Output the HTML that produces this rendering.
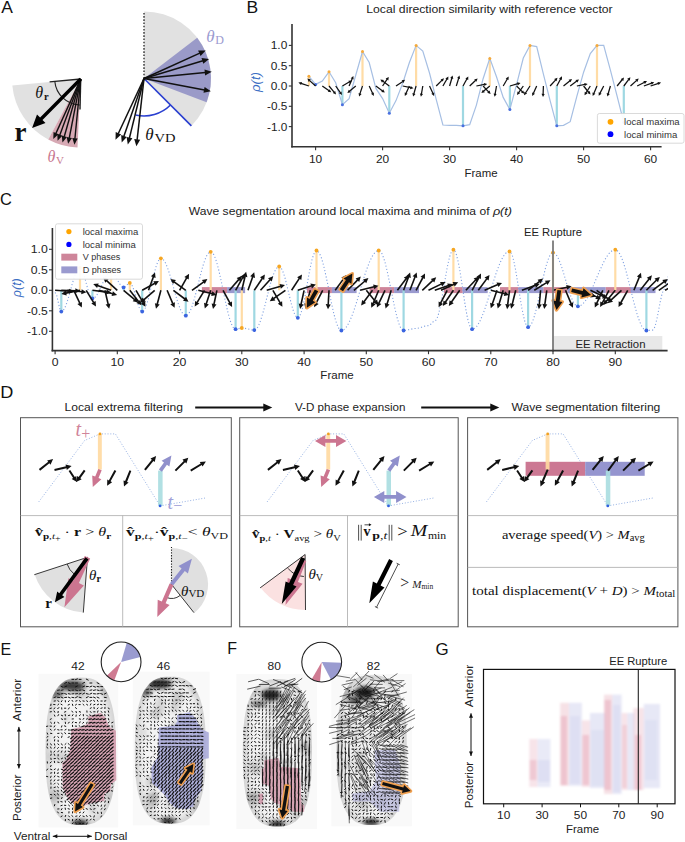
<!DOCTYPE html>
<html><head><meta charset="utf-8"><style>
html,body{margin:0;padding:0;background:#fff;width:685px;height:842px;overflow:hidden}
svg{display:block}
</style></head><body>
<svg width="685" height="842" viewBox="0 0 685 842">
<text x="1.2" y="12.8" font-size="17.34" text-anchor="start" fill="#111" font-family='"Liberation Sans", sans-serif' textLength="11.63" lengthAdjust="spacingAndGlyphs" >A</text>
<text x="246.6" y="12.8" font-size="17.34" text-anchor="start" fill="#111" font-family='"Liberation Sans", sans-serif' textLength="11.66" lengthAdjust="spacingAndGlyphs" >B</text>
<text x="0.0" y="204.6" font-size="17.34" text-anchor="start" fill="#111" font-family='"Liberation Sans", sans-serif' textLength="11.87" lengthAdjust="spacingAndGlyphs" >C</text>
<text x="0.2" y="397.5" font-size="17.34" text-anchor="start" fill="#111" font-family='"Liberation Sans", sans-serif' textLength="13.09" lengthAdjust="spacingAndGlyphs" >D</text>
<text x="0.4" y="654.6" font-size="17.34" text-anchor="start" fill="#111" font-family='"Liberation Sans", sans-serif' textLength="10.74" lengthAdjust="spacingAndGlyphs" >E</text>
<text x="227.2" y="654.0" font-size="17.34" text-anchor="start" fill="#111" font-family='"Liberation Sans", sans-serif' textLength="9.78" lengthAdjust="spacingAndGlyphs" >F</text>
<text x="435.4" y="654.6" font-size="17.34" text-anchor="start" fill="#111" font-family='"Liberation Sans", sans-serif' textLength="13.17" lengthAdjust="spacingAndGlyphs" >G</text>
<path d="M80.7,79.0 L48.2,139.5 A68.7,68.7 0 0 1 12.3,85.5 Z" fill="#e1e1e1" />
<path d="M80.7,79.0 L77.5,147.6 A68.7,68.7 0 0 1 48.2,139.5 Z" fill="#d7a9b4" />
<line x1="80.7" y1="79.0" x2="49.6" y2="81.9" stroke="#222" stroke-width="1.4" />
<line x1="80.7" y1="79.0" x2="80.0" y2="109.6" stroke="#222" stroke-width="1.4" />
<path d="M79.8,105.0 A26,26 0 0 1 54.8,81.4" fill="none" stroke="#222" stroke-width="1.1"/>
<line x1="80.7" y1="79.0" x2="55.8" y2="133.6" stroke="#111" stroke-width="1.4" />
<path d="M53.3,139.1 L53.5,132.0 L58.5,134.3 Z" fill="#111" />
<line x1="80.7" y1="79.0" x2="59.7" y2="135.2" stroke="#111" stroke-width="1.4" />
<path d="M57.6,140.8 L57.3,133.8 L62.4,135.7 Z" fill="#111" />
<line x1="80.7" y1="79.0" x2="64.2" y2="136.7" stroke="#111" stroke-width="1.4" />
<path d="M62.5,142.4 L61.7,135.4 L66.9,137.0 Z" fill="#111" />
<line x1="80.7" y1="79.0" x2="69.3" y2="137.9" stroke="#111" stroke-width="1.4" />
<path d="M68.1,143.8 L66.6,136.9 L72.0,137.9 Z" fill="#111" />
<line x1="80.7" y1="79.0" x2="74.9" y2="138.7" stroke="#111" stroke-width="1.4" />
<path d="M74.4,144.7 L72.3,138.0 L77.7,138.5 Z" fill="#111" />
<path d="M79.5,77.8 L40.1,117.5 L37.0,114.4 L32.1,127.9 L45.5,122.9 L42.5,119.9 L81.9,80.2 Z" fill="#000" stroke="none" stroke-width="0" stroke-linejoin="round" paint-order="stroke"/>
<text x="14.6" y="141.2" font-size="27" text-anchor="start" fill="#111" font-family='"Liberation Serif", serif' font-weight="bold">r</text>
<text x="35.3" y="97.5" font-size="16" text-anchor="start" fill="#111" font-family='"Liberation Serif", serif' font-style="italic">θ</text>
<text x="44.0" y="99.6" font-size="10.5" text-anchor="start" fill="#111" font-family='"Liberation Serif", serif' font-weight="bold">r</text>
<text x="47.5" y="161.5" font-size="16" text-anchor="start" fill="#c8788f" font-family='"Liberation Serif", serif' font-style="italic">θ</text>
<text x="56.0" y="163.5" font-size="11" text-anchor="start" fill="#c8788f" font-family='"Liberation Serif", serif' >V</text>
<path d="M144.0,78.5 L144.0,11.5 A67,67 0 0 1 191.4,125.9 Z" fill="#e1e1e1" />
<path d="M144.0,78.5 L197.2,37.8 A67,67 0 0 1 206.6,102.3 Z" fill="#9a9ac8" />
<line x1="144.0" y1="78.5" x2="144.0" y2="11.4" stroke="#222" stroke-width="1.3" stroke-dasharray="1.6,1.6"/>
<line x1="144.0" y1="78.5" x2="191.4" y2="125.9" stroke="#2a3fd0" stroke-width="1.6" />
<path d="M170.5,105.0 A37.5,37.5 0 0 1 135.6,115.0" fill="none" stroke="#2a3fd0" stroke-width="1.6"/>
<line x1="144.0" y1="78.5" x2="199.8" y2="53.1" stroke="#111" stroke-width="1.5" />
<path d="M205.7,50.4 L200.6,56.0 L198.1,50.6 Z" fill="#111" />
<line x1="144.0" y1="78.5" x2="202.9" y2="60.8" stroke="#111" stroke-width="1.5" />
<path d="M209.1,58.9 L203.3,63.8 L201.5,58.0 Z" fill="#111" />
<line x1="144.0" y1="78.5" x2="205.3" y2="72.4" stroke="#111" stroke-width="1.5" />
<path d="M211.8,71.8 L205.1,75.5 L204.5,69.5 Z" fill="#111" />
<line x1="144.0" y1="78.5" x2="204.5" y2="90.0" stroke="#111" stroke-width="1.5" />
<path d="M210.9,91.2 L203.5,92.8 L204.6,86.9 Z" fill="#111" />
<line x1="144.0" y1="78.5" x2="118.2" y2="133.8" stroke="#111" stroke-width="1.5" />
<path d="M115.5,139.7 L115.7,132.1 L121.2,134.6 Z" fill="#111" />
<line x1="144.0" y1="78.5" x2="123.8" y2="136.4" stroke="#111" stroke-width="1.5" />
<path d="M121.7,142.5 L121.2,134.9 L126.8,136.9 Z" fill="#111" />
<line x1="144.0" y1="78.5" x2="129.4" y2="138.1" stroke="#111" stroke-width="1.5" />
<path d="M127.8,144.4 L126.6,136.9 L132.4,138.3 Z" fill="#111" />
<line x1="144.0" y1="78.5" x2="137.1" y2="139.8" stroke="#111" stroke-width="1.5" />
<path d="M136.4,146.3 L134.2,139.0 L140.2,139.7 Z" fill="#111" />
<text x="206.2" y="41.8" font-size="17" text-anchor="start" fill="#9a9ad0" font-family='"Liberation Serif", serif' font-style="italic">θ</text>
<text x="215.3" y="43.8" font-size="12" text-anchor="start" fill="#9a9ad0" font-family='"Liberation Serif", serif' >D</text>
<text x="145.3" y="140.0" font-size="17" text-anchor="start" fill="#111" font-family='"Liberation Serif", serif' font-style="italic">θ</text>
<text x="154.4" y="142.0" font-size="12.5" text-anchor="start" fill="#111" font-family='"Liberation Serif", serif' textLength="21" lengthAdjust="spacingAndGlyphs">VD</text>
<text x="489.5" y="12.7" font-size="10.81" text-anchor="middle" fill="#222" font-family='"Liberation Sans", sans-serif' textLength="246.41" lengthAdjust="spacingAndGlyphs" >Local direction similarity with reference vector</text>
<line x1="292.0" y1="24.0" x2="292.0" y2="147.6" stroke="#333" stroke-width="1.6" />
<line x1="291.2" y1="146.8" x2="661.6" y2="146.8" stroke="#333" stroke-width="1.6" />
<line x1="288.8" y1="45.4" x2="292.0" y2="45.4" stroke="#333" stroke-width="1.1" />
<text x="287.3" y="49.4" font-size="10.61" text-anchor="end" fill="#222" font-family='"Liberation Sans", sans-serif' textLength="16.54" lengthAdjust="spacingAndGlyphs" >1.0</text>
<line x1="288.8" y1="65.7" x2="292.0" y2="65.7" stroke="#333" stroke-width="1.1" />
<text x="287.3" y="69.7" font-size="10.61" text-anchor="end" fill="#222" font-family='"Liberation Sans", sans-serif' textLength="16.54" lengthAdjust="spacingAndGlyphs" >0.5</text>
<line x1="288.8" y1="86.0" x2="292.0" y2="86.0" stroke="#333" stroke-width="1.1" />
<text x="287.3" y="90.0" font-size="10.61" text-anchor="end" fill="#222" font-family='"Liberation Sans", sans-serif' textLength="16.54" lengthAdjust="spacingAndGlyphs" >0.0</text>
<line x1="288.8" y1="106.3" x2="292.0" y2="106.3" stroke="#333" stroke-width="1.1" />
<text x="287.3" y="110.3" font-size="10.61" text-anchor="end" fill="#222" font-family='"Liberation Sans", sans-serif' textLength="20.29" lengthAdjust="spacingAndGlyphs" >-0.5</text>
<line x1="288.8" y1="126.6" x2="292.0" y2="126.6" stroke="#333" stroke-width="1.1" />
<text x="287.3" y="130.6" font-size="10.61" text-anchor="end" fill="#222" font-family='"Liberation Sans", sans-serif' textLength="20.29" lengthAdjust="spacingAndGlyphs" >-1.0</text>
<line x1="315.6" y1="146.8" x2="315.6" y2="150.3" stroke="#333" stroke-width="1.1" />
<text x="315.6" y="162.6" font-size="10.61" text-anchor="middle" fill="#222" font-family='"Liberation Sans", sans-serif' textLength="13.23" lengthAdjust="spacingAndGlyphs" >10</text>
<line x1="382.6" y1="146.8" x2="382.6" y2="150.3" stroke="#333" stroke-width="1.1" />
<text x="382.6" y="162.6" font-size="10.61" text-anchor="middle" fill="#222" font-family='"Liberation Sans", sans-serif' textLength="13.23" lengthAdjust="spacingAndGlyphs" >20</text>
<line x1="449.6" y1="146.8" x2="449.6" y2="150.3" stroke="#333" stroke-width="1.1" />
<text x="449.6" y="162.6" font-size="10.61" text-anchor="middle" fill="#222" font-family='"Liberation Sans", sans-serif' textLength="13.23" lengthAdjust="spacingAndGlyphs" >30</text>
<line x1="516.6" y1="146.8" x2="516.6" y2="150.3" stroke="#333" stroke-width="1.1" />
<text x="516.6" y="162.6" font-size="10.61" text-anchor="middle" fill="#222" font-family='"Liberation Sans", sans-serif' textLength="13.23" lengthAdjust="spacingAndGlyphs" >40</text>
<line x1="583.6" y1="146.8" x2="583.6" y2="150.3" stroke="#333" stroke-width="1.1" />
<text x="583.6" y="162.6" font-size="10.61" text-anchor="middle" fill="#222" font-family='"Liberation Sans", sans-serif' textLength="13.23" lengthAdjust="spacingAndGlyphs" >50</text>
<line x1="650.6" y1="146.8" x2="650.6" y2="150.3" stroke="#333" stroke-width="1.1" />
<text x="650.6" y="162.6" font-size="10.61" text-anchor="middle" fill="#222" font-family='"Liberation Sans", sans-serif' textLength="13.23" lengthAdjust="spacingAndGlyphs" >60</text>
<text x="481.0" y="176.8" font-size="10.81" text-anchor="middle" fill="#222" font-family='"Liberation Sans", sans-serif' textLength="33.03" lengthAdjust="spacingAndGlyphs" >Frame</text>
<text transform="translate(259.5,82) rotate(-90)" font-size="12" text-anchor="middle" fill="#3d6fc4" font-family='"Liberation Sans", sans-serif' font-style="italic" textLength="20" lengthAdjust="spacingAndGlyphs">ρ(t)</text>
<line x1="308.9" y1="86.0" x2="308.9" y2="76.3" stroke="#ffdca6" stroke-width="2.2" />
<line x1="329.0" y1="86.0" x2="329.0" y2="71.8" stroke="#ffdca6" stroke-width="2.2" />
<line x1="362.5" y1="86.0" x2="362.5" y2="51.5" stroke="#ffdca6" stroke-width="2.2" />
<line x1="416.1" y1="86.0" x2="416.1" y2="45.4" stroke="#ffdca6" stroke-width="2.2" />
<line x1="489.8" y1="86.0" x2="489.8" y2="58.4" stroke="#ffdca6" stroke-width="2.2" />
<line x1="530.0" y1="86.0" x2="530.0" y2="45.4" stroke="#ffdca6" stroke-width="2.2" />
<line x1="597.0" y1="86.0" x2="597.0" y2="45.4" stroke="#ffdca6" stroke-width="2.2" />
<line x1="315.6" y1="86.0" x2="315.6" y2="84.4" stroke="#9fd8e2" stroke-width="2.2" />
<line x1="342.4" y1="86.0" x2="342.4" y2="104.7" stroke="#9fd8e2" stroke-width="2.2" />
<line x1="389.3" y1="86.0" x2="389.3" y2="113.2" stroke="#9fd8e2" stroke-width="2.2" />
<line x1="463.0" y1="86.0" x2="463.0" y2="125.8" stroke="#9fd8e2" stroke-width="2.2" />
<line x1="509.9" y1="86.0" x2="509.9" y2="109.5" stroke="#9fd8e2" stroke-width="2.2" />
<line x1="556.8" y1="86.0" x2="556.8" y2="125.8" stroke="#9fd8e2" stroke-width="2.2" />
<line x1="623.8" y1="86.0" x2="623.8" y2="122.5" stroke="#9fd8e2" stroke-width="2.2" />
<polyline points="308.9,76.3 315.6,84.4 322.3,81.1 329.0,71.8 335.7,82.8 342.4,104.7 349.1,98.6 355.8,75.0 362.5,51.5 369.2,62.5 375.9,88.4 382.6,98.6 389.3,113.2 396.0,100.6 402.7,83.2 409.4,62.5 416.1,45.4 422.8,51.1 429.5,73.0 436.2,99.4 442.9,125.0 449.6,125.4 456.3,125.4 463.0,125.8 469.7,124.6 476.4,105.1 483.1,78.7 489.8,58.4 496.5,76.7 503.2,97.4 509.9,109.5 516.6,84.4 523.3,58.0 530.0,45.4 536.7,46.6 543.4,74.2 550.1,100.6 556.8,125.8 563.5,125.4 570.2,121.7 576.9,96.2 583.6,72.2 590.3,53.5 597.0,45.4 603.7,45.4 610.4,70.2 617.1,96.2 623.8,122.5" fill="none" stroke="#a6bfe3" stroke-width="1.2"/>
<circle cx="308.9" cy="76.3" r="1.5" fill="#f5a93a"/>
<circle cx="329.0" cy="71.8" r="1.5" fill="#f5a93a"/>
<circle cx="362.5" cy="51.5" r="1.5" fill="#f5a93a"/>
<circle cx="416.1" cy="45.4" r="1.5" fill="#f5a93a"/>
<circle cx="489.8" cy="58.4" r="1.5" fill="#f5a93a"/>
<circle cx="530.0" cy="45.4" r="1.5" fill="#f5a93a"/>
<circle cx="597.0" cy="45.4" r="1.5" fill="#f5a93a"/>
<circle cx="315.6" cy="84.4" r="1.5" fill="#4a70e0"/>
<circle cx="342.4" cy="104.7" r="1.5" fill="#4a70e0"/>
<circle cx="389.3" cy="113.2" r="1.5" fill="#4a70e0"/>
<circle cx="463.0" cy="125.8" r="1.5" fill="#4a70e0"/>
<circle cx="509.9" cy="109.5" r="1.5" fill="#4a70e0"/>
<circle cx="556.8" cy="125.8" r="1.5" fill="#4a70e0"/>
<circle cx="623.8" cy="122.5" r="1.5" fill="#4a70e0"/>
<line x1="308.9" y1="86.0" x2="301.0" y2="83.4" stroke="#111" stroke-width="1.25" />
<path d="M298.4,82.6 L302.0,82.1 L301.0,85.1 Z" fill="#111" />
<line x1="315.6" y1="86.0" x2="309.4" y2="80.4" stroke="#111" stroke-width="1.25" />
<path d="M307.4,78.6 L310.9,79.6 L308.7,82.0 Z" fill="#111" />
<line x1="322.3" y1="86.0" x2="329.1" y2="90.8" stroke="#111" stroke-width="1.25" />
<path d="M331.3,92.3 L327.8,91.8 L329.6,89.2 Z" fill="#111" />
<line x1="329.0" y1="86.0" x2="334.3" y2="92.4" stroke="#111" stroke-width="1.25" />
<path d="M336.1,94.4 L332.8,93.0 L335.2,90.9 Z" fill="#111" />
<line x1="335.7" y1="86.0" x2="340.5" y2="92.8" stroke="#111" stroke-width="1.25" />
<path d="M342.0,95.0 L338.9,93.3 L341.5,91.5 Z" fill="#111" />
<line x1="342.4" y1="86.0" x2="349.6" y2="81.8" stroke="#111" stroke-width="1.25" />
<path d="M351.9,80.5 L350.0,83.5 L348.4,80.7 Z" fill="#111" />
<line x1="349.1" y1="86.0" x2="352.3" y2="78.4" stroke="#111" stroke-width="1.25" />
<path d="M353.4,75.9 L353.6,79.4 L350.7,78.2 Z" fill="#111" />
<line x1="355.8" y1="86.0" x2="349.4" y2="91.3" stroke="#111" stroke-width="1.25" />
<path d="M347.4,93.1 L348.8,89.8 L350.9,92.2 Z" fill="#111" />
<line x1="362.5" y1="86.0" x2="359.9" y2="93.9" stroke="#111" stroke-width="1.25" />
<path d="M359.1,96.5 L358.6,92.9 L361.6,93.9 Z" fill="#111" />
<line x1="369.2" y1="86.0" x2="372.7" y2="93.5" stroke="#111" stroke-width="1.25" />
<path d="M373.8,96.0 L371.0,93.7 L373.9,92.4 Z" fill="#111" />
<line x1="375.9" y1="86.0" x2="382.6" y2="90.9" stroke="#111" stroke-width="1.25" />
<path d="M384.8,92.5 L381.3,91.9 L383.2,89.3 Z" fill="#111" />
<line x1="382.6" y1="86.0" x2="387.2" y2="79.1" stroke="#111" stroke-width="1.25" />
<path d="M388.8,76.9 L388.3,80.4 L385.6,78.6 Z" fill="#111" />
<line x1="389.3" y1="86.0" x2="382.6" y2="81.1" stroke="#111" stroke-width="1.25" />
<path d="M380.4,79.5 L383.9,80.1 L382.0,82.7 Z" fill="#111" />
<line x1="396.0" y1="86.0" x2="402.9" y2="81.4" stroke="#111" stroke-width="1.25" />
<path d="M405.1,79.8 L403.4,83.0 L401.6,80.3 Z" fill="#111" />
<line x1="402.7" y1="86.0" x2="410.8" y2="87.7" stroke="#111" stroke-width="1.25" />
<path d="M413.5,88.3 L410.0,89.2 L410.7,86.1 Z" fill="#111" />
<line x1="409.4" y1="86.0" x2="405.9" y2="93.5" stroke="#111" stroke-width="1.25" />
<path d="M404.8,96.0 L404.7,92.4 L407.6,93.7 Z" fill="#111" />
<line x1="416.1" y1="86.0" x2="413.8" y2="94.0" stroke="#111" stroke-width="1.25" />
<path d="M413.1,96.6 L412.4,93.1 L415.5,93.9 Z" fill="#111" />
<line x1="422.8" y1="86.0" x2="421.4" y2="94.2" stroke="#111" stroke-width="1.25" />
<path d="M420.9,96.8 L419.9,93.4 L423.0,94.0 Z" fill="#111" />
<line x1="429.5" y1="86.0" x2="433.0" y2="93.5" stroke="#111" stroke-width="1.25" />
<path d="M434.1,96.0 L431.3,93.7 L434.2,92.4 Z" fill="#111" />
<line x1="436.2" y1="86.0" x2="442.1" y2="80.1" stroke="#111" stroke-width="1.25" />
<path d="M444.0,78.2 L442.8,81.6 L440.6,79.4 Z" fill="#111" />
<line x1="442.9" y1="86.0" x2="447.1" y2="78.8" stroke="#111" stroke-width="1.25" />
<path d="M448.4,76.5 L448.2,80.0 L445.4,78.4 Z" fill="#111" />
<line x1="449.6" y1="86.0" x2="451.9" y2="78.0" stroke="#111" stroke-width="1.25" />
<path d="M452.6,75.4 L453.3,78.9 L450.2,78.1 Z" fill="#111" />
<line x1="456.3" y1="86.0" x2="458.7" y2="78.1" stroke="#111" stroke-width="1.25" />
<path d="M459.5,75.5 L460.1,79.0 L457.1,78.1 Z" fill="#111" />
<line x1="463.0" y1="86.0" x2="467.0" y2="78.7" stroke="#111" stroke-width="1.25" />
<path d="M468.3,76.4 L468.2,80.0 L465.4,78.4 Z" fill="#111" />
<line x1="469.7" y1="86.0" x2="475.7" y2="80.2" stroke="#111" stroke-width="1.25" />
<path d="M477.6,78.4 L476.4,81.7 L474.2,79.4 Z" fill="#111" />
<line x1="476.4" y1="86.0" x2="484.5" y2="84.4" stroke="#111" stroke-width="1.25" />
<path d="M487.2,83.9 L484.4,86.1 L483.8,82.9 Z" fill="#111" />
<line x1="483.1" y1="86.0" x2="488.8" y2="92.1" stroke="#111" stroke-width="1.25" />
<path d="M490.6,94.0 L487.2,92.8 L489.6,90.6 Z" fill="#111" />
<line x1="489.8" y1="86.0" x2="483.4" y2="91.3" stroke="#111" stroke-width="1.25" />
<path d="M481.4,93.1 L482.8,89.8 L484.9,92.2 Z" fill="#111" />
<line x1="496.5" y1="86.0" x2="495.1" y2="94.2" stroke="#111" stroke-width="1.25" />
<path d="M494.6,96.8 L493.6,93.4 L496.7,94.0 Z" fill="#111" />
<line x1="503.2" y1="86.0" x2="507.4" y2="78.8" stroke="#111" stroke-width="1.25" />
<path d="M508.7,76.5 L508.5,80.0 L505.7,78.4 Z" fill="#111" />
<line x1="509.9" y1="86.0" x2="517.9" y2="83.7" stroke="#111" stroke-width="1.25" />
<path d="M520.5,83.0 L517.8,85.4 L517.0,82.3 Z" fill="#111" />
<line x1="516.6" y1="86.0" x2="522.5" y2="91.9" stroke="#111" stroke-width="1.25" />
<path d="M524.4,93.8 L521.0,92.6 L523.2,90.4 Z" fill="#111" />
<line x1="523.3" y1="86.0" x2="518.5" y2="92.8" stroke="#111" stroke-width="1.25" />
<path d="M517.0,95.0 L517.5,91.5 L520.1,93.3 Z" fill="#111" />
<line x1="530.0" y1="86.0" x2="525.5" y2="93.0" stroke="#111" stroke-width="1.25" />
<path d="M524.0,95.2 L524.4,91.7 L527.1,93.4 Z" fill="#111" />
<line x1="536.7" y1="86.0" x2="533.3" y2="93.6" stroke="#111" stroke-width="1.25" />
<path d="M532.2,96.0 L532.1,92.5 L535.0,93.8 Z" fill="#111" />
<line x1="543.4" y1="86.0" x2="543.1" y2="94.3" stroke="#111" stroke-width="1.25" />
<path d="M543.0,97.0 L541.5,93.7 L544.7,93.9 Z" fill="#111" />
<line x1="550.1" y1="86.0" x2="555.7" y2="79.8" stroke="#111" stroke-width="1.25" />
<path d="M557.5,77.8 L556.5,81.3 L554.1,79.1 Z" fill="#111" />
<line x1="556.8" y1="86.0" x2="560.7" y2="78.7" stroke="#111" stroke-width="1.25" />
<path d="M562.0,76.3 L561.9,79.9 L559.0,78.4 Z" fill="#111" />
<line x1="563.5" y1="86.0" x2="570.0" y2="80.8" stroke="#111" stroke-width="1.25" />
<path d="M572.0,79.1 L570.6,82.3 L568.6,79.8 Z" fill="#111" />
<line x1="570.2" y1="86.0" x2="576.8" y2="81.0" stroke="#111" stroke-width="1.25" />
<path d="M579.0,79.4 L577.4,82.6 L575.5,80.0 Z" fill="#111" />
<line x1="576.9" y1="86.0" x2="585.0" y2="84.4" stroke="#111" stroke-width="1.25" />
<path d="M587.7,83.9 L584.9,86.1 L584.3,82.9 Z" fill="#111" />
<line x1="583.6" y1="86.0" x2="588.8" y2="92.5" stroke="#111" stroke-width="1.25" />
<path d="M590.5,94.5 L587.3,93.1 L589.8,91.1 Z" fill="#111" />
<line x1="590.3" y1="86.0" x2="585.9" y2="93.0" stroke="#111" stroke-width="1.25" />
<path d="M584.5,95.3 L584.8,91.8 L587.5,93.5 Z" fill="#111" />
<line x1="597.0" y1="86.0" x2="593.8" y2="93.6" stroke="#111" stroke-width="1.25" />
<path d="M592.7,96.1 L592.5,92.6 L595.4,93.8 Z" fill="#111" />
<line x1="603.7" y1="86.0" x2="599.9" y2="93.4" stroke="#111" stroke-width="1.25" />
<path d="M598.7,95.8 L598.7,92.2 L601.6,93.7 Z" fill="#111" />
<line x1="610.4" y1="86.0" x2="608.1" y2="94.0" stroke="#111" stroke-width="1.25" />
<path d="M607.4,96.6 L606.7,93.1 L609.8,93.9 Z" fill="#111" />
<line x1="617.1" y1="86.0" x2="622.3" y2="79.5" stroke="#111" stroke-width="1.25" />
<path d="M624.0,77.5 L623.3,80.9 L620.8,78.9 Z" fill="#111" />
<line x1="623.8" y1="86.0" x2="628.8" y2="79.4" stroke="#111" stroke-width="1.25" />
<path d="M630.4,77.2 L629.8,80.7 L627.2,78.8 Z" fill="#111" />
<line x1="630.5" y1="86.0" x2="636.7" y2="80.4" stroke="#111" stroke-width="1.25" />
<path d="M638.7,78.6 L637.4,82.0 L635.2,79.6 Z" fill="#111" />
<line x1="637.2" y1="86.0" x2="644.6" y2="82.2" stroke="#111" stroke-width="1.25" />
<path d="M647.0,81.0 L644.9,83.9 L643.4,81.0 Z" fill="#111" />
<line x1="643.9" y1="86.0" x2="651.7" y2="83.2" stroke="#111" stroke-width="1.25" />
<path d="M654.2,82.2 L651.8,84.8 L650.7,81.8 Z" fill="#111" />
<line x1="650.6" y1="86.0" x2="658.5" y2="83.4" stroke="#111" stroke-width="1.25" />
<path d="M661.1,82.6 L658.5,85.1 L657.5,82.1 Z" fill="#111" />
<rect x="597.4" y="113.5" width="86.6" height="29.7" rx="2" fill="#fff" fill-opacity="0.93" stroke="#d0d0d0" stroke-width="0.8"/>
<circle cx="610.5" cy="121.8" r="2.9" fill="#ffa500"/>
<circle cx="610.5" cy="134.2" r="2.9" fill="#0000ff"/>
<text x="624.1" y="125.2" font-size="8.47" text-anchor="start" fill="#333" font-family='"Liberation Sans", sans-serif' textLength="55.54" lengthAdjust="spacingAndGlyphs" >local maxima</text>
<text x="624.1" y="137.6" font-size="8.47" text-anchor="start" fill="#333" font-family='"Liberation Sans", sans-serif' textLength="53.11" lengthAdjust="spacingAndGlyphs" >local minima</text>
<text x="188.8" y="214.8" font-size="10.81" text-anchor="start" fill="#222" font-family='"Liberation Sans", sans-serif' textLength="300.72" lengthAdjust="spacingAndGlyphs" >Wave segmentation around local maxima and minima of</text>
<text x="492.9" y="214.8" font-size="10.81" text-anchor="start" fill="#222" font-family='"Liberation Sans", sans-serif' textLength="19.16" lengthAdjust="spacingAndGlyphs"  font-style="italic">ρ(t)</text>
<rect x="553" y="336" width="109.3" height="15.2" fill="#e8e8e8"/>
<text x="610.5" y="348.0" font-size="10.61" text-anchor="middle" fill="#222" font-family='"Liberation Sans", sans-serif' textLength="69.97" lengthAdjust="spacingAndGlyphs" >EE Retraction</text>
<clipPath id="cclip"><rect x="52.4" y="220" width="615.6" height="131"/></clipPath>
<g clip-path="url(#cclip)">
<rect x="201.9" y="287.1" width="25.2" height="6" fill="#c9788f" fill-opacity="0.9"/>
<rect x="307" y="287.1" width="24.9" height="6" fill="#c9788f" fill-opacity="0.9"/>
<rect x="369.6" y="287.1" width="24.5" height="6" fill="#c9788f" fill-opacity="0.9"/>
<rect x="444" y="287.1" width="18.7" height="6" fill="#c9788f" fill-opacity="0.9"/>
<rect x="500" y="287.1" width="18.7" height="6" fill="#c9788f" fill-opacity="0.9"/>
<rect x="543.3" y="287.1" width="24.2" height="6" fill="#c9788f" fill-opacity="0.9"/>
<rect x="605.6" y="287.1" width="25.4" height="6" fill="#c9788f" fill-opacity="0.9"/>
<rect x="227.1" y="287.1" width="18.0" height="6" fill="#8f8fca" fill-opacity="0.9"/>
<rect x="331.9" y="287.1" width="24.7" height="6" fill="#8f8fca" fill-opacity="0.9"/>
<rect x="394.1" y="287.1" width="24.9" height="6" fill="#8f8fca" fill-opacity="0.9"/>
<rect x="462.7" y="287.1" width="25.0" height="6" fill="#8f8fca" fill-opacity="0.9"/>
<rect x="518.7" y="287.1" width="24.6" height="6" fill="#8f8fca" fill-opacity="0.9"/>
<rect x="567.5" y="287.1" width="38.1" height="6" fill="#8f8fca" fill-opacity="0.9"/>
<rect x="631" y="287.1" width="24.5" height="6" fill="#8f8fca" fill-opacity="0.9"/>
<line x1="80.0" y1="290.3" x2="80.0" y2="267.8" stroke="#ffdca6" stroke-width="2.2" />
<line x1="111.1" y1="290.3" x2="111.1" y2="271.9" stroke="#ffdca6" stroke-width="2.2" />
<line x1="129.8" y1="290.3" x2="129.8" y2="282.9" stroke="#ffdca6" stroke-width="2.2" />
<line x1="160.9" y1="290.3" x2="160.9" y2="258.3" stroke="#ffdca6" stroke-width="2.2" />
<line x1="210.7" y1="290.3" x2="210.7" y2="251.8" stroke="#ffdca6" stroke-width="2.2" />
<line x1="241.8" y1="290.3" x2="241.8" y2="328.0" stroke="#ffdca6" stroke-width="2.2" />
<line x1="279.2" y1="290.3" x2="279.2" y2="266.5" stroke="#ffdca6" stroke-width="2.2" />
<line x1="316.5" y1="290.3" x2="316.5" y2="250.5" stroke="#ffdca6" stroke-width="2.2" />
<line x1="378.7" y1="290.3" x2="378.7" y2="250.5" stroke="#ffdca6" stroke-width="2.2" />
<line x1="453.4" y1="290.3" x2="453.4" y2="249.7" stroke="#ffdca6" stroke-width="2.2" />
<line x1="509.5" y1="290.3" x2="509.5" y2="251.4" stroke="#ffdca6" stroke-width="2.2" />
<line x1="553.0" y1="290.3" x2="553.0" y2="252.6" stroke="#ffdca6" stroke-width="2.2" />
<line x1="615.3" y1="290.3" x2="615.3" y2="249.7" stroke="#ffdca6" stroke-width="2.2" />
<line x1="61.3" y1="290.3" x2="61.3" y2="311.6" stroke="#9fd8e2" stroke-width="2.2" />
<line x1="92.4" y1="290.3" x2="92.4" y2="298.5" stroke="#9fd8e2" stroke-width="2.2" />
<line x1="123.6" y1="290.3" x2="123.6" y2="287.4" stroke="#9fd8e2" stroke-width="2.2" />
<line x1="142.2" y1="290.3" x2="142.2" y2="311.6" stroke="#9fd8e2" stroke-width="2.2" />
<line x1="185.8" y1="290.3" x2="185.8" y2="315.7" stroke="#9fd8e2" stroke-width="2.2" />
<line x1="235.6" y1="290.3" x2="235.6" y2="329.2" stroke="#9fd8e2" stroke-width="2.2" />
<line x1="254.3" y1="290.3" x2="254.3" y2="330.1" stroke="#9fd8e2" stroke-width="2.2" />
<line x1="297.8" y1="290.3" x2="297.8" y2="317.8" stroke="#9fd8e2" stroke-width="2.2" />
<line x1="341.4" y1="290.3" x2="341.4" y2="330.5" stroke="#9fd8e2" stroke-width="2.2" />
<line x1="403.6" y1="290.3" x2="403.6" y2="330.5" stroke="#9fd8e2" stroke-width="2.2" />
<line x1="472.1" y1="290.3" x2="472.1" y2="329.2" stroke="#9fd8e2" stroke-width="2.2" />
<line x1="528.1" y1="290.3" x2="528.1" y2="327.2" stroke="#9fd8e2" stroke-width="2.2" />
<line x1="577.9" y1="290.3" x2="577.9" y2="306.3" stroke="#9fd8e2" stroke-width="2.2" />
<line x1="646.4" y1="290.3" x2="646.4" y2="330.5" stroke="#9fd8e2" stroke-width="2.2" />
<path d="M55.1,292.4 L56.7,295.2 L58.2,302.0 L59.8,308.8 L61.3,311.6 L62.9,310.9 L64.4,308.7 L66.0,305.2 L67.5,300.7 L69.1,295.4 L70.7,289.7 L72.2,284.0 L73.8,278.7 L75.3,274.2 L76.9,270.7 L78.4,268.5 L80.0,267.8 L81.6,268.9 L83.1,272.3 L84.7,277.2 L86.2,283.1 L87.8,289.0 L89.3,294.0 L90.9,297.3 L92.4,298.5 L94.0,298.0 L95.6,296.7 L97.1,294.6 L98.7,291.8 L100.2,288.6 L101.8,285.2 L103.3,281.7 L104.9,278.5 L106.4,275.8 L108.0,273.6 L109.6,272.3 L111.1,271.9 L112.7,272.4 L114.2,274.1 L115.8,276.7 L117.3,279.6 L118.9,282.6 L120.5,285.1 L122.0,286.8 L123.6,287.4 L125.1,286.8 L126.7,285.2 L128.2,283.6 L129.8,282.9 L131.3,284.0 L132.9,287.1 L134.5,291.8 L136.0,297.3 L137.6,302.8 L139.1,307.4 L140.7,310.5 L142.2,311.6 L143.8,310.7 L145.3,308.0 L146.9,303.8 L148.5,298.3 L150.0,291.9 L151.6,285.0 L153.1,278.1 L154.7,271.6 L156.2,266.1 L157.8,261.9 L159.4,259.2 L160.9,258.3 L162.5,258.9 L164.0,260.5 L165.6,263.2 L167.1,266.7 L168.7,271.1 L170.2,276.0 L171.8,281.4 L173.4,287.0 L174.9,292.6 L176.5,298.0 L178.0,303.0 L179.6,307.3 L181.1,310.9 L182.7,313.5 L184.2,315.2 L185.8,315.7 L187.4,315.1 L188.9,313.3 L190.5,310.3 L192.0,306.4 L193.6,301.5 L195.1,296.0 L196.7,290.0 L198.3,283.7 L199.8,277.5 L201.4,271.5 L202.9,266.0 L204.5,261.1 L206.0,257.1 L207.6,254.2 L209.1,252.4 L210.7,251.8 L212.3,252.5 L213.8,254.7 L215.4,258.3 L216.9,263.1 L218.5,269.0 L220.0,275.7 L221.6,282.9 L223.1,290.5 L224.7,298.1 L226.3,305.3 L227.8,312.0 L229.4,317.9 L230.9,322.7 L232.5,326.3 L234.0,328.5 L235.6,329.2 L237.2,329.1 L238.7,328.6 L240.3,328.2 L241.8,328.0 L243.4,328.1 L244.9,328.3 L246.5,328.7 L248.0,329.0 L249.6,329.4 L251.2,329.8 L252.7,330.0 L254.3,330.1 L255.8,329.5 L257.4,327.7 L258.9,324.7 L260.5,320.8 L262.0,315.9 L263.6,310.5 L265.2,304.5 L266.7,298.3 L268.3,292.1 L269.8,286.1 L271.4,280.6 L272.9,275.8 L274.5,271.9 L276.1,268.9 L277.6,267.1 L279.2,266.5 L280.7,267.4 L282.3,270.0 L283.8,274.0 L285.4,279.3 L286.9,285.5 L288.5,292.1 L290.1,298.8 L291.6,305.0 L293.2,310.3 L294.7,314.3 L296.3,316.9 L297.8,317.8 L299.4,316.6 L300.9,313.3 L302.5,307.9 L304.1,301.0 L305.6,292.9 L307.2,284.2 L308.7,275.4 L310.3,267.3 L311.8,260.4 L313.4,255.0 L315.0,251.7 L316.5,250.5 L318.1,251.3 L319.6,253.6 L321.2,257.3 L322.7,262.2 L324.3,268.3 L325.8,275.2 L327.4,282.7 L329.0,290.5 L330.5,298.3 L332.1,305.8 L333.6,312.7 L335.2,318.8 L336.7,323.7 L338.3,327.4 L339.8,329.7 L341.4,330.5 L343.0,330.1 L344.5,329.1 L346.1,327.4 L347.6,325.1 L349.2,322.2 L350.7,318.8 L352.3,314.8 L353.9,310.5 L355.4,305.8 L357.0,300.9 L358.5,295.7 L360.1,290.5 L361.6,285.3 L363.2,280.2 L364.7,275.2 L366.3,270.5 L367.9,266.2 L369.4,262.2 L371.0,258.8 L372.5,255.9 L374.1,253.6 L375.6,251.9 L377.2,250.9 L378.7,250.5 L380.3,251.3 L381.9,253.6 L383.4,257.3 L385.0,262.2 L386.5,268.3 L388.1,275.2 L389.6,282.7 L391.2,290.5 L392.8,298.3 L394.3,305.8 L395.9,312.7 L397.4,318.8 L399.0,323.7 L400.5,327.4 L402.1,329.7 L403.6,330.5 L405.2,330.4 L406.8,330.2 L408.3,329.8 L409.9,329.5 L411.4,329.1 L413.0,328.7 L414.5,328.5 L416.1,328.4 L417.6,328.3 L419.2,328.0 L420.8,327.5 L422.3,327.0 L423.9,326.4 L425.4,326.0 L427.0,325.7 L428.5,325.6 L430.1,324.9 L431.7,323.3 L433.2,321.7 L434.8,321.1 L436.3,319.8 L437.9,316.3 L439.4,310.6 L441.0,303.2 L442.5,294.6 L444.1,285.4 L445.7,276.1 L447.2,267.5 L448.8,260.2 L450.3,254.5 L451.9,250.9 L453.4,249.7 L455.0,251.1 L456.5,255.0 L458.1,261.4 L459.7,269.6 L461.2,279.2 L462.8,289.5 L464.3,299.8 L465.9,309.4 L467.4,317.6 L469.0,323.9 L470.6,327.9 L472.1,329.2 L473.7,328.9 L475.2,327.9 L476.8,326.3 L478.3,324.0 L479.9,321.2 L481.4,317.8 L483.0,314.0 L484.6,309.8 L486.1,305.2 L487.7,300.4 L489.2,295.4 L490.8,290.3 L492.3,285.2 L493.9,280.2 L495.4,275.4 L497.0,270.8 L498.6,266.6 L500.1,262.8 L501.7,259.4 L503.2,256.6 L504.8,254.3 L506.3,252.7 L507.9,251.7 L509.5,251.4 L511.0,252.6 L512.6,256.4 L514.1,262.5 L515.7,270.3 L517.2,279.5 L518.8,289.3 L520.3,299.1 L521.9,308.2 L523.5,316.1 L525.0,322.1 L526.6,325.9 L528.1,327.2 L529.7,326.5 L531.2,324.4 L532.8,320.9 L534.3,316.3 L535.9,310.6 L537.5,304.2 L539.0,297.2 L540.6,289.9 L542.1,282.6 L543.7,275.6 L545.2,269.2 L546.8,263.5 L548.4,258.9 L549.9,255.4 L551.5,253.3 L553.0,252.6 L554.6,253.1 L556.1,254.6 L557.7,257.1 L559.2,260.4 L560.8,264.5 L562.4,269.2 L563.9,274.2 L565.5,279.4 L567.0,284.7 L568.6,289.7 L570.1,294.4 L571.7,298.4 L573.2,301.8 L574.8,304.2 L576.4,305.8 L577.9,306.3 L579.5,306.0 L581.0,305.3 L582.6,304.1 L584.1,302.5 L585.7,300.4 L587.3,298.0 L588.8,295.2 L590.4,292.1 L591.9,288.8 L593.5,285.3 L595.0,281.7 L596.6,278.0 L598.1,274.3 L599.7,270.7 L601.3,267.2 L602.8,263.9 L604.4,260.8 L605.9,258.0 L607.5,255.6 L609.0,253.5 L610.6,251.9 L612.1,250.7 L613.7,250.0 L615.3,249.7 L616.8,250.2 L618.4,251.7 L619.9,254.1 L621.5,257.4 L623.0,261.5 L624.6,266.4 L626.2,271.8 L627.7,277.6 L629.3,283.8 L630.8,290.1 L632.4,296.4 L633.9,302.6 L635.5,308.4 L637.0,313.8 L638.6,318.7 L640.2,322.8 L641.7,326.1 L643.3,328.5 L644.8,330.0 L646.4,330.5 L647.9,330.4 L649.5,330.3 L651.0,330.1 L652.6,330.1 L654.2,328.5 L655.7,323.9 L657.3,317.2 L658.8,309.2 L660.4,301.2 L661.9,294.4 L663.5,289.8 L665.1,288.2 L666.6,284.9 L668.2,277.0 L669.7,269.0 L671.3,265.7" fill="none" stroke="#7d9fe0" stroke-width="1.1" stroke-dasharray="1.1,2.2"/>
<circle cx="80.0" cy="267.8" r="1.9" fill="#f5a623"/>
<circle cx="111.1" cy="271.9" r="1.9" fill="#f5a623"/>
<circle cx="129.8" cy="282.9" r="1.9" fill="#f5a623"/>
<circle cx="160.9" cy="258.3" r="1.9" fill="#f5a623"/>
<circle cx="210.7" cy="251.8" r="1.9" fill="#f5a623"/>
<circle cx="241.8" cy="328.0" r="1.9" fill="#f5a623"/>
<circle cx="279.2" cy="266.5" r="1.9" fill="#f5a623"/>
<circle cx="316.5" cy="250.5" r="1.9" fill="#f5a623"/>
<circle cx="378.7" cy="250.5" r="1.9" fill="#f5a623"/>
<circle cx="453.4" cy="249.7" r="1.9" fill="#f5a623"/>
<circle cx="509.5" cy="251.4" r="1.9" fill="#f5a623"/>
<circle cx="553.0" cy="252.6" r="1.9" fill="#f5a623"/>
<circle cx="615.3" cy="249.7" r="1.9" fill="#f5a623"/>
<circle cx="61.3" cy="311.6" r="1.9" fill="#3a64e0"/>
<circle cx="92.4" cy="298.5" r="1.9" fill="#3a64e0"/>
<circle cx="123.6" cy="287.4" r="1.9" fill="#3a64e0"/>
<circle cx="142.2" cy="311.6" r="1.9" fill="#3a64e0"/>
<circle cx="185.8" cy="315.7" r="1.9" fill="#3a64e0"/>
<circle cx="235.6" cy="329.2" r="1.9" fill="#3a64e0"/>
<circle cx="254.3" cy="330.1" r="1.9" fill="#3a64e0"/>
<circle cx="297.8" cy="317.8" r="1.9" fill="#3a64e0"/>
<circle cx="341.4" cy="330.5" r="1.9" fill="#3a64e0"/>
<circle cx="403.6" cy="330.5" r="1.9" fill="#3a64e0"/>
<circle cx="472.1" cy="329.2" r="1.9" fill="#3a64e0"/>
<circle cx="528.1" cy="327.2" r="1.9" fill="#3a64e0"/>
<circle cx="577.9" cy="306.3" r="1.9" fill="#3a64e0"/>
<circle cx="646.4" cy="330.5" r="1.9" fill="#3a64e0"/>
<line x1="55.1" y1="290.3" x2="69.6" y2="291.3" stroke="#111" stroke-width="1.6" />
<path d="M74.1,291.6 L68.9,293.8 L69.2,288.8 Z" fill="#111" />
<line x1="61.3" y1="290.3" x2="75.8" y2="290.8" stroke="#111" stroke-width="1.6" />
<path d="M80.3,291.0 L75.2,293.3 L75.4,288.3 Z" fill="#111" />
<line x1="67.5" y1="290.3" x2="82.0" y2="291.8" stroke="#111" stroke-width="1.6" />
<path d="M86.4,292.3 L81.2,294.2 L81.7,289.3 Z" fill="#111" />
<line x1="73.8" y1="290.3" x2="79.9" y2="303.4" stroke="#111" stroke-width="1.6" />
<path d="M81.8,307.5 L77.4,304.0 L82.0,301.9 Z" fill="#111" />
<line x1="80.0" y1="290.3" x2="65.8" y2="293.1" stroke="#111" stroke-width="1.6" />
<path d="M61.3,293.9 L65.8,290.5 L66.7,295.4 Z" fill="#111" />
<line x1="86.2" y1="290.3" x2="93.7" y2="302.7" stroke="#111" stroke-width="1.6" />
<path d="M96.0,306.6 L91.3,303.6 L95.6,301.0 Z" fill="#111" />
<line x1="92.4" y1="290.3" x2="106.8" y2="292.1" stroke="#111" stroke-width="1.6" />
<path d="M111.3,292.6 L106.0,294.5 L106.6,289.5 Z" fill="#111" />
<line x1="98.7" y1="290.3" x2="112.7" y2="293.8" stroke="#111" stroke-width="1.6" />
<path d="M117.1,294.9 L111.6,296.1 L112.9,291.3 Z" fill="#111" />
<line x1="104.9" y1="290.3" x2="108.2" y2="304.4" stroke="#111" stroke-width="1.6" />
<path d="M109.2,308.8 L105.6,304.5 L110.5,303.4 Z" fill="#111" />
<line x1="111.1" y1="290.3" x2="97.4" y2="285.6" stroke="#111" stroke-width="1.6" />
<path d="M93.2,284.1 L98.7,283.4 L97.1,288.1 Z" fill="#111" />
<line x1="117.3" y1="290.3" x2="106.6" y2="280.6" stroke="#111" stroke-width="1.6" />
<path d="M103.2,277.6 L108.6,279.1 L105.3,282.8 Z" fill="#111" />
<line x1="123.6" y1="290.3" x2="134.7" y2="299.6" stroke="#111" stroke-width="1.6" />
<path d="M138.1,302.5 L132.7,301.2 L135.9,297.4 Z" fill="#111" />
<line x1="129.8" y1="290.3" x2="138.7" y2="301.7" stroke="#111" stroke-width="1.6" />
<path d="M141.5,305.3 L136.4,302.9 L140.4,299.8 Z" fill="#111" />
<line x1="136.0" y1="290.3" x2="143.3" y2="302.9" stroke="#111" stroke-width="1.6" />
<path d="M145.5,306.8 L140.8,303.7 L145.2,301.2 Z" fill="#111" />
<line x1="142.2" y1="290.3" x2="154.9" y2="283.3" stroke="#111" stroke-width="1.6" />
<path d="M158.9,281.1 L155.7,285.7 L153.3,281.3 Z" fill="#111" />
<line x1="148.5" y1="290.3" x2="153.4" y2="276.7" stroke="#111" stroke-width="1.6" />
<path d="M155.0,272.4 L155.6,278.0 L150.9,276.3 Z" fill="#111" />
<line x1="154.7" y1="290.3" x2="143.7" y2="299.8" stroke="#111" stroke-width="1.6" />
<path d="M140.3,302.8 L142.5,297.6 L145.8,301.4 Z" fill="#111" />
<line x1="160.9" y1="290.3" x2="157.2" y2="304.3" stroke="#111" stroke-width="1.6" />
<path d="M156.0,308.7 L154.9,303.2 L159.7,304.5 Z" fill="#111" />
<line x1="167.1" y1="290.3" x2="172.8" y2="303.6" stroke="#111" stroke-width="1.6" />
<path d="M174.6,307.8 L170.3,304.2 L174.9,302.2 Z" fill="#111" />
<line x1="173.4" y1="290.3" x2="184.9" y2="299.0" stroke="#111" stroke-width="1.6" />
<path d="M188.5,301.7 L183.0,300.7 L186.0,296.7 Z" fill="#111" />
<line x1="179.6" y1="290.3" x2="186.8" y2="277.7" stroke="#111" stroke-width="1.6" />
<path d="M189.1,273.8 L188.7,279.4 L184.4,276.9 Z" fill="#111" />
<line x1="185.8" y1="290.3" x2="174.1" y2="281.8" stroke="#111" stroke-width="1.6" />
<path d="M170.4,279.1 L175.9,280.0 L173.0,284.1 Z" fill="#111" />
<line x1="192.0" y1="290.3" x2="203.8" y2="281.8" stroke="#111" stroke-width="1.6" />
<path d="M207.4,279.1 L204.8,284.1 L201.9,280.0 Z" fill="#111" />
<line x1="198.3" y1="290.3" x2="212.3" y2="293.8" stroke="#111" stroke-width="1.6" />
<path d="M216.7,294.9 L211.2,296.1 L212.4,291.3 Z" fill="#111" />
<line x1="204.5" y1="290.3" x2="197.0" y2="302.7" stroke="#111" stroke-width="1.6" />
<path d="M194.7,306.6 L195.1,301.0 L199.4,303.6 Z" fill="#111" />
<line x1="210.7" y1="290.3" x2="206.2" y2="304.1" stroke="#111" stroke-width="1.6" />
<path d="M204.8,308.4 L204.0,302.8 L208.8,304.4 Z" fill="#111" />
<line x1="216.9" y1="290.3" x2="213.9" y2="304.5" stroke="#111" stroke-width="1.6" />
<path d="M213.0,308.9 L211.6,303.5 L216.5,304.5 Z" fill="#111" />
<line x1="223.1" y1="290.3" x2="230.0" y2="303.1" stroke="#111" stroke-width="1.6" />
<path d="M232.1,307.1 L227.5,303.8 L231.9,301.5 Z" fill="#111" />
<line x1="229.4" y1="290.3" x2="238.9" y2="279.4" stroke="#111" stroke-width="1.6" />
<path d="M241.8,276.0 L240.4,281.4 L236.7,278.1 Z" fill="#111" />
<line x1="235.6" y1="290.3" x2="242.6" y2="277.6" stroke="#111" stroke-width="1.6" />
<path d="M244.8,273.7 L244.6,279.3 L240.2,276.8 Z" fill="#111" />
<line x1="241.8" y1="290.3" x2="245.1" y2="276.2" stroke="#111" stroke-width="1.6" />
<path d="M246.1,271.8 L247.4,277.2 L242.5,276.1 Z" fill="#111" />
<line x1="248.0" y1="290.3" x2="252.8" y2="276.6" stroke="#111" stroke-width="1.6" />
<path d="M254.2,272.3 L255.0,277.9 L250.2,276.2 Z" fill="#111" />
<line x1="254.3" y1="290.3" x2="262.4" y2="278.3" stroke="#111" stroke-width="1.6" />
<path d="M264.9,274.5 L264.2,280.1 L260.0,277.3 Z" fill="#111" />
<line x1="260.5" y1="290.3" x2="270.2" y2="279.5" stroke="#111" stroke-width="1.6" />
<path d="M273.2,276.2 L271.7,281.6 L268.0,278.2 Z" fill="#111" />
<line x1="266.7" y1="290.3" x2="280.7" y2="286.3" stroke="#111" stroke-width="1.6" />
<path d="M285.0,285.1 L280.9,288.8 L279.5,284.0 Z" fill="#111" />
<line x1="272.9" y1="290.3" x2="280.2" y2="302.9" stroke="#111" stroke-width="1.6" />
<path d="M282.4,306.8 L277.8,303.7 L282.1,301.2 Z" fill="#111" />
<line x1="285.4" y1="290.3" x2="273.5" y2="298.6" stroke="#111" stroke-width="1.6" />
<path d="M269.8,301.2 L272.5,296.3 L275.4,300.4 Z" fill="#111" />
<line x1="291.6" y1="290.3" x2="299.5" y2="278.1" stroke="#111" stroke-width="1.6" />
<path d="M302.0,274.4 L301.3,279.9 L297.1,277.2 Z" fill="#111" />
<line x1="297.8" y1="290.3" x2="311.6" y2="285.8" stroke="#111" stroke-width="1.6" />
<path d="M315.9,284.4 L311.9,288.4 L310.4,283.6 Z" fill="#111" />
<line x1="304.1" y1="290.3" x2="301.0" y2="304.5" stroke="#111" stroke-width="1.6" />
<path d="M300.1,308.9 L298.7,303.5 L303.6,304.5 Z" fill="#111" />
<line x1="310.3" y1="290.3" x2="306.5" y2="304.3" stroke="#111" stroke-width="1.6" />
<path d="M305.4,308.7 L304.2,303.2 L309.1,304.5 Z" fill="#111" />
<line x1="322.7" y1="290.3" x2="316.1" y2="303.2" stroke="#111" stroke-width="1.6" />
<path d="M314.1,307.2 L314.1,301.6 L318.6,303.9 Z" fill="#111" />
<line x1="329.0" y1="290.3" x2="328.2" y2="304.8" stroke="#111" stroke-width="1.6" />
<path d="M328.0,309.3 L325.7,304.1 L330.7,304.4 Z" fill="#111" />
<line x1="335.2" y1="290.3" x2="343.7" y2="278.6" stroke="#111" stroke-width="1.6" />
<path d="M346.3,274.9 L345.4,280.4 L341.4,277.5 Z" fill="#111" />
<line x1="347.6" y1="290.3" x2="357.7" y2="279.9" stroke="#111" stroke-width="1.6" />
<path d="M360.8,276.6 L359.2,282.0 L355.6,278.5 Z" fill="#111" />
<line x1="353.9" y1="290.3" x2="365.0" y2="281.0" stroke="#111" stroke-width="1.6" />
<path d="M368.4,278.1 L366.2,283.2 L363.0,279.4 Z" fill="#111" />
<line x1="360.1" y1="290.3" x2="374.1" y2="286.8" stroke="#111" stroke-width="1.6" />
<path d="M378.5,285.7 L374.3,289.3 L373.1,284.5 Z" fill="#111" />
<line x1="366.3" y1="290.3" x2="375.4" y2="301.6" stroke="#111" stroke-width="1.6" />
<path d="M378.3,305.1 L373.2,302.8 L377.1,299.6 Z" fill="#111" />
<line x1="372.5" y1="290.3" x2="363.8" y2="301.9" stroke="#111" stroke-width="1.6" />
<path d="M361.1,305.5 L362.1,300.0 L366.1,303.0 Z" fill="#111" />
<line x1="378.7" y1="290.3" x2="373.1" y2="303.6" stroke="#111" stroke-width="1.6" />
<path d="M371.3,307.8 L371.0,302.2 L375.6,304.2 Z" fill="#111" />
<line x1="385.0" y1="290.3" x2="378.8" y2="303.4" stroke="#111" stroke-width="1.6" />
<path d="M376.9,307.5 L376.8,301.9 L381.3,304.0 Z" fill="#111" />
<line x1="391.2" y1="290.3" x2="387.0" y2="304.2" stroke="#111" stroke-width="1.6" />
<path d="M385.6,308.5 L384.7,303.0 L389.5,304.4 Z" fill="#111" />
<line x1="397.4" y1="290.3" x2="406.1" y2="278.7" stroke="#111" stroke-width="1.6" />
<path d="M408.9,275.1 L407.8,280.6 L403.8,277.6 Z" fill="#111" />
<line x1="403.6" y1="290.3" x2="408.6" y2="276.7" stroke="#111" stroke-width="1.6" />
<path d="M410.1,272.4 L410.8,278.0 L406.1,276.3 Z" fill="#111" />
<line x1="409.9" y1="290.3" x2="415.1" y2="276.8" stroke="#111" stroke-width="1.6" />
<path d="M416.7,272.6 L417.2,278.1 L412.6,276.3 Z" fill="#111" />
<line x1="416.1" y1="290.3" x2="422.9" y2="277.5" stroke="#111" stroke-width="1.6" />
<path d="M425.0,273.5 L424.9,279.1 L420.5,276.8 Z" fill="#111" />
<line x1="422.3" y1="290.3" x2="432.9" y2="280.4" stroke="#111" stroke-width="1.6" />
<path d="M436.2,277.3 L434.3,282.6 L430.8,278.9 Z" fill="#111" />
<line x1="428.5" y1="290.3" x2="441.6" y2="283.9" stroke="#111" stroke-width="1.6" />
<path d="M445.6,282.0 L442.2,286.4 L440.0,281.9 Z" fill="#111" />
<line x1="434.8" y1="290.3" x2="448.5" y2="285.6" stroke="#111" stroke-width="1.6" />
<path d="M452.7,284.1 L448.8,288.1 L447.2,283.4 Z" fill="#111" />
<line x1="441.0" y1="290.3" x2="454.1" y2="284.2" stroke="#111" stroke-width="1.6" />
<path d="M458.2,282.3 L454.7,286.6 L452.6,282.1 Z" fill="#111" />
<line x1="447.2" y1="290.3" x2="440.6" y2="303.2" stroke="#111" stroke-width="1.6" />
<path d="M438.6,307.2 L438.6,301.6 L443.1,303.9 Z" fill="#111" />
<line x1="453.4" y1="290.3" x2="445.3" y2="302.3" stroke="#111" stroke-width="1.6" />
<path d="M442.8,306.1 L443.5,300.5 L447.7,303.3 Z" fill="#111" />
<line x1="459.7" y1="290.3" x2="451.3" y2="302.2" stroke="#111" stroke-width="1.6" />
<path d="M448.8,305.9 L449.6,300.3 L453.7,303.2 Z" fill="#111" />
<line x1="465.9" y1="290.3" x2="475.8" y2="279.7" stroke="#111" stroke-width="1.6" />
<path d="M478.8,276.4 L477.3,281.8 L473.6,278.4 Z" fill="#111" />
<line x1="472.1" y1="290.3" x2="478.9" y2="277.5" stroke="#111" stroke-width="1.6" />
<path d="M481.0,273.5 L480.9,279.1 L476.5,276.8 Z" fill="#111" />
<line x1="478.3" y1="290.3" x2="486.9" y2="278.6" stroke="#111" stroke-width="1.6" />
<path d="M489.5,274.9 L488.6,280.4 L484.5,277.5 Z" fill="#111" />
<line x1="484.6" y1="290.3" x2="497.9" y2="284.6" stroke="#111" stroke-width="1.6" />
<path d="M502.0,282.9 L498.4,287.1 L496.5,282.5 Z" fill="#111" />
<line x1="490.8" y1="290.3" x2="504.8" y2="293.8" stroke="#111" stroke-width="1.6" />
<path d="M509.2,294.9 L503.8,296.1 L505.0,291.3 Z" fill="#111" />
<line x1="497.0" y1="290.3" x2="492.3" y2="304.0" stroke="#111" stroke-width="1.6" />
<path d="M490.8,308.3 L490.1,302.7 L494.8,304.4 Z" fill="#111" />
<line x1="503.2" y1="290.3" x2="499.0" y2="304.2" stroke="#111" stroke-width="1.6" />
<path d="M497.7,308.5 L496.7,303.0 L501.5,304.4 Z" fill="#111" />
<line x1="509.5" y1="290.3" x2="507.7" y2="304.7" stroke="#111" stroke-width="1.6" />
<path d="M507.1,309.2 L505.3,303.9 L510.2,304.5 Z" fill="#111" />
<line x1="515.7" y1="290.3" x2="512.2" y2="304.4" stroke="#111" stroke-width="1.6" />
<path d="M511.1,308.7 L509.9,303.3 L514.7,304.5 Z" fill="#111" />
<line x1="521.9" y1="290.3" x2="535.5" y2="285.3" stroke="#111" stroke-width="1.6" />
<path d="M539.8,283.8 L535.9,287.9 L534.2,283.2 Z" fill="#111" />
<line x1="528.1" y1="290.3" x2="539.6" y2="281.4" stroke="#111" stroke-width="1.6" />
<path d="M543.1,278.6 L540.7,283.7 L537.6,279.7 Z" fill="#111" />
<line x1="534.3" y1="290.3" x2="546.6" y2="282.6" stroke="#111" stroke-width="1.6" />
<path d="M550.5,280.2 L547.5,285.0 L544.9,280.8 Z" fill="#111" />
<line x1="540.6" y1="290.3" x2="539.3" y2="304.7" stroke="#111" stroke-width="1.6" />
<path d="M538.9,309.2 L536.9,304.0 L541.8,304.5 Z" fill="#111" />
<line x1="546.8" y1="290.3" x2="544.8" y2="304.7" stroke="#111" stroke-width="1.6" />
<path d="M544.2,309.1 L542.4,303.8 L547.3,304.5 Z" fill="#111" />
<line x1="553.0" y1="290.3" x2="567.2" y2="287.3" stroke="#111" stroke-width="1.6" />
<path d="M571.6,286.3 L567.2,289.8 L566.2,284.9 Z" fill="#111" />
<line x1="565.5" y1="290.3" x2="571.1" y2="303.6" stroke="#111" stroke-width="1.6" />
<path d="M572.9,307.8 L568.6,304.2 L573.2,302.2 Z" fill="#111" />
<line x1="577.9" y1="290.3" x2="591.5" y2="295.3" stroke="#111" stroke-width="1.6" />
<path d="M595.8,296.8 L590.2,297.4 L591.9,292.7 Z" fill="#111" />
<line x1="584.1" y1="290.3" x2="596.9" y2="297.1" stroke="#111" stroke-width="1.6" />
<path d="M600.9,299.2 L595.3,299.1 L597.7,294.7 Z" fill="#111" />
<line x1="590.4" y1="290.3" x2="603.5" y2="296.4" stroke="#111" stroke-width="1.6" />
<path d="M607.6,298.3 L602.0,298.5 L604.1,294.0 Z" fill="#111" />
<line x1="596.6" y1="290.3" x2="608.3" y2="298.8" stroke="#111" stroke-width="1.6" />
<path d="M612.0,301.5 L606.4,300.6 L609.4,296.5 Z" fill="#111" />
<line x1="602.8" y1="290.3" x2="596.7" y2="303.4" stroke="#111" stroke-width="1.6" />
<path d="M594.8,307.5 L594.6,301.9 L599.2,304.0 Z" fill="#111" />
<line x1="609.0" y1="290.3" x2="602.2" y2="303.1" stroke="#111" stroke-width="1.6" />
<path d="M600.1,307.1 L600.3,301.5 L604.7,303.8 Z" fill="#111" />
<line x1="615.3" y1="290.3" x2="606.1" y2="301.6" stroke="#111" stroke-width="1.6" />
<path d="M603.3,305.1 L604.5,299.6 L608.4,302.8 Z" fill="#111" />
<line x1="621.5" y1="290.3" x2="610.9" y2="300.2" stroke="#111" stroke-width="1.6" />
<path d="M607.6,303.3 L609.5,298.0 L613.0,301.7 Z" fill="#111" />
<line x1="627.7" y1="290.3" x2="620.7" y2="303.0" stroke="#111" stroke-width="1.6" />
<path d="M618.5,306.9 L618.7,301.3 L623.1,303.8 Z" fill="#111" />
<line x1="633.9" y1="290.3" x2="639.4" y2="276.9" stroke="#111" stroke-width="1.6" />
<path d="M641.0,272.7 L641.5,278.3 L636.9,276.4 Z" fill="#111" />
<line x1="640.2" y1="290.3" x2="649.1" y2="278.9" stroke="#111" stroke-width="1.6" />
<path d="M651.9,275.3 L650.7,280.8 L646.8,277.7 Z" fill="#111" />
<line x1="646.4" y1="290.3" x2="656.6" y2="280.0" stroke="#111" stroke-width="1.6" />
<path d="M659.8,276.9 L658.0,282.2 L654.5,278.6 Z" fill="#111" />
<line x1="652.6" y1="290.3" x2="664.2" y2="281.6" stroke="#111" stroke-width="1.6" />
<path d="M667.8,278.9 L665.3,283.9 L662.3,279.9 Z" fill="#111" />
<line x1="658.8" y1="290.3" x2="670.7" y2="282.0" stroke="#111" stroke-width="1.6" />
<path d="M674.4,279.4 L671.7,284.3 L668.9,280.2 Z" fill="#111" />
<line x1="665.1" y1="290.3" x2="677.6" y2="283.1" stroke="#111" stroke-width="1.6" />
<path d="M681.5,280.8 L678.4,285.5 L675.9,281.1 Z" fill="#111" />
<path d="M314.8,289.4 L309.5,299.0 L307.0,297.6 L306.8,307.8 L315.3,302.2 L312.8,300.8 L318.2,291.2 Z" fill="#111" stroke="#f0a050" stroke-width="3.2" stroke-linejoin="round" paint-order="stroke"/>
<path d="M343.0,291.3 L349.0,282.2 L351.4,283.7 L352.4,273.6 L343.5,278.5 L345.9,280.1 L339.8,289.3 Z" fill="#111" stroke="#f0a050" stroke-width="3.2" stroke-linejoin="round" paint-order="stroke"/>
<path d="M557.4,290.0 L555.8,300.9 L553.0,300.5 L556.5,310.1 L562.4,301.9 L559.6,301.5 L561.1,290.6 Z" fill="#111" stroke="#f0a050" stroke-width="3.2" stroke-linejoin="round" paint-order="stroke"/>
<path d="M571.2,292.1 L581.9,294.7 L581.3,297.5 L591.1,295.0 L583.5,288.3 L582.8,291.0 L572.1,288.5 Z" fill="#111" stroke="#f0a050" stroke-width="3.2" stroke-linejoin="round" paint-order="stroke"/>
</g>
<line x1="553.0" y1="240.4" x2="553.0" y2="351.4" stroke="#7a7a7a" stroke-width="1.8" />
<text x="553.0" y="235.5" font-size="10.71" text-anchor="middle" fill="#222" font-family='"Liberation Sans", sans-serif' textLength="58.07" lengthAdjust="spacingAndGlyphs" >EE Rupture</text>
<line x1="52.4" y1="228.0" x2="52.4" y2="351.4" stroke="#333" stroke-width="1.6" />
<line x1="51.6" y1="350.6" x2="667.6" y2="350.6" stroke="#333" stroke-width="1.6" />
<line x1="49.0" y1="249.3" x2="52.4" y2="249.3" stroke="#333" stroke-width="1.1" />
<text x="47.8" y="253.3" font-size="10.91" text-anchor="end" fill="#222" font-family='"Liberation Sans", sans-serif' textLength="17.02" lengthAdjust="spacingAndGlyphs" >1.0</text>
<line x1="49.0" y1="269.8" x2="52.4" y2="269.8" stroke="#333" stroke-width="1.1" />
<text x="47.8" y="273.8" font-size="10.91" text-anchor="end" fill="#222" font-family='"Liberation Sans", sans-serif' textLength="17.02" lengthAdjust="spacingAndGlyphs" >0.5</text>
<line x1="49.0" y1="290.3" x2="52.4" y2="290.3" stroke="#333" stroke-width="1.1" />
<text x="47.8" y="294.3" font-size="10.91" text-anchor="end" fill="#222" font-family='"Liberation Sans", sans-serif' textLength="17.02" lengthAdjust="spacingAndGlyphs" >0.0</text>
<line x1="49.0" y1="310.8" x2="52.4" y2="310.8" stroke="#333" stroke-width="1.1" />
<text x="47.8" y="314.8" font-size="10.91" text-anchor="end" fill="#222" font-family='"Liberation Sans", sans-serif' textLength="20.88" lengthAdjust="spacingAndGlyphs" >-0.5</text>
<line x1="49.0" y1="331.3" x2="52.4" y2="331.3" stroke="#333" stroke-width="1.1" />
<text x="47.8" y="335.3" font-size="10.91" text-anchor="end" fill="#222" font-family='"Liberation Sans", sans-serif' textLength="20.88" lengthAdjust="spacingAndGlyphs" >-1.0</text>
<line x1="55.1" y1="350.6" x2="55.1" y2="354.2" stroke="#333" stroke-width="1.1" />
<text x="55.1" y="365.6" font-size="10.91" text-anchor="middle" fill="#222" font-family='"Liberation Sans", sans-serif' textLength="6.81" lengthAdjust="spacingAndGlyphs" >0</text>
<line x1="117.3" y1="350.6" x2="117.3" y2="354.2" stroke="#333" stroke-width="1.1" />
<text x="117.3" y="365.6" font-size="10.91" text-anchor="middle" fill="#222" font-family='"Liberation Sans", sans-serif' textLength="13.62" lengthAdjust="spacingAndGlyphs" >10</text>
<line x1="179.6" y1="350.6" x2="179.6" y2="354.2" stroke="#333" stroke-width="1.1" />
<text x="179.6" y="365.6" font-size="10.91" text-anchor="middle" fill="#222" font-family='"Liberation Sans", sans-serif' textLength="13.62" lengthAdjust="spacingAndGlyphs" >20</text>
<line x1="241.8" y1="350.6" x2="241.8" y2="354.2" stroke="#333" stroke-width="1.1" />
<text x="241.8" y="365.6" font-size="10.91" text-anchor="middle" fill="#222" font-family='"Liberation Sans", sans-serif' textLength="13.62" lengthAdjust="spacingAndGlyphs" >30</text>
<line x1="304.1" y1="350.6" x2="304.1" y2="354.2" stroke="#333" stroke-width="1.1" />
<text x="304.1" y="365.6" font-size="10.91" text-anchor="middle" fill="#222" font-family='"Liberation Sans", sans-serif' textLength="13.62" lengthAdjust="spacingAndGlyphs" >40</text>
<line x1="366.3" y1="350.6" x2="366.3" y2="354.2" stroke="#333" stroke-width="1.1" />
<text x="366.3" y="365.6" font-size="10.91" text-anchor="middle" fill="#222" font-family='"Liberation Sans", sans-serif' textLength="13.62" lengthAdjust="spacingAndGlyphs" >50</text>
<line x1="428.5" y1="350.6" x2="428.5" y2="354.2" stroke="#333" stroke-width="1.1" />
<text x="428.5" y="365.6" font-size="10.91" text-anchor="middle" fill="#222" font-family='"Liberation Sans", sans-serif' textLength="13.62" lengthAdjust="spacingAndGlyphs" >60</text>
<line x1="490.8" y1="350.6" x2="490.8" y2="354.2" stroke="#333" stroke-width="1.1" />
<text x="490.8" y="365.6" font-size="10.91" text-anchor="middle" fill="#222" font-family='"Liberation Sans", sans-serif' textLength="13.62" lengthAdjust="spacingAndGlyphs" >70</text>
<line x1="553.0" y1="350.6" x2="553.0" y2="354.2" stroke="#333" stroke-width="1.1" />
<text x="553.0" y="365.6" font-size="10.91" text-anchor="middle" fill="#222" font-family='"Liberation Sans", sans-serif' textLength="13.62" lengthAdjust="spacingAndGlyphs" >80</text>
<line x1="615.3" y1="350.6" x2="615.3" y2="354.2" stroke="#333" stroke-width="1.1" />
<text x="615.3" y="365.6" font-size="10.91" text-anchor="middle" fill="#222" font-family='"Liberation Sans", sans-serif' textLength="13.62" lengthAdjust="spacingAndGlyphs" >90</text>
<text x="337.0" y="378.8" font-size="10.91" text-anchor="middle" fill="#222" font-family='"Liberation Sans", sans-serif' textLength="33.34" lengthAdjust="spacingAndGlyphs" >Frame</text>
<text transform="translate(20.8,287.7) rotate(-90)" font-size="12" text-anchor="middle" fill="#3d6fc4" font-family='"Liberation Sans", sans-serif' font-style="italic" textLength="19" lengthAdjust="spacingAndGlyphs">ρ(t)</text>
<rect x="55.5" y="223.8" width="87" height="55.4" rx="2" fill="#fff" fill-opacity="0.93" stroke="#d0d0d0" stroke-width="0.8"/>
<circle cx="68.9" cy="231.6" r="2.6" fill="#ffa500"/>
<circle cx="68.9" cy="244.4" r="2.6" fill="#0000ff"/>
<rect x="61.3" y="253.7" width="16" height="6.9" fill="#c9788f" fill-opacity="0.9"/>
<rect x="61.3" y="266.4" width="16" height="6.9" fill="#8f8fca" fill-opacity="0.9"/>
<text x="82.7" y="234.7" font-size="8.47" text-anchor="start" fill="#333" font-family='"Liberation Sans", sans-serif' textLength="55.54" lengthAdjust="spacingAndGlyphs" >local maxima</text>
<text x="82.7" y="247.5" font-size="8.47" text-anchor="start" fill="#333" font-family='"Liberation Sans", sans-serif' textLength="53.11" lengthAdjust="spacingAndGlyphs" >local minima</text>
<text x="82.7" y="260.3" font-size="8.47" text-anchor="start" fill="#333" font-family='"Liberation Sans", sans-serif' textLength="37.69" lengthAdjust="spacingAndGlyphs" >V phases</text>
<text x="82.7" y="273.1" font-size="8.47" text-anchor="start" fill="#333" font-family='"Liberation Sans", sans-serif' textLength="38.4" lengthAdjust="spacingAndGlyphs" >D phases</text>
<text x="64.6" y="411.0" font-size="10.71" text-anchor="start" fill="#222" font-family='"Liberation Sans", sans-serif' textLength="118.37" lengthAdjust="spacingAndGlyphs" >Local extrema filtering</text>
<text x="295.0" y="411.0" font-size="10.71" text-anchor="start" fill="#222" font-family='"Liberation Sans", sans-serif' textLength="110.51" lengthAdjust="spacingAndGlyphs" >V-D phase expansion</text>
<text x="511.6" y="411.0" font-size="10.71" text-anchor="start" fill="#222" font-family='"Liberation Sans", sans-serif' textLength="148.76" lengthAdjust="spacingAndGlyphs" >Wave segmentation filtering</text>
<path d="M195.2,408.6 L263.3,408.6 L263.3,411.6 L272.3,407.6 L263.3,403.6 L263.3,406.6 L195.2,406.6 Z" fill="#111" stroke="none" stroke-width="0" stroke-linejoin="round" paint-order="stroke"/>
<path d="M421.2,408.6 L490.3,408.6 L490.3,411.6 L499.3,407.6 L490.3,403.6 L490.3,406.6 L421.2,406.6 Z" fill="#111" stroke="none" stroke-width="0" stroke-linejoin="round" paint-order="stroke"/>
<rect x="20.5" y="417.7" width="210.8" height="209.1" fill="none" stroke="#555" stroke-width="1"/>
<line x1="20.5" y1="515.6" x2="231.3" y2="515.6" stroke="#aaa" stroke-width="0.8" />
<rect x="239.7" y="417.7" width="218.5" height="209.1" fill="none" stroke="#555" stroke-width="1"/>
<line x1="239.7" y1="515.6" x2="458.2" y2="515.6" stroke="#aaa" stroke-width="0.8" />
<rect x="467.6" y="417.7" width="210.3" height="209.1" fill="none" stroke="#555" stroke-width="1"/>
<line x1="467.6" y1="515.6" x2="677.9" y2="515.6" stroke="#aaa" stroke-width="0.8" />
<line x1="122.7" y1="515.6" x2="122.7" y2="626.8" stroke="#aaa" stroke-width="0.8" />
<line x1="347.5" y1="515.6" x2="347.5" y2="626.8" stroke="#aaa" stroke-width="0.8" />
<line x1="467.6" y1="567.4" x2="677.9" y2="567.4" stroke="#aaa" stroke-width="0.8" />
<path d="M38.8,501.8 L84.7,440.4 L100.0,433.9 L115.4,433.9 L160.1,505.9 L205.9,497.9" fill="none" stroke="#8aa8e0" stroke-width="0.9" stroke-dasharray="1,1.8"/>
<rect x="97.9" y="433.9" width="3.9" height="35.7" fill="#ffd9a0" fill-opacity="0.9"/>
<rect x="158.1" y="470.6" width="4.5" height="35.3" fill="#a9dde0" fill-opacity="0.9"/>
<circle cx="100.0" cy="433.9" r="1.4" fill="#f0a020"/>
<circle cx="160.1" cy="505.9" r="1.4" fill="#3060e0"/>
<path d="M98.3,468.9 L95.2,476.6 L92.2,475.4 L92.8,487.0 L101.4,479.2 L98.5,478.0 L101.7,470.3 Z" fill="#cc7590" stroke="none" stroke-width="0" stroke-linejoin="round" paint-order="stroke"/>
<path d="M161.9,471.7 L166.9,464.7 L169.4,466.5 L171.4,455.6 L161.6,460.8 L164.0,462.6 L158.9,469.5 Z" fill="#9090cc" stroke="none" stroke-width="0" stroke-linejoin="round" paint-order="stroke"/>
<path d="M40.1,470.7 L49.4,463.3 L50.5,464.7 L53.1,459.1 L47.1,460.4 L48.2,461.7 L38.9,469.1 Z" fill="#111" stroke="none" stroke-width="0" stroke-linejoin="round" paint-order="stroke"/>
<path d="M54.7,470.9 L66.5,468.2 L66.8,469.9 L71.6,466.0 L65.6,464.5 L66.0,466.2 L54.3,468.9 Z" fill="#111" stroke="none" stroke-width="0" stroke-linejoin="round" paint-order="stroke"/>
<path d="M68.6,470.9 L73.1,477.9 L71.7,478.9 L77.0,482.0 L76.3,475.9 L74.8,476.9 L70.2,469.9 Z" fill="#111" stroke="none" stroke-width="0" stroke-linejoin="round" paint-order="stroke"/>
<path d="M83.9,469.8 L78.6,477.0 L77.2,475.9 L76.2,482.0 L81.7,479.2 L80.3,478.2 L85.5,471.0 Z" fill="#111" stroke="none" stroke-width="0" stroke-linejoin="round" paint-order="stroke"/>
<path d="M114.5,469.9 L108.8,480.4 L107.3,479.6 L107.1,485.7 L112.1,482.2 L110.6,481.3 L116.3,470.9 Z" fill="#111" stroke="none" stroke-width="0" stroke-linejoin="round" paint-order="stroke"/>
<path d="M129.5,470.2 L125.1,481.1 L123.5,480.5 L124.0,486.6 L128.6,482.5 L127.0,481.9 L131.3,471.0 Z" fill="#111" stroke="none" stroke-width="0" stroke-linejoin="round" paint-order="stroke"/>
<path d="M145.7,470.4 L153.4,461.0 L154.7,462.1 L156.1,456.1 L150.5,458.6 L151.8,459.7 L144.1,469.2 Z" fill="#111" stroke="none" stroke-width="0" stroke-linejoin="round" paint-order="stroke"/>
<path d="M176.1,471.3 L185.1,462.3 L186.4,463.5 L188.3,457.7 L182.5,459.6 L183.7,460.9 L174.7,469.9 Z" fill="#111" stroke="none" stroke-width="0" stroke-linejoin="round" paint-order="stroke"/>
<path d="M191.2,471.5 L201.7,465.1 L202.6,466.6 L205.9,461.4 L199.8,461.9 L200.7,463.4 L190.2,469.7 Z" fill="#111" stroke="none" stroke-width="0" stroke-linejoin="round" paint-order="stroke"/>
<path d="M267.2,501.8 L313.1,440.4 L328.4,433.9 L343.8,433.9 L388.5,505.9 L434.3,497.9" fill="none" stroke="#8aa8e0" stroke-width="0.9" stroke-dasharray="1,1.8"/>
<rect x="326.3" y="433.9" width="3.9" height="35.7" fill="#ffd9a0" fill-opacity="0.9"/>
<rect x="386.5" y="470.6" width="4.5" height="35.3" fill="#a9dde0" fill-opacity="0.9"/>
<circle cx="328.4" cy="433.9" r="1.4" fill="#f0a020"/>
<circle cx="388.5" cy="505.9" r="1.4" fill="#3060e0"/>
<path d="M326.7,468.9 L323.6,476.6 L320.6,475.4 L321.2,487.0 L329.8,479.2 L326.9,478.0 L330.1,470.3 Z" fill="#cc7590" stroke="none" stroke-width="0" stroke-linejoin="round" paint-order="stroke"/>
<path d="M390.3,471.7 L395.3,464.7 L397.8,466.5 L399.8,455.6 L390.0,460.8 L392.4,462.6 L387.3,469.5 Z" fill="#9090cc" stroke="none" stroke-width="0" stroke-linejoin="round" paint-order="stroke"/>
<path d="M268.5,470.7 L277.8,463.3 L278.9,464.7 L281.5,459.1 L275.5,460.4 L276.6,461.7 L267.3,469.1 Z" fill="#111" stroke="none" stroke-width="0" stroke-linejoin="round" paint-order="stroke"/>
<path d="M283.1,470.9 L294.9,468.2 L295.2,469.9 L300.0,466.0 L294.0,464.5 L294.4,466.2 L282.7,468.9 Z" fill="#111" stroke="none" stroke-width="0" stroke-linejoin="round" paint-order="stroke"/>
<path d="M297.0,470.9 L301.5,477.9 L300.1,478.9 L305.4,482.0 L304.7,475.9 L303.2,476.9 L298.6,469.9 Z" fill="#111" stroke="none" stroke-width="0" stroke-linejoin="round" paint-order="stroke"/>
<path d="M312.3,469.8 L307.0,477.0 L305.6,475.9 L304.6,482.0 L310.1,479.2 L308.7,478.2 L313.9,471.0 Z" fill="#111" stroke="none" stroke-width="0" stroke-linejoin="round" paint-order="stroke"/>
<path d="M342.9,469.9 L337.2,480.4 L335.7,479.6 L335.5,485.7 L340.5,482.2 L339.0,481.3 L344.7,470.9 Z" fill="#111" stroke="none" stroke-width="0" stroke-linejoin="round" paint-order="stroke"/>
<path d="M357.9,470.2 L353.5,481.1 L351.9,480.5 L352.4,486.6 L357.0,482.5 L355.4,481.9 L359.7,471.0 Z" fill="#111" stroke="none" stroke-width="0" stroke-linejoin="round" paint-order="stroke"/>
<path d="M374.1,470.4 L381.8,461.0 L383.1,462.1 L384.5,456.1 L378.9,458.6 L380.2,459.7 L372.5,469.2 Z" fill="#111" stroke="none" stroke-width="0" stroke-linejoin="round" paint-order="stroke"/>
<path d="M404.5,471.3 L413.5,462.3 L414.8,463.5 L416.7,457.7 L410.9,459.6 L412.1,460.9 L403.1,469.9 Z" fill="#111" stroke="none" stroke-width="0" stroke-linejoin="round" paint-order="stroke"/>
<path d="M419.6,471.5 L430.1,465.1 L431.0,466.6 L434.3,461.4 L428.2,461.9 L429.1,463.4 L418.6,469.7 Z" fill="#111" stroke="none" stroke-width="0" stroke-linejoin="round" paint-order="stroke"/>
<path d="M315.0,440.9 L325.4,446.9 L325.4,442.8 L336.0,442.8 L336.0,446.9 L346.4,440.9 L336.0,434.9 L336.0,438.9 L325.4,438.9 L325.4,434.9 Z" fill="#cc7590"/>
<path d="M373.9,496.9 L384.3,502.9 L384.3,498.8 L396.1,498.8 L396.1,502.9 L406.5,496.9 L396.1,490.9 L396.1,494.9 L384.3,494.9 L384.3,490.9 Z" fill="#9090cc"/>
<path d="M486.5,501.8 L532.4,440.4 L547.7,433.9 L563.1,433.9 L607.8,505.9 L653.6,497.9" fill="none" stroke="#8aa8e0" stroke-width="0.9" stroke-dasharray="1,1.8"/>
<rect x="525.6" y="461.8" width="59.6" height="14" fill="#cc7893"/>
<rect x="585.2" y="461.8" width="59.5" height="14" fill="#9595cf"/>
<rect x="545.6" y="433.9" width="3.9" height="35.7" fill="#ffd9a0" fill-opacity="0.9"/>
<rect x="605.8" y="470.6" width="4.5" height="35.3" fill="#a9dde0" fill-opacity="0.9"/>
<circle cx="547.7" cy="433.9" r="1.4" fill="#f0a020"/>
<circle cx="607.8" cy="505.9" r="1.4" fill="#3060e0"/>
<path d="M546.8,469.2 L541.7,481.0 L540.1,480.3 L540.5,486.4 L545.2,482.4 L543.6,481.7 L548.6,470.0 Z" fill="#111" stroke="none" stroke-width="0" stroke-linejoin="round" paint-order="stroke"/>
<path d="M608.9,471.2 L616.3,461.1 L617.7,462.2 L618.8,456.1 L613.3,458.9 L614.7,459.9 L607.3,470.0 Z" fill="#111" stroke="none" stroke-width="0" stroke-linejoin="round" paint-order="stroke"/>
<path d="M487.8,470.7 L497.1,463.3 L498.2,464.7 L500.8,459.1 L494.8,460.4 L495.9,461.7 L486.6,469.1 Z" fill="#111" stroke="none" stroke-width="0" stroke-linejoin="round" paint-order="stroke"/>
<path d="M502.4,470.9 L514.2,468.2 L514.5,469.9 L519.3,466.0 L513.3,464.5 L513.7,466.2 L502.0,468.9 Z" fill="#111" stroke="none" stroke-width="0" stroke-linejoin="round" paint-order="stroke"/>
<path d="M516.3,470.9 L520.8,477.9 L519.4,478.9 L524.7,482.0 L524.0,475.9 L522.5,476.9 L517.9,469.9 Z" fill="#111" stroke="none" stroke-width="0" stroke-linejoin="round" paint-order="stroke"/>
<path d="M531.6,469.8 L526.3,477.0 L524.9,475.9 L523.9,482.0 L529.4,479.2 L528.0,478.2 L533.2,471.0 Z" fill="#111" stroke="none" stroke-width="0" stroke-linejoin="round" paint-order="stroke"/>
<path d="M562.2,469.9 L556.5,480.4 L555.0,479.6 L554.8,485.7 L559.8,482.2 L558.3,481.3 L564.0,470.9 Z" fill="#111" stroke="none" stroke-width="0" stroke-linejoin="round" paint-order="stroke"/>
<path d="M577.2,470.2 L572.8,481.1 L571.2,480.5 L571.7,486.6 L576.3,482.5 L574.7,481.9 L579.0,471.0 Z" fill="#111" stroke="none" stroke-width="0" stroke-linejoin="round" paint-order="stroke"/>
<path d="M593.4,470.4 L601.1,461.0 L602.4,462.1 L603.8,456.1 L598.2,458.6 L599.5,459.7 L591.8,469.2 Z" fill="#111" stroke="none" stroke-width="0" stroke-linejoin="round" paint-order="stroke"/>
<path d="M623.8,471.3 L632.8,462.3 L634.1,463.5 L636.0,457.7 L630.2,459.6 L631.4,460.9 L622.4,469.9 Z" fill="#111" stroke="none" stroke-width="0" stroke-linejoin="round" paint-order="stroke"/>
<path d="M638.9,471.5 L649.4,465.1 L650.3,466.6 L653.6,461.4 L647.5,461.9 L648.4,463.4 L637.9,469.7 Z" fill="#111" stroke="none" stroke-width="0" stroke-linejoin="round" paint-order="stroke"/>
<text x="75.5" y="435.5" font-family='"Liberation Serif", serif' font-size="20" font-style="italic" fill="#d0849a">t<tspan font-size="16" font-style="normal" dy="3" dx="0.3">+</tspan></text>
<text x="167.5" y="508.8" font-family='"Liberation Serif", serif' font-size="20" font-style="italic" fill="#a0a0d8">t<tspan font-size="16" font-style="normal" dy="2.5" dx="0.3">−</tspan></text>
<text x="34.9" y="536.2" font-family='"Liberation Serif", serif' font-size="13" fill="#111" textLength="76.2" lengthAdjust="spacingAndGlyphs"><tspan font-weight="bold">v&#770;</tspan><tspan font-size="9" dy="3" font-weight="bold">p</tspan><tspan font-size="9" dy="0" >,</tspan><tspan font-size="9" dy="0" font-style="italic">t</tspan><tspan font-size="8" dy="2" >+</tspan><tspan dy="-5" > · </tspan><tspan font-weight="bold">r</tspan> &gt; <tspan font-style="italic">θ</tspan><tspan font-size="9" dy="3" font-weight="bold">r</tspan></text>
<text x="126" y="535.9" font-family='"Liberation Serif", serif' font-size="13" fill="#111" textLength="102" lengthAdjust="spacingAndGlyphs"><tspan font-weight="bold">v&#770;</tspan><tspan font-size="9" dy="3" font-weight="bold">p</tspan><tspan font-size="9" dy="0" >,</tspan><tspan font-size="9" dy="0" font-style="italic">t</tspan><tspan font-size="8" dy="2" >+</tspan><tspan dy="-5" >·</tspan><tspan font-weight="bold">v&#770;</tspan><tspan font-size="9" dy="3" font-weight="bold">p</tspan><tspan font-size="9" dy="0" >,</tspan><tspan font-size="9" dy="0" font-style="italic">t</tspan><tspan font-size="8" dy="2" >−</tspan><tspan dy="-5" >&lt; </tspan><tspan font-style="italic">θ</tspan><tspan font-size="9" dy="3" >VD</tspan></text>
<text x="251.9" y="538" font-family='"Liberation Serif", serif' font-size="13" fill="#111" textLength="88.9" lengthAdjust="spacingAndGlyphs"><tspan font-weight="bold">v&#770;</tspan><tspan font-size="9" dy="3" font-weight="bold">p</tspan><tspan font-size="9" dy="0" >,</tspan><tspan font-size="9" dy="0" font-style="italic">t</tspan><tspan dy="-3" > · </tspan><tspan font-weight="bold">V</tspan><tspan font-size="9" dy="3" >avg</tspan><tspan dy="-3" > &gt; </tspan><tspan font-style="italic">θ</tspan><tspan font-size="9" dy="3" >V</tspan></text>
<line x1="358.6" y1="524.8" x2="358.6" y2="540.6" stroke="#222" stroke-width="0.8" />
<line x1="361.2" y1="524.8" x2="361.2" y2="540.6" stroke="#222" stroke-width="0.8" />
<line x1="389.2" y1="524.8" x2="389.2" y2="540.6" stroke="#222" stroke-width="0.8" />
<line x1="391.8" y1="524.8" x2="391.8" y2="540.6" stroke="#222" stroke-width="0.8" />
<text x="363.6" y="535.9" font-size="14" text-anchor="start" fill="#111" font-family='"Liberation Serif", serif' font-weight="bold">v</text>
<path d="M364.5,525.2 L368.9,525.2 L368.9,526.3 L371.5,524.8 L368.9,523.3 L368.9,524.4 L364.5,524.4 Z" fill="#111" stroke="none" stroke-width="0" stroke-linejoin="round" paint-order="stroke"/>
<text x="372.3" y="539.3" font-family='"Liberation Serif", serif' font-size="10" fill="#111" textLength="15" lengthAdjust="spacingAndGlyphs"><tspan font-weight="bold">p</tspan>,<tspan font-style="italic">t</tspan></text>
<text x="397.3" y="536.5" font-size="17" text-anchor="start" fill="#111" font-family='"Liberation Serif", serif' textLength="10.5" lengthAdjust="spacingAndGlyphs">&gt;</text>
<text x="410.8" y="535.9" font-size="16.5" text-anchor="start" fill="#111" font-family='"Liberation Serif", serif' font-style="italic" textLength="16.5" lengthAdjust="spacingAndGlyphs">M</text>
<text x="427.9" y="539.0" font-size="11" text-anchor="start" fill="#111" font-family='"Liberation Serif", serif' textLength="18.3" lengthAdjust="spacingAndGlyphs">min</text>
<text x="501.9" y="539.3" font-family='"Liberation Serif", serif' font-size="13.2" fill="#111" textLength="142.9" lengthAdjust="spacingAndGlyphs">average speed(<tspan font-style="italic">V</tspan>) &gt; <tspan font-style="italic">M</tspan><tspan font-size="9.5" dy="2" >avg</tspan></text>
<text x="472.1" y="594.5" font-family='"Liberation Serif", serif' font-size="13.2" fill="#111" textLength="203.2" lengthAdjust="spacingAndGlyphs">total displacement(<tspan font-style="italic">V</tspan> + <tspan font-style="italic">D</tspan>) &gt; <tspan font-style="italic">M</tspan><tspan font-size="9.5" dy="2" >total</tspan></text>
<path d="M87.5,557.3 L83.3,612.6 A55.5,55.5 0 0 1 34.7,574.5 Z" fill="#e0e0e0" />
<line x1="87.5" y1="557.3" x2="34.3" y2="574.7" stroke="#222" stroke-width="0.9" />
<line x1="87.5" y1="557.3" x2="83.3" y2="612.6" stroke="#222" stroke-width="0.9" />
<path d="M74.3,574.2 A21.5,21.5 0 0 1 67.1,564.0" fill="none" stroke="#222" stroke-width="0.9"/>
<path d="M84.8,556.0 L73.4,580.6 L68.4,578.3 L64.4,607.3 L83.9,585.4 L78.9,583.1 L90.2,558.6 Z" fill="#cc7590" stroke="none" stroke-width="0" stroke-linejoin="round" paint-order="stroke"/>
<path d="M85.5,557.2 L59.3,593.2 L57.2,591.6 L54.9,602.3 L64.4,596.9 L62.2,595.3 L88.5,559.4 Z" fill="#000" stroke="none" stroke-width="0" stroke-linejoin="round" paint-order="stroke"/>
<text x="45.2" y="607.8" font-size="15" text-anchor="start" fill="#111" font-family='"Liberation Serif", serif' font-weight="bold">r</text>
<text x="89" y="580" font-family='"Liberation Serif", serif' font-size="15" fill="#111"><tspan font-style="italic">θ</tspan><tspan font-size="10" font-weight="bold" dy="2">r</tspan></text>
<path d="M171.5,584.4 L171.5,547.9 A36.5,36.5 0 0 1 194.2,613.0 Z" fill="#e0e0e0" />
<line x1="171.5" y1="584.4" x2="171.5" y2="547.1" stroke="#222" stroke-width="1.1" stroke-dasharray="1.4,1.4"/>
<line x1="171.5" y1="584.4" x2="193.9" y2="612.6" stroke="#222" stroke-width="0.9" />
<path d="M180.2,595.4 A14,14 0 0 1 166.3,597.4" fill="none" stroke="#222" stroke-width="0.9"/>
<path d="M173.1,585.6 L184.8,570.9 L187.9,573.4 L191.9,558.7 L178.5,565.9 L181.6,568.4 L169.9,583.2 Z" fill="#9090cc" stroke="none" stroke-width="0" stroke-linejoin="round" paint-order="stroke"/>
<path d="M169.6,583.6 L161.8,601.5 L157.7,599.7 L157.3,617.0 L169.6,604.9 L165.6,603.2 L173.4,585.2 Z" fill="#cc7590" stroke="none" stroke-width="0" stroke-linejoin="round" paint-order="stroke"/>
<text x="181" y="595.5" font-family='"Liberation Serif", serif' font-size="15" fill="#111"><tspan font-style="italic">θ</tspan><tspan font-size="11" dy="1">VD</tspan></text>
<path d="M305.1,554.5 L305.1,610.0 A55.5,55.5 0 0 1 260.5,587.6 Z" fill="#fbe1e1" />
<line x1="305.1" y1="554.5" x2="260.1" y2="587.9" stroke="#222" stroke-width="0.9" />
<line x1="305.1" y1="554.5" x2="305.5" y2="610.0" stroke="#222" stroke-width="0.9" />
<path d="M303.9,576.5 A22,22 0 0 1 288.0,568.3" fill="none" stroke="#222" stroke-width="0.9"/>
<path d="M300.7,558.9 L292.4,579.7 L287.7,577.9 L285.5,605.0 L302.6,583.8 L297.9,582.0 L306.3,561.1 Z" fill="#cc7590" stroke="none" stroke-width="0" stroke-linejoin="round" paint-order="stroke"/>
<path d="M301.2,557.0 L289.1,583.0 L285.6,581.4 L281.8,603.9 L296.5,586.5 L293.1,584.9 L305.2,558.8 Z" fill="#000" stroke="none" stroke-width="0" stroke-linejoin="round" paint-order="stroke"/>
<text x="308.4" y="579" font-family='"Liberation Serif", serif' font-size="15" fill="#111"><tspan font-style="italic">θ</tspan><tspan font-size="10" dy="2">V</tspan></text>
<path d="M389.1,559.1 L376.8,583.6 L372.9,581.6 L369.3,603.3 L384.5,587.4 L380.6,585.5 L392.9,560.9 Z" fill="#000" stroke="none" stroke-width="0" stroke-linejoin="round" paint-order="stroke"/>
<line x1="398.2" y1="564.0" x2="376.5" y2="607.3" stroke="#222" stroke-width="0.8" />
<line x1="396.6" y1="563.2" x2="399.8" y2="564.8" stroke="#222" stroke-width="0.8" />
<line x1="374.9" y1="606.5" x2="378.1" y2="608.1" stroke="#222" stroke-width="0.8" />
<text x="400.3" y="587.5" font-family='"Liberation Serif", serif' font-size="16" fill="#222">&gt;<tspan font-style="italic" font-size="11" dx="3">M</tspan><tspan font-size="7.5" dy="1.5">min</tspan></text>
<defs><filter id="bl2" x="-50%" y="-50%" width="200%" height="200%"><feGaussianBlur stdDeviation="2"/></filter><filter id="bl3" x="-50%" y="-50%" width="200%" height="200%"><feGaussianBlur stdDeviation="3"/></filter><filter id="bl4" x="-50%" y="-50%" width="200%" height="200%"><feGaussianBlur stdDeviation="4"/></filter><filter id="bl1" x="-50%" y="-50%" width="200%" height="200%"><feGaussianBlur stdDeviation="1"/></filter><filter id="bl05" x="-50%" y="-50%" width="200%" height="200%"><feGaussianBlur stdDeviation="0.5"/></filter></defs>
<text x="78.0" y="670.3" font-size="10.71" text-anchor="middle" fill="#222" font-family='"Liberation Sans", sans-serif' textLength="13.36" lengthAdjust="spacingAndGlyphs" >42</text>
<text x="163.4" y="670.3" font-size="10.71" text-anchor="middle" fill="#222" font-family='"Liberation Sans", sans-serif' textLength="13.36" lengthAdjust="spacingAndGlyphs" >46</text>
<text x="274.2" y="670.3" font-size="10.71" text-anchor="middle" fill="#222" font-family='"Liberation Sans", sans-serif' textLength="13.36" lengthAdjust="spacingAndGlyphs" >80</text>
<text x="373.5" y="670.3" font-size="10.71" text-anchor="middle" fill="#222" font-family='"Liberation Sans", sans-serif' textLength="13.36" lengthAdjust="spacingAndGlyphs" >82</text>
<text transform="translate(21.4,700) rotate(-90)" font-size="10.71" text-anchor="middle" fill="#222" font-family='"Liberation Sans", sans-serif' textLength="42.4" lengthAdjust="spacingAndGlyphs">Anterior</text>
<line x1="18.9" y1="726.9" x2="18.9" y2="768.4" stroke="#111" stroke-width="1" />
<path d="M18.9,768.4 L16.9,763.9 L20.9,763.9 Z" fill="#111"/>
<path d="M18.9,726.9 L16.9,731.4 L20.9,731.4 Z" fill="#111"/>
<text transform="translate(21.4,797.9) rotate(-90)" font-size="10.71" text-anchor="middle" fill="#222" font-family='"Liberation Sans", sans-serif' textLength="46.4" lengthAdjust="spacingAndGlyphs">Posterior</text>
<text x="13.8" y="840.0" font-size="10.51" text-anchor="start" fill="#222" font-family='"Liberation Sans", sans-serif' textLength="36.56" lengthAdjust="spacingAndGlyphs" >Ventral</text>
<line x1="52.8" y1="836.3" x2="91.8" y2="836.3" stroke="#111" stroke-width="1" />
<path d="M91.8,836.3 L87.3,838.3 L87.3,834.3 Z" fill="#111"/>
<path d="M52.8,836.3 L57.3,838.3 L57.3,834.3 Z" fill="#111"/>
<text x="94.3" y="840.0" font-size="10.51" text-anchor="start" fill="#222" font-family='"Liberation Sans", sans-serif' textLength="33.01" lengthAdjust="spacingAndGlyphs" >Dorsal</text>
<rect x="38.5" y="673.8" width="79.7" height="153.7" fill="#f9f9f9"/>
<clipPath id="emb1"><path d="M116.0,751.3 L115.9,760.8 L115.7,767.1 L115.5,772.6 L115.1,777.6 L114.7,782.2 L114.1,786.5 L113.4,790.5 L112.7,794.2 L111.8,797.7 L110.8,801.0 L109.8,804.1 L108.6,807.0 L107.3,809.6 L106.0,812.1 L104.5,814.3 L102.9,816.3 L101.2,818.1 L99.5,819.7 L97.5,821.1 L95.5,822.3 L93.3,823.3 L90.9,824.0 L88.3,824.6 L85.3,824.9 L80.8,825.0 L76.2,824.9 L73.2,824.6 L70.6,824.0 L68.2,823.3 L66.0,822.3 L64.0,821.1 L62.0,819.7 L60.3,818.1 L58.6,816.3 L57.0,814.3 L55.5,812.1 L54.2,809.6 L52.9,807.0 L51.7,804.1 L50.7,801.0 L49.7,797.7 L48.8,794.2 L48.1,790.5 L47.4,786.5 L46.8,782.2 L46.4,777.6 L46.0,772.6 L45.8,767.1 L45.6,760.8 L45.5,751.3 L45.6,741.8 L45.8,735.5 L46.0,730.0 L46.4,725.0 L46.8,720.4 L47.4,716.1 L48.1,712.1 L48.8,708.4 L49.7,704.9 L50.7,701.6 L51.7,698.5 L52.9,695.6 L54.2,693.0 L55.5,690.5 L57.0,688.3 L58.6,686.3 L60.3,684.5 L62.0,682.9 L64.0,681.5 L66.0,680.3 L68.2,679.3 L70.6,678.6 L73.2,678.0 L76.2,677.7 L80.7,677.6 L85.3,677.7 L88.3,678.0 L90.9,678.6 L93.3,679.3 L95.5,680.3 L97.5,681.5 L99.5,682.9 L101.2,684.5 L102.9,686.3 L104.5,688.3 L106.0,690.5 L107.3,693.0 L108.6,695.6 L109.8,698.5 L110.8,701.6 L111.8,704.9 L112.7,708.4 L113.4,712.1 L114.1,716.1 L114.7,720.4 L115.1,725.0 L115.5,730.0 L115.7,735.5 L115.9,741.8 Z"/></clipPath>
<path d="M116.0,751.3 L115.9,760.8 L115.7,767.1 L115.5,772.6 L115.1,777.6 L114.7,782.2 L114.1,786.5 L113.4,790.5 L112.7,794.2 L111.8,797.7 L110.8,801.0 L109.8,804.1 L108.6,807.0 L107.3,809.6 L106.0,812.1 L104.5,814.3 L102.9,816.3 L101.2,818.1 L99.5,819.7 L97.5,821.1 L95.5,822.3 L93.3,823.3 L90.9,824.0 L88.3,824.6 L85.3,824.9 L80.8,825.0 L76.2,824.9 L73.2,824.6 L70.6,824.0 L68.2,823.3 L66.0,822.3 L64.0,821.1 L62.0,819.7 L60.3,818.1 L58.6,816.3 L57.0,814.3 L55.5,812.1 L54.2,809.6 L52.9,807.0 L51.7,804.1 L50.7,801.0 L49.7,797.7 L48.8,794.2 L48.1,790.5 L47.4,786.5 L46.8,782.2 L46.4,777.6 L46.0,772.6 L45.8,767.1 L45.6,760.8 L45.5,751.3 L45.6,741.8 L45.8,735.5 L46.0,730.0 L46.4,725.0 L46.8,720.4 L47.4,716.1 L48.1,712.1 L48.8,708.4 L49.7,704.9 L50.7,701.6 L51.7,698.5 L52.9,695.6 L54.2,693.0 L55.5,690.5 L57.0,688.3 L58.6,686.3 L60.3,684.5 L62.0,682.9 L64.0,681.5 L66.0,680.3 L68.2,679.3 L70.6,678.6 L73.2,678.0 L76.2,677.7 L80.7,677.6 L85.3,677.7 L88.3,678.0 L90.9,678.6 L93.3,679.3 L95.5,680.3 L97.5,681.5 L99.5,682.9 L101.2,684.5 L102.9,686.3 L104.5,688.3 L106.0,690.5 L107.3,693.0 L108.6,695.6 L109.8,698.5 L110.8,701.6 L111.8,704.9 L112.7,708.4 L113.4,712.1 L114.1,716.1 L114.7,720.4 L115.1,725.0 L115.5,730.0 L115.7,735.5 L115.9,741.8 Z" fill="#f3f3f3"/>
<g clip-path="url(#emb1)">
<path d="M116.0,751.3 L115.9,760.8 L115.7,767.1 L115.5,772.6 L115.1,777.6 L114.7,782.2 L114.1,786.5 L113.4,790.5 L112.7,794.2 L111.8,797.7 L110.8,801.0 L109.8,804.1 L108.6,807.0 L107.3,809.6 L106.0,812.1 L104.5,814.3 L102.9,816.3 L101.2,818.1 L99.5,819.7 L97.5,821.1 L95.5,822.3 L93.3,823.3 L90.9,824.0 L88.3,824.6 L85.3,824.9 L80.8,825.0 L76.2,824.9 L73.2,824.6 L70.6,824.0 L68.2,823.3 L66.0,822.3 L64.0,821.1 L62.0,819.7 L60.3,818.1 L58.6,816.3 L57.0,814.3 L55.5,812.1 L54.2,809.6 L52.9,807.0 L51.7,804.1 L50.7,801.0 L49.7,797.7 L48.8,794.2 L48.1,790.5 L47.4,786.5 L46.8,782.2 L46.4,777.6 L46.0,772.6 L45.8,767.1 L45.6,760.8 L45.5,751.3 L45.6,741.8 L45.8,735.5 L46.0,730.0 L46.4,725.0 L46.8,720.4 L47.4,716.1 L48.1,712.1 L48.8,708.4 L49.7,704.9 L50.7,701.6 L51.7,698.5 L52.9,695.6 L54.2,693.0 L55.5,690.5 L57.0,688.3 L58.6,686.3 L60.3,684.5 L62.0,682.9 L64.0,681.5 L66.0,680.3 L68.2,679.3 L70.6,678.6 L73.2,678.0 L76.2,677.7 L80.7,677.6 L85.3,677.7 L88.3,678.0 L90.9,678.6 L93.3,679.3 L95.5,680.3 L97.5,681.5 L99.5,682.9 L101.2,684.5 L102.9,686.3 L104.5,688.3 L106.0,690.5 L107.3,693.0 L108.6,695.6 L109.8,698.5 L110.8,701.6 L111.8,704.9 L112.7,708.4 L113.4,712.1 L114.1,716.1 L114.7,720.4 L115.1,725.0 L115.5,730.0 L115.7,735.5 L115.9,741.8 Z" fill="none" stroke="#555" stroke-opacity="0.22" stroke-width="9" filter="url(#bl3)"/>
<ellipse cx="60.2" cy="794.8" rx="6.1" ry="4.5" fill="#555" fill-opacity="0.17" filter="url(#bl2)"/>
<ellipse cx="77.9" cy="770.3" rx="6.2" ry="3.6" fill="#555" fill-opacity="0.10" filter="url(#bl2)"/>
<ellipse cx="99.7" cy="742.9" rx="6.0" ry="3.0" fill="#555" fill-opacity="0.17" filter="url(#bl2)"/>
<ellipse cx="93.2" cy="717.3" rx="6.8" ry="8.4" fill="#555" fill-opacity="0.10" filter="url(#bl2)"/>
<ellipse cx="54.0" cy="756.5" rx="6.8" ry="5.3" fill="#555" fill-opacity="0.13" filter="url(#bl2)"/>
<ellipse cx="76.4" cy="692.3" rx="3.9" ry="5.6" fill="#555" fill-opacity="0.17" filter="url(#bl2)"/>
<ellipse cx="65.7" cy="717.6" rx="3.9" ry="5.8" fill="#555" fill-opacity="0.14" filter="url(#bl2)"/>
<ellipse cx="53.8" cy="793.6" rx="5.2" ry="6.9" fill="#555" fill-opacity="0.13" filter="url(#bl2)"/>
<ellipse cx="108.5" cy="796.4" rx="3.5" ry="5.0" fill="#555" fill-opacity="0.21" filter="url(#bl2)"/>
<ellipse cx="92.6" cy="806.0" rx="4.7" ry="8.0" fill="#555" fill-opacity="0.20" filter="url(#bl2)"/>
<ellipse cx="69.7" cy="762.3" rx="6.5" ry="8.1" fill="#555" fill-opacity="0.18" filter="url(#bl2)"/>
<ellipse cx="85.8" cy="693.0" rx="4.0" ry="7.8" fill="#555" fill-opacity="0.16" filter="url(#bl2)"/>
<ellipse cx="62.3" cy="757.4" rx="5.8" ry="7.0" fill="#555" fill-opacity="0.16" filter="url(#bl2)"/>
<ellipse cx="77.3" cy="752.4" rx="6.1" ry="6.1" fill="#555" fill-opacity="0.16" filter="url(#bl2)"/>
<ellipse cx="80.2" cy="692.4" rx="3.2" ry="7.2" fill="#555" fill-opacity="0.25" filter="url(#bl2)"/>
<ellipse cx="86.0" cy="738.0" rx="3.7" ry="6.0" fill="#555" fill-opacity="0.25" filter="url(#bl2)"/>
<ellipse cx="96.0" cy="756.3" rx="6.4" ry="4.4" fill="#555" fill-opacity="0.18" filter="url(#bl2)"/>
<ellipse cx="106.2" cy="761.0" rx="4.8" ry="4.6" fill="#555" fill-opacity="0.18" filter="url(#bl2)"/>
<ellipse cx="106.5" cy="689.4" rx="6.1" ry="7.9" fill="#555" fill-opacity="0.23" filter="url(#bl2)"/>
<ellipse cx="94.3" cy="790.0" rx="5.1" ry="6.4" fill="#555" fill-opacity="0.16" filter="url(#bl2)"/>
<ellipse cx="55.8" cy="797.7" rx="5.3" ry="4.2" fill="#555" fill-opacity="0.18" filter="url(#bl2)"/>
<ellipse cx="79.9" cy="733.4" rx="4.4" ry="6.2" fill="#555" fill-opacity="0.19" filter="url(#bl2)"/>
<ellipse cx="72" cy="686" rx="13" ry="5" fill="#000" fill-opacity="0.75" filter="url(#bl2)"/>
<ellipse cx="57" cy="694" rx="7" ry="4" fill="#000" fill-opacity="0.5" filter="url(#bl2)"/>
<ellipse cx="80" cy="823" rx="8" ry="3" fill="#000" fill-opacity="0.9" filter="url(#bl2)"/>
</g>
<path d="M88.4,716.6 L100.7,712.8 L105.5,717.5 L109.3,727.0 L115.9,730.8 L116.3,780.2 L111.2,784.0 L110.2,791.6 L104.5,793.5 L104.5,801.1 L91.2,803.0 L81.7,806.8 L76.0,805.9 L68.4,799.2 L62.7,787.8 L62.3,763.1 L66.5,759.3 L70.3,749.8 L71.3,728.9 L81.7,727.0 L88.4,723.2 Z" fill="#d39cad" fill-opacity="0.9"/>
<path d="M47.8,726.1L46.5,726.4M47.2,733.0L47.7,734.2M47.1,737.3L47.9,736.3M47.2,741.0L47.6,739.7M47.4,743.8L47.3,745.1M47.6,748.2L46.9,747.0M47.3,761.8L47.4,763.1M47.6,769.0L46.8,770.1M47.8,776.7L46.5,776.4M51.0,704.2L50.8,705.5M51.4,708.1L50.1,708.5M51.4,711.7L50.1,711.9M51.3,718.8L50.2,719.4M50.6,722.3L51.6,723.2M51.4,726.2L50.1,726.1M51.3,730.1L50.2,729.2M50.5,733.3L51.8,733.5M50.7,743.8L51.4,745.0M51.1,748.2L50.6,747.0M50.9,751.0L51.1,752.3M50.8,755.4L51.2,754.1M50.9,758.2L51.1,759.5M51.3,761.9L50.2,762.8M51.1,765.4L50.6,766.6M50.5,769.2L51.8,769.7M50.5,773.1L51.8,772.8M51.1,776.2L50.6,777.4M51.1,779.8L50.6,781.0M51.0,784.2L50.9,782.9M51.0,787.0L50.9,788.3M50.5,794.5L51.8,794.8M50.5,798.3L51.8,798.0M53.9,697.6L55.9,696.9M54.1,701.1L55.4,700.9M55.0,704.6L53.7,704.5M54.8,707.8L54.0,708.9M54.8,712.2L54.1,711.0M54.4,715.0L54.9,716.2M54.7,722.2L54.3,723.5M54.8,725.8L54.1,727.0M54.2,730.1L55.3,729.3M54.8,736.6L54.1,737.8M54.5,741.0L54.7,739.7M54.4,743.8L54.8,745.1M54.3,748.2L55.0,747.0M54.8,751.0L54.0,752.1M54.7,755.4L54.2,754.2M54.1,758.6L55.4,758.5M54.6,762.6L54.4,761.3M54.2,769.6L55.3,768.9M54.5,773.4L54.6,772.1M54.3,777.0L55.0,775.8M54.8,779.8L54.1,781.0M54.2,784.1L55.2,783.1M54.1,787.5L55.4,787.1M54.3,790.7L55.1,791.7M54.2,794.3L55.3,795.1M54.4,805.8L54.8,804.5M57.5,690.3L59.5,690.0M57.5,693.6L59.5,694.2M57.5,697.3L59.5,697.5M57.8,700.8L58.9,701.4M57.8,704.9L58.8,704.0M57.7,708.4L59.0,707.8M58.2,711.4L58.0,712.7M57.9,715.8L58.6,714.6M57.8,722.4L58.9,723.1M57.7,729.7L59.0,730.0M57.7,733.4L59.0,733.3M57.8,736.7L58.8,737.6M58.1,740.2L58.2,741.5M57.8,743.9L58.9,744.7M58.5,747.5L57.5,748.4M57.8,751.6L58.9,750.9M58.2,754.6L58.1,755.9M57.8,758.3L58.9,759.1M57.7,762.1L59.0,762.4M58.3,769.0L57.9,770.3M58.6,772.9L57.3,773.3M57.7,776.4L59.0,776.9M57.7,780.3L59.0,780.0M57.8,783.5L58.8,784.4M58.5,787.7L57.5,786.8M58.6,791.1L57.3,790.8M58.4,795.0L57.7,793.8M58.6,798.3L57.3,798.0M58.1,801.4L58.2,802.7M57.7,809.0L59.0,808.9M58.4,813.0L57.6,811.9M61.1,686.3L63.0,687.2M61.1,690.3L63.1,689.9M61.1,693.9L63.1,693.5M61.1,697.1L63.0,698.0M62.0,700.6L61.3,701.8M62.1,704.8L61.0,704.2M61.7,707.8L61.8,709.1M61.3,715.2L62.6,715.8M61.3,718.8L62.6,719.4M61.9,725.8L61.5,727.1M62.2,729.8L60.9,729.8M61.5,733.0L62.3,734.1M61.6,737.4L62.0,736.1M61.5,743.8L62.2,745.0M61.3,747.8L62.6,747.7M61.9,751.0L61.4,752.2M61.4,758.8L62.5,758.2M61.4,762.5L62.5,761.6M61.3,769.3L62.6,769.6M61.4,773.3L62.5,772.5M61.4,776.8L62.5,776.1M61.8,780.6L61.7,779.3M61.6,783.4L62.1,784.6M61.5,787.0L62.2,788.2M62.0,791.4L61.3,790.2M61.3,794.4L62.6,795.0M61.6,798.6L62.1,797.4M62.2,801.9L60.9,801.6M62.2,805.3L60.9,805.7M62.0,808.6L61.3,809.8M61.3,812.5L62.6,812.7M62.1,816.0L61.0,816.6M64.7,683.3L66.6,682.4M64.7,686.9L66.7,686.1M64.7,693.6L66.7,694.3M64.7,697.5L66.7,697.3M65.3,700.6L65.4,701.9M65.8,708.2L64.5,708.2M65.8,711.6L64.5,712.1M65.4,715.8L65.2,714.5M65.8,719.0L64.5,719.0M65.3,722.2L65.5,723.5M65.8,726.4L64.5,725.9M65.0,730.0L66.1,729.4M65.6,733.8L64.8,732.7M65.0,744.5L66.0,743.6M65.3,748.2L65.4,746.9M65.5,751.0L65.0,752.2M65.1,755.4L65.9,754.3M65.5,759.0L65.1,757.7M65.3,795.0L65.4,793.7M65.4,802.2L65.2,800.9M65.8,805.4L64.5,805.3M65.4,809.4L65.2,808.1M65.2,816.6L65.7,815.4M65.4,819.4L65.3,820.7M68.3,682.7L70.2,683.6M68.3,690.0L70.3,690.7M68.3,693.7L70.3,694.1M68.3,697.1L70.2,698.0M69.3,700.7L68.3,701.6M69.4,704.4L68.1,705.0M69.2,707.8L68.5,709.0M68.5,715.5L69.8,715.2M69.3,722.4L68.2,723.1M68.9,729.4L69.0,730.7M68.5,733.4L69.8,733.4M69.4,736.8L68.1,737.3M69.3,744.5L68.2,743.6M68.8,747.4L69.2,748.7M69.4,751.5L68.1,751.2M68.6,801.5L69.7,802.4M68.6,805.1L69.6,806.0M69.4,809.1L68.1,808.7M68.9,813.0L69.0,811.7M68.7,815.9L69.5,816.9M69.4,820.0L68.1,819.4M71.9,679.4L73.9,679.4M71.9,683.0L73.9,683.0M71.9,690.2L73.9,690.1M71.9,693.9L73.9,693.7M71.9,697.3L73.9,697.7M72.8,701.4L72.0,700.3M72.4,704.2L72.8,705.5M72.9,712.1L71.8,711.3M72.3,715.8L73.0,714.6M72.1,719.0L73.4,718.9M72.3,723.0L73.0,721.8M72.6,726.6L72.5,725.3M72.9,805.7L71.9,804.7M72.5,809.4L72.7,808.1M72.5,813.0L72.6,811.7M72.9,816.5L71.8,815.6M72.6,819.4L72.5,820.7M72.2,823.7L73.2,822.8M75.5,679.6L77.5,678.9M75.5,683.0L77.5,683.0M75.5,686.9L77.4,686.0M75.5,690.0L77.5,690.6M75.5,693.9L77.5,693.6M75.5,697.7L77.4,696.7M75.7,701.1L77.0,700.7M76.5,704.3L75.4,705.1M76.5,708.5L75.4,707.6M76.0,711.4L76.4,712.7M76.2,715.0L76.0,716.3M76.6,722.7L75.3,722.5M76.6,726.2L75.3,726.1M76.1,809.4L76.3,808.1M76.5,812.9L75.5,812.0M75.7,816.3L77.0,816.0M75.8,820.0L76.9,819.3M76.5,823.7L75.4,822.8M79.1,679.4L81.1,679.4M79.1,690.3L81.1,690.0M79.1,694.0L81.1,693.4M79.1,697.2L81.1,697.7M79.4,700.7L80.5,701.6M80.2,704.6L78.9,704.6M79.3,711.6L80.6,712.1M79.4,715.7L80.4,714.8M79.3,718.9L80.6,719.2M79.6,723.0L80.1,721.8M80.1,726.5L79.1,725.6M80.1,808.7L79.1,809.6M79.4,812.8L80.5,812.2M79.4,816.5L80.4,815.6M79.5,819.4L80.3,820.5M79.3,823.4L80.6,823.5M82.7,683.3L84.6,682.4M82.7,686.9L84.6,686.1M82.7,690.0L84.7,690.7M82.7,694.1L84.6,693.1M82.9,700.9L84.2,701.2M83.0,704.3L84.0,705.2M83.4,715.8L83.3,714.5M83.1,719.4L83.9,718.3M83.7,722.3L82.7,723.2M83.1,808.6L83.9,809.7M83.1,813.0L83.9,811.9M82.9,816.1L84.2,816.5M83.8,823.3L82.5,823.6M86.3,679.1L88.2,680.1M86.3,686.6L88.3,686.5M86.3,693.6L88.3,694.1M86.3,697.7L88.2,696.7M86.6,700.8L87.7,701.5M86.6,704.4L87.7,705.1M87.0,712.2L86.9,710.9M86.6,715.1L87.6,716.1M86.8,719.4L87.3,718.2M87.1,722.2L86.7,723.4M87.4,809.2L86.1,808.6M87.2,816.6L86.4,815.5M87.1,819.4L86.7,820.7M87.2,823.0L86.5,824.2M89.9,683.0L91.9,683.0M89.9,686.9L91.9,686.1M89.9,690.3L91.9,689.9M89.9,694.1L91.8,693.2M89.9,697.4L91.9,697.4M90.1,701.2L91.4,700.6M90.4,705.0L90.9,703.8M90.2,708.4L91.3,707.8M90.3,711.5L91.1,712.5M91.0,715.6L89.7,715.0M90.9,805.7L89.9,804.7M90.2,808.8L91.3,809.4M90.8,816.6L90.0,815.5M90.3,820.1L91.1,819.1M93.5,686.4L95.5,687.1M93.5,690.4L95.5,689.9M93.5,693.7L95.5,693.9M93.5,697.1L95.4,698.0M94.4,701.4L93.7,700.2M93.7,704.8L95.0,704.3M94.2,708.6L94.0,707.3M93.7,711.8L95.0,711.8M94.6,805.5L93.3,805.2M93.7,809.1L95.0,808.7M94.5,812.9L93.5,811.9M94.3,815.8L93.9,817.1M94.5,820.0L93.4,819.3M97.1,682.7L99.0,683.7M97.1,686.5L99.1,686.8M97.1,690.0L99.1,690.5M97.1,693.9L99.1,693.6M97.1,697.1L99.0,698.0M98.0,701.4L97.3,700.2M97.3,704.8L98.6,704.2M98.1,707.9L97.1,708.8M97.6,712.2L98.0,710.9M97.4,805.2L98.5,805.9M97.7,812.2L97.9,813.5M100.7,686.6L102.7,686.6M100.7,690.3L102.7,690.1M100.7,693.6L102.7,694.3M100.9,701.0L102.2,701.0M101.8,704.7L100.5,704.4M100.9,708.3L102.2,707.9M101.0,711.5L102.1,712.3M101.0,802.1L102.0,801.2M101.5,805.0L101.1,806.3M101.0,809.3L102.1,808.4M101.3,812.2L101.5,813.5M101.6,815.8L100.9,817.0M104.3,694.1L106.2,693.1M104.3,697.3L106.3,697.6M104.5,701.1L105.8,700.8M105.4,704.7L104.1,704.4M104.9,708.6L105.0,707.3M104.9,711.4L105.1,712.7M105.1,715.8L104.7,714.5M104.5,794.4L105.8,794.9M105.1,798.6L104.6,797.4M104.8,802.2L105.3,801.0M105.1,805.0L104.6,806.2M105.2,808.6L104.5,809.8M108.2,708.0L109.3,708.7M108.7,712.2L108.3,710.9M108.7,715.8L108.2,714.6M108.4,718.6L108.8,719.9M108.2,722.9L109.2,722.0M108.2,797.9L109.3,798.7M108.6,801.4L108.4,802.7M111.7,722.8L113.0,722.2M112.1,725.8L112.2,727.1M112.6,783.9L111.3,783.6M111.8,787.7L112.9,786.9M112.6,791.1L111.3,790.7" stroke="#111" stroke-width="1.0" stroke-linecap="round" fill="none"/>
<path d="M66.3,761.4L63.4,763.7M66.3,765.0L63.4,767.4M66.4,768.7L63.3,770.9M66.4,772.3L63.3,774.5M66.4,775.9L63.3,778.0M66.3,779.4L63.4,781.8M66.3,782.9L63.5,785.5M66.3,786.6L63.5,789.1M66.3,790.2L63.5,792.7M69.9,754.2L67.1,756.7M69.9,757.8L67.0,760.2M69.9,761.4L67.1,763.9M69.9,765.0L67.0,767.3M69.9,768.6L67.0,770.9M69.9,772.2L67.0,774.5M70.0,775.9L66.9,778.0M69.9,779.4L67.0,781.8M69.9,783.0L67.0,785.4M70.0,786.7L66.9,788.9M69.9,790.2L67.0,792.5M69.9,793.8L67.0,796.2M69.9,797.4L67.1,799.8M73.4,729.6L70.9,730.2M73.3,733.1L71.0,734.1M73.5,736.1L70.7,738.7M73.5,739.8L70.6,742.2M73.5,743.4L70.6,745.8M73.5,747.0L70.7,749.5M73.4,750.5L70.8,753.2M73.5,754.2L70.7,756.6M73.5,757.8L70.7,760.2M73.5,761.4L70.7,763.8M73.6,765.1L70.5,767.3M73.5,768.6L70.6,771.0M73.5,772.2L70.6,774.5M73.6,775.9L70.5,778.1M73.5,779.4L70.6,781.7M73.5,783.0L70.6,785.4M73.5,786.6L70.6,788.9M73.5,790.2L70.6,792.6M73.5,793.8L70.6,796.2M73.5,797.4L70.6,799.8M73.5,801.0L70.7,803.4M77.0,729.6L74.5,730.3M76.9,733.0L74.6,734.1M77.1,736.2L74.2,738.6M77.1,739.8L74.2,742.1M77.2,743.5L74.1,745.7M77.1,747.0L74.3,749.5M77.1,750.6L74.2,753.0M77.1,754.2L74.3,756.7M77.1,757.8L74.2,760.2M77.1,761.3L74.3,763.9M77.1,765.0L74.2,767.3M77.2,768.7L74.1,770.9M77.1,772.2L74.3,774.7M77.1,775.8L74.3,778.3M77.2,779.5L74.1,781.6M77.1,783.0L74.2,785.3M77.2,786.7L74.1,788.9M77.0,790.1L74.4,792.8M77.2,793.9L74.1,796.1M77.1,797.4L74.2,799.8M77.1,801.0L74.3,803.5M77.1,804.6L74.3,807.0M80.5,729.5L78.2,730.5M80.6,733.2L78.1,733.8M80.7,736.1L77.9,738.7M80.7,739.8L77.8,742.1M80.6,743.3L78.0,745.9M80.7,747.0L77.9,749.4M80.7,750.6L77.8,753.0M80.7,754.2L77.9,756.6M80.7,757.7L77.9,760.3M80.7,761.4L77.9,763.9M80.8,765.1L77.7,767.3M80.7,768.6L77.8,771.0M80.7,772.2L77.8,774.6M80.7,775.7L77.9,778.3M80.7,779.4L77.8,781.7M80.7,783.0L77.9,785.5M80.7,786.6L77.8,789.0M80.8,790.3L77.7,792.5M80.8,793.9L77.7,796.0M80.6,797.3L78.0,800.0M80.7,801.0L77.8,803.3M80.8,804.7L77.7,806.9M84.2,725.9L81.7,726.7M84.2,729.6L81.7,730.2M84.2,733.1L81.7,733.9M84.3,736.2L81.5,738.7M84.2,739.7L81.6,742.3M84.4,743.5L81.3,745.7M84.3,747.0L81.4,749.4M84.3,750.6L81.5,753.1M84.3,754.2L81.4,756.6M84.3,757.8L81.4,760.2M84.3,761.4L81.4,763.8M84.2,764.9L81.6,767.5M84.3,768.6L81.5,771.1M84.3,772.2L81.5,774.6M84.3,775.7L81.5,778.3M84.4,779.5L81.3,781.7M84.3,783.0L81.5,785.4M84.3,786.6L81.4,789.0M84.3,790.2L81.4,792.5M84.3,793.8L81.4,796.1M84.3,797.4L81.4,799.7M84.3,801.0L81.4,803.3M84.3,804.6L81.5,807.1M87.7,725.9L85.4,726.8M87.7,729.5L85.4,730.5M87.8,733.1L85.3,734.0M87.9,736.2L85.1,738.7M87.9,739.8L85.1,742.3M87.9,743.4L85.0,745.7M88.0,747.1L84.9,749.2M87.9,750.6L85.0,753.0M87.8,754.1L85.2,756.7M87.9,757.8L85.0,760.2M87.9,761.4L85.0,763.8M88.0,765.1L84.9,767.2M87.9,768.6L85.0,770.9M88.0,772.3L84.9,774.5M87.9,775.8L85.0,778.1M87.9,779.4L85.0,781.8M88.0,783.1L84.9,785.3M88.0,786.7L84.9,788.9M87.9,790.2L85.1,792.7M87.9,793.7L85.1,796.3M87.9,797.4L85.1,799.8M87.9,801.0L85.0,803.4M91.4,718.8L88.9,719.4M91.4,722.4L88.9,723.1M91.4,726.0L88.9,726.7M91.4,729.6L88.9,730.3M91.3,733.1L89.0,734.0M91.6,736.3L88.5,738.5M91.5,739.8L88.6,742.2M91.5,743.4L88.7,745.8M91.5,747.0L88.6,749.4M91.6,750.7L88.5,752.8M91.5,754.2L88.6,756.6M91.5,757.7L88.7,760.3M91.5,761.3L88.7,763.9M91.5,765.0L88.6,767.3M91.5,768.6L88.6,771.0M91.6,772.3L88.5,774.5M91.5,775.7L88.7,778.3M91.5,779.4L88.7,781.8M91.5,783.0L88.6,785.3M91.4,786.5L88.8,789.2M91.4,790.1L88.8,792.7M91.5,793.8L88.6,796.2M91.5,797.4L88.7,799.9M91.5,800.9L88.7,803.5M94.9,715.1L92.6,716.1M94.9,718.6L92.6,719.7M95.0,722.4L92.5,723.1M95.0,726.0L92.5,726.7M94.9,729.5L92.6,730.4M94.9,733.1L92.6,734.0M95.1,736.2L92.3,738.6M95.2,739.9L92.1,742.1M95.1,743.4L92.2,745.7M95.1,747.0L92.2,749.4M95.0,750.5L92.4,753.2M95.2,754.3L92.1,756.5M95.1,757.8L92.2,760.2M95.1,761.3L92.3,763.9M95.1,765.0L92.3,767.5M95.1,768.6L92.2,770.9M95.0,772.1L92.4,774.8M95.1,775.7L92.3,778.3M95.1,779.4L92.3,781.9M95.2,783.1L92.1,785.3M95.1,786.6L92.2,788.9M95.2,790.3L92.1,792.4M95.1,793.8L92.2,796.2M95.1,797.4L92.2,799.8M95.1,801.0L92.2,803.4M98.5,715.1L96.2,716.0M98.6,718.8L96.1,719.5M98.5,722.3L96.2,723.2M98.5,725.9L96.2,726.9M98.5,729.5L96.2,730.4M98.5,733.0L96.2,734.1M98.7,736.2L95.9,738.7M98.7,739.8L95.9,742.2M98.6,743.3L96.0,746.0M98.7,746.9L95.9,749.5M98.7,750.6L95.9,753.1M98.8,754.3L95.7,756.5M98.7,757.8L95.8,760.2M98.7,761.4L95.9,763.9M98.8,765.1L95.7,767.2M98.7,768.6L95.9,771.1M98.7,772.2L95.8,774.6M98.7,775.8L95.8,778.1M98.7,779.4L95.8,781.7M98.7,783.0L95.9,785.4M98.7,786.6L95.8,788.9M98.7,790.2L95.8,792.6M98.7,793.8L95.8,796.1M98.7,797.4L95.8,799.8M98.8,801.1L95.7,803.2M102.2,715.1L99.7,716.0M102.1,718.7L99.8,719.6M102.2,722.3L99.7,723.1M102.1,725.8L99.8,726.9M102.1,729.5L99.8,730.5M102.1,733.1L99.8,734.1M102.3,736.2L99.4,738.6M102.3,739.8L99.4,742.1M102.4,743.5L99.3,745.7M102.3,747.0L99.4,749.3M102.3,750.6L99.4,752.9M102.2,754.1L99.6,756.7M102.3,757.8L99.5,760.2M102.3,761.4L99.4,763.7M102.3,765.0L99.5,767.5M102.3,768.6L99.4,771.0M102.4,772.3L99.3,774.5M102.3,775.7L99.5,778.3M102.4,779.5L99.3,781.7M102.3,782.9L99.5,785.5M102.3,786.6L99.5,789.0M102.4,790.3L99.3,792.5M102.3,793.7L99.5,796.3M102.3,797.4L99.4,799.8M105.7,718.7L103.4,719.6M105.7,722.2L103.4,723.3M105.7,725.8L103.4,726.9M105.8,729.5L103.3,730.4M105.8,733.1L103.3,733.9M106.0,736.3L102.9,738.4M105.9,739.8L103.0,742.2M105.9,743.4L103.0,745.8M105.9,746.9L103.1,749.5M105.9,750.6L103.1,753.0M105.9,754.2L103.1,756.7M105.9,757.8L103.0,760.1M105.9,761.4L103.1,763.9M105.9,764.9L103.1,767.5M105.9,768.6L103.1,771.1M105.9,772.2L103.0,774.6M105.9,775.8L103.1,778.3M105.9,779.4L103.0,781.8M105.9,782.9L103.1,785.5M106.0,786.7L102.9,788.9M105.9,790.2L103.0,792.5M109.3,725.9L107.0,726.8M109.3,729.4L107.0,730.6M109.3,733.0L107.0,734.2M109.5,736.2L106.7,738.7M109.5,739.8L106.6,742.2M109.4,743.3L106.8,745.9M109.5,747.0L106.7,749.5M109.5,750.6L106.6,752.9M109.6,754.3L106.5,756.4M109.5,757.8L106.7,760.3M109.5,761.4L106.6,763.8M109.5,765.0L106.6,767.4M109.4,768.5L106.8,771.2M109.5,772.2L106.7,774.7M109.5,775.7L106.7,778.3M109.5,779.4L106.7,781.9M109.5,783.0L106.6,785.3M109.5,786.6L106.6,788.9M109.4,790.1L106.8,792.8M113.0,729.5L110.5,730.3M112.9,733.1L110.6,734.1M113.1,736.2L110.2,738.6M113.1,739.8L110.3,742.3M113.2,743.5L110.1,745.7M113.1,747.0L110.3,749.5M113.1,750.6L110.2,752.9M113.1,754.2L110.2,756.6M113.2,757.9L110.1,760.1M113.1,761.4L110.2,763.8M113.2,765.1L110.1,767.3M113.1,768.6L110.3,771.0M113.1,772.2L110.2,774.5M113.1,775.8L110.2,778.2M113.1,779.4L110.2,781.8" stroke="#111" stroke-width="1.2" stroke-linecap="round" fill="none"/>
<path d="M90.8,783.2 L78.0,804.0 L75.7,802.6 L75.1,811.6 L82.9,807.0 L80.7,805.6 L93.6,784.8 Z" fill="#111" stroke="#f0a050" stroke-width="3.2" stroke-linejoin="round" paint-order="stroke"/>
<rect x="132.8" y="671.6" width="76.8" height="153.7" fill="#f9f9f9"/>
<clipPath id="emb2"><path d="M205.8,750.2 L205.7,759.7 L205.6,766.0 L205.3,771.5 L205.0,776.4 L204.5,781.0 L203.9,785.3 L203.3,789.2 L202.5,793.0 L201.6,796.5 L200.6,799.8 L199.6,802.9 L198.4,805.7 L197.1,808.4 L195.7,810.8 L194.2,813.0 L192.7,815.0 L191.0,816.9 L189.2,818.5 L187.2,819.8 L185.2,821.0 L183.0,822.0 L180.6,822.7 L177.9,823.3 L174.9,823.6 L170.3,823.7 L165.7,823.6 L162.7,823.3 L160.0,822.7 L157.6,822.0 L155.4,821.0 L153.4,819.8 L151.4,818.5 L149.6,816.9 L147.9,815.0 L146.4,813.0 L144.9,810.8 L143.5,808.4 L142.2,805.7 L141.0,802.9 L140.0,799.8 L139.0,796.5 L138.1,793.0 L137.3,789.2 L136.7,785.3 L136.1,781.0 L135.6,776.4 L135.3,771.5 L135.0,766.0 L134.9,759.7 L134.8,750.2 L134.9,740.7 L135.0,734.4 L135.3,728.9 L135.6,724.0 L136.1,719.4 L136.7,715.1 L137.3,711.2 L138.1,707.4 L139.0,703.9 L140.0,700.6 L141.0,697.5 L142.2,694.7 L143.5,692.0 L144.9,689.6 L146.4,687.4 L147.9,685.4 L149.6,683.5 L151.4,681.9 L153.4,680.6 L155.4,679.4 L157.6,678.4 L160.0,677.7 L162.7,677.1 L165.7,676.8 L170.3,676.7 L174.9,676.8 L177.9,677.1 L180.6,677.7 L183.0,678.4 L185.2,679.4 L187.2,680.6 L189.2,681.9 L191.0,683.5 L192.7,685.4 L194.2,687.4 L195.7,689.6 L197.1,692.0 L198.4,694.7 L199.6,697.5 L200.6,700.6 L201.6,703.9 L202.5,707.4 L203.3,711.2 L203.9,715.1 L204.5,719.4 L205.0,724.0 L205.3,728.9 L205.6,734.4 L205.7,740.7 Z"/></clipPath>
<path d="M205.8,750.2 L205.7,759.7 L205.6,766.0 L205.3,771.5 L205.0,776.4 L204.5,781.0 L203.9,785.3 L203.3,789.2 L202.5,793.0 L201.6,796.5 L200.6,799.8 L199.6,802.9 L198.4,805.7 L197.1,808.4 L195.7,810.8 L194.2,813.0 L192.7,815.0 L191.0,816.9 L189.2,818.5 L187.2,819.8 L185.2,821.0 L183.0,822.0 L180.6,822.7 L177.9,823.3 L174.9,823.6 L170.3,823.7 L165.7,823.6 L162.7,823.3 L160.0,822.7 L157.6,822.0 L155.4,821.0 L153.4,819.8 L151.4,818.5 L149.6,816.9 L147.9,815.0 L146.4,813.0 L144.9,810.8 L143.5,808.4 L142.2,805.7 L141.0,802.9 L140.0,799.8 L139.0,796.5 L138.1,793.0 L137.3,789.2 L136.7,785.3 L136.1,781.0 L135.6,776.4 L135.3,771.5 L135.0,766.0 L134.9,759.7 L134.8,750.2 L134.9,740.7 L135.0,734.4 L135.3,728.9 L135.6,724.0 L136.1,719.4 L136.7,715.1 L137.3,711.2 L138.1,707.4 L139.0,703.9 L140.0,700.6 L141.0,697.5 L142.2,694.7 L143.5,692.0 L144.9,689.6 L146.4,687.4 L147.9,685.4 L149.6,683.5 L151.4,681.9 L153.4,680.6 L155.4,679.4 L157.6,678.4 L160.0,677.7 L162.7,677.1 L165.7,676.8 L170.3,676.7 L174.9,676.8 L177.9,677.1 L180.6,677.7 L183.0,678.4 L185.2,679.4 L187.2,680.6 L189.2,681.9 L191.0,683.5 L192.7,685.4 L194.2,687.4 L195.7,689.6 L197.1,692.0 L198.4,694.7 L199.6,697.5 L200.6,700.6 L201.6,703.9 L202.5,707.4 L203.3,711.2 L203.9,715.1 L204.5,719.4 L205.0,724.0 L205.3,728.9 L205.6,734.4 L205.7,740.7 Z" fill="#f3f3f3"/>
<g clip-path="url(#emb2)">
<path d="M205.8,750.2 L205.7,759.7 L205.6,766.0 L205.3,771.5 L205.0,776.4 L204.5,781.0 L203.9,785.3 L203.3,789.2 L202.5,793.0 L201.6,796.5 L200.6,799.8 L199.6,802.9 L198.4,805.7 L197.1,808.4 L195.7,810.8 L194.2,813.0 L192.7,815.0 L191.0,816.9 L189.2,818.5 L187.2,819.8 L185.2,821.0 L183.0,822.0 L180.6,822.7 L177.9,823.3 L174.9,823.6 L170.3,823.7 L165.7,823.6 L162.7,823.3 L160.0,822.7 L157.6,822.0 L155.4,821.0 L153.4,819.8 L151.4,818.5 L149.6,816.9 L147.9,815.0 L146.4,813.0 L144.9,810.8 L143.5,808.4 L142.2,805.7 L141.0,802.9 L140.0,799.8 L139.0,796.5 L138.1,793.0 L137.3,789.2 L136.7,785.3 L136.1,781.0 L135.6,776.4 L135.3,771.5 L135.0,766.0 L134.9,759.7 L134.8,750.2 L134.9,740.7 L135.0,734.4 L135.3,728.9 L135.6,724.0 L136.1,719.4 L136.7,715.1 L137.3,711.2 L138.1,707.4 L139.0,703.9 L140.0,700.6 L141.0,697.5 L142.2,694.7 L143.5,692.0 L144.9,689.6 L146.4,687.4 L147.9,685.4 L149.6,683.5 L151.4,681.9 L153.4,680.6 L155.4,679.4 L157.6,678.4 L160.0,677.7 L162.7,677.1 L165.7,676.8 L170.3,676.7 L174.9,676.8 L177.9,677.1 L180.6,677.7 L183.0,678.4 L185.2,679.4 L187.2,680.6 L189.2,681.9 L191.0,683.5 L192.7,685.4 L194.2,687.4 L195.7,689.6 L197.1,692.0 L198.4,694.7 L199.6,697.5 L200.6,700.6 L201.6,703.9 L202.5,707.4 L203.3,711.2 L203.9,715.1 L204.5,719.4 L205.0,724.0 L205.3,728.9 L205.6,734.4 L205.7,740.7 Z" fill="none" stroke="#555" stroke-opacity="0.22" stroke-width="9" filter="url(#bl3)"/>
<ellipse cx="196.2" cy="806.2" rx="3.2" ry="3.5" fill="#555" fill-opacity="0.23" filter="url(#bl2)"/>
<ellipse cx="183.7" cy="771.4" rx="4.2" ry="6.6" fill="#555" fill-opacity="0.19" filter="url(#bl2)"/>
<ellipse cx="174.9" cy="707.5" rx="4.7" ry="5.4" fill="#555" fill-opacity="0.21" filter="url(#bl2)"/>
<ellipse cx="198.4" cy="806.4" rx="5.2" ry="5.7" fill="#555" fill-opacity="0.14" filter="url(#bl2)"/>
<ellipse cx="143.9" cy="691.2" rx="4.9" ry="4.9" fill="#555" fill-opacity="0.16" filter="url(#bl2)"/>
<ellipse cx="192.6" cy="753.4" rx="5.2" ry="4.4" fill="#555" fill-opacity="0.10" filter="url(#bl2)"/>
<ellipse cx="160.4" cy="704.8" rx="5.0" ry="9.0" fill="#555" fill-opacity="0.20" filter="url(#bl2)"/>
<ellipse cx="152.2" cy="799.4" rx="6.2" ry="7.4" fill="#555" fill-opacity="0.24" filter="url(#bl2)"/>
<ellipse cx="185.2" cy="786.4" rx="4.4" ry="8.9" fill="#555" fill-opacity="0.24" filter="url(#bl2)"/>
<ellipse cx="151.1" cy="781.9" rx="5.9" ry="5.8" fill="#555" fill-opacity="0.18" filter="url(#bl2)"/>
<ellipse cx="169.7" cy="803.3" rx="5.0" ry="8.0" fill="#555" fill-opacity="0.15" filter="url(#bl2)"/>
<ellipse cx="192.0" cy="800.1" rx="4.8" ry="6.4" fill="#555" fill-opacity="0.24" filter="url(#bl2)"/>
<ellipse cx="183.0" cy="748.5" rx="3.9" ry="4.9" fill="#555" fill-opacity="0.20" filter="url(#bl2)"/>
<ellipse cx="151.3" cy="801.2" rx="4.1" ry="8.5" fill="#555" fill-opacity="0.15" filter="url(#bl2)"/>
<ellipse cx="196.3" cy="776.0" rx="5.0" ry="6.1" fill="#555" fill-opacity="0.20" filter="url(#bl2)"/>
<ellipse cx="175.3" cy="726.7" rx="3.8" ry="6.1" fill="#555" fill-opacity="0.24" filter="url(#bl2)"/>
<ellipse cx="177.3" cy="697.1" rx="6.3" ry="7.4" fill="#555" fill-opacity="0.24" filter="url(#bl2)"/>
<ellipse cx="152.8" cy="780.8" rx="3.2" ry="6.9" fill="#555" fill-opacity="0.14" filter="url(#bl2)"/>
<ellipse cx="154.8" cy="797.1" rx="3.4" ry="6.1" fill="#555" fill-opacity="0.23" filter="url(#bl2)"/>
<ellipse cx="155.8" cy="714.0" rx="6.5" ry="5.5" fill="#555" fill-opacity="0.21" filter="url(#bl2)"/>
<ellipse cx="143.7" cy="733.0" rx="3.7" ry="7.0" fill="#555" fill-opacity="0.11" filter="url(#bl2)"/>
<ellipse cx="196.1" cy="690.9" rx="5.9" ry="3.1" fill="#555" fill-opacity="0.14" filter="url(#bl2)"/>
<ellipse cx="160" cy="684" rx="12" ry="5" fill="#000" fill-opacity="0.8" filter="url(#bl2)"/>
<ellipse cx="146" cy="692" rx="6" ry="4" fill="#000" fill-opacity="0.5" filter="url(#bl2)"/>
<ellipse cx="168" cy="821" rx="8" ry="3" fill="#000" fill-opacity="0.9" filter="url(#bl2)"/>
</g>
<path d="M177.1,715.1 L189.6,712.2 L195.4,718.0 L198.2,723.7 L202.1,729.5 L208.8,732.4 L208.8,758.3 L202.1,759.3 L203.0,775.7 L201.1,791.0 L195.4,798.7 L193.4,806.4 L187.7,809.3 L176.1,808.3 L169.4,802.6 L164.6,794.9 L156.9,787.2 L152.1,783.3 L151.1,768.0 L157.9,756.4 L158.8,727.6 L174.2,725.7 L177.1,721.8 Z" fill="#a9aad8" fill-opacity="0.9"/>
<path d="M136.4,724.9L137.1,726.1M136.8,729.3L136.3,728.1M136.2,732.4L137.5,732.7M136.3,735.7L137.1,736.8M136.9,743.6L135.9,742.7M136.3,746.6L137.3,747.5M136.2,750.4L137.5,750.7M136.6,754.5L136.7,753.2M136.2,758.0L137.3,757.2M136.3,761.6L137.2,760.6M137.0,764.8L135.7,765.1M136.8,768.9L136.1,767.7M136.2,771.8L137.3,772.6M136.3,776.0L137.2,775.1M140.6,707.0L139.5,707.9M139.9,710.5L140.8,711.6M140.2,714.1L140.1,715.4M140.6,717.9L139.4,718.5M139.9,725.0L140.8,726.0M139.8,735.8L140.9,736.6M140.6,739.7L139.3,739.7M139.8,743.5L141.0,742.9M140.2,746.5L140.3,747.8M140.2,750.1L140.2,751.4M140.5,754.4L139.6,753.5M140.3,758.1L140.0,756.8M140.6,761.1L139.4,761.7M139.8,764.9L141.1,764.9M139.9,771.8L140.9,772.7M140.2,775.3L140.3,776.6M140.1,782.5L140.3,783.8M140.6,786.6L139.3,786.4M140.4,789.7L139.9,790.9M140.1,793.3L140.4,794.6M143.2,696.2L145.0,697.2M144.2,699.9L143.0,700.5M144.2,703.9L143.0,703.3M144.2,711.0L142.9,710.8M143.4,714.2L144.5,715.0M144.1,717.8L143.2,718.8M143.4,721.9L144.6,721.3M143.9,724.9L143.6,726.2M144.1,728.6L143.2,729.5M143.4,735.8L144.5,736.6M143.6,740.1L144.3,738.9M143.4,743.3L144.7,743.4M144.2,746.7L143.0,747.4M143.7,750.1L144.0,751.4M143.4,753.9L144.6,754.5M144.1,757.4L143.2,758.3M143.4,761.1L144.6,761.7M143.6,764.5L144.1,765.7M144.1,768.2L143.1,769.1M143.8,772.5L143.8,771.2M143.5,775.4L144.4,776.3M144.1,786.8L143.2,785.8M144.0,790.5L143.5,789.3M143.7,797.7L144.0,796.4M144.2,800.9L142.9,800.9M144.2,804.4L142.9,804.7M146.7,689.5L148.8,689.0M146.7,692.9L148.8,692.9M146.7,696.3L148.7,696.9M147.2,700.5L147.9,699.3M147.3,703.3L147.5,704.6M147.4,706.9L147.3,708.2M147.6,711.3L147.0,710.1M147.8,714.7L146.6,714.0M147.0,717.8L148.1,718.6M147.0,721.7L148.3,721.7M147.0,728.7L148.2,729.3M147.0,736.1L148.3,736.0M147.1,739.4L148.0,740.4M147.3,742.9L147.5,744.2M147.6,747.3L147.0,746.1M147.8,750.6L146.5,750.4M147.0,757.8L148.3,757.4M147.0,761.0L148.1,761.8M147.5,765.3L147.2,764.0M147.0,768.8L148.1,767.9M147.5,772.5L147.1,771.2M147.0,775.7L148.3,775.7M147.8,779.5L146.6,778.9M147.0,786.4L148.3,786.7M147.1,790.4L148.1,789.5M147.8,793.7L146.5,793.6M147.8,797.0L146.7,797.8M147.0,801.1L148.2,800.6M147.8,804.4L146.5,804.7M147.6,807.7L147.0,808.9M147.6,812.1L146.9,810.9M150.3,685.4L152.3,686.2M150.3,689.2L152.4,689.5M150.3,692.8L152.4,693.1M150.3,696.4L152.4,696.7M151.1,704.1L150.8,702.8M151.3,707.7L150.5,706.6M150.6,710.9L151.9,711.0M151.1,714.9L150.9,713.6M150.6,718.4L151.7,717.6M150.6,721.4L151.7,722.2M151.0,725.7L151.1,724.4M151.0,729.3L151.0,728.0M150.8,732.1L151.3,733.3M150.7,735.8L151.6,736.8M151.4,739.5L150.2,740.1M151.4,743.5L150.2,742.9M150.9,746.5L151.3,747.8M150.6,750.3L151.8,750.9M150.8,758.1L151.5,756.9M151.0,761.7L151.0,760.4M151.2,765.3L150.6,764.1M151.0,768.1L150.9,769.4M150.6,772.0L151.9,772.3M150.8,778.9L151.4,780.1M150.9,783.3L151.2,782.0M151.2,786.9L150.6,785.7M150.7,790.4L151.6,789.4M151.3,797.0L150.3,797.9M151.1,800.5L150.7,801.8M150.6,808.2L151.9,807.9M151.4,811.8L150.1,811.5M151.4,815.1L150.2,815.6M153.9,682.2L156.0,681.8M153.9,685.7L156.0,685.7M154.0,689.0L155.9,689.9M153.9,696.6L156.0,696.2M154.5,700.5L154.9,699.2M155.0,703.4L153.9,704.3M154.2,707.1L155.4,707.8M154.9,710.6L153.9,711.5M154.3,714.9L155.1,713.8M154.9,718.4L154.0,717.4M154.6,721.3L154.7,722.6M154.5,724.9L154.7,726.2M154.2,729.0L155.5,728.7M154.9,735.8L153.9,736.7M154.8,739.3L154.2,740.5M154.4,746.5L155.1,747.7M154.7,750.1L154.4,751.4M154.2,754.3L155.4,753.7M154.9,758.0L154.0,757.0M154.8,760.9L154.2,762.1M154.6,786.1L154.7,787.4M154.9,790.4L154.0,789.4M154.4,794.1L155.0,792.9M154.3,797.6L155.3,796.7M155.0,800.9L153.7,800.9M154.2,804.6L155.5,804.2M154.6,808.5L154.6,807.2M154.2,811.9L155.4,811.3M154.2,815.4L155.5,815.2M154.9,819.2L154.0,818.3M157.5,682.2L159.6,681.9M157.5,685.9L159.5,685.2M157.5,689.4L159.6,689.1M157.6,692.6L159.5,693.5M157.6,696.2L159.4,697.1M158.5,707.0L157.6,708.0M157.9,711.2L158.9,710.3M158.6,714.3L157.4,714.9M158.2,717.7L158.3,719.0M158.5,721.4L157.5,722.3M158.5,725.6L157.6,724.6M158.4,728.5L157.8,729.7M157.8,732.2L158.9,733.0M158.2,739.3L158.2,740.6M158.2,742.9L158.2,744.2M157.9,794.1L158.7,793.0M158.1,797.7L158.3,796.4M158.6,800.6L157.5,801.5M158.6,804.2L157.5,805.1M158.5,808.4L157.5,807.5M158.0,812.1L158.7,810.9M158.6,815.5L157.4,814.8M157.8,818.9L159.1,818.8M161.1,678.3L163.1,679.0M161.1,682.2L163.2,682.0M161.2,686.0L163.0,685.1M161.2,693.2L163.1,692.4M161.1,696.4L163.2,696.8M161.4,699.9L162.6,700.5M161.7,704.1L162.1,702.8M161.6,714.1L162.2,715.3M161.4,721.5L162.6,722.2M162.1,725.7L161.3,724.6M161.4,797.2L162.7,797.6M162.1,800.6L161.1,801.5M161.5,804.8L162.4,803.8M161.9,808.5L161.6,807.2M161.4,811.9L162.6,811.3M161.4,815.0L162.5,815.9M162.1,819.2L161.2,818.3M164.7,678.6L166.8,678.3M164.7,682.2L166.8,682.0M164.7,685.8L166.8,685.6M164.7,689.1L166.7,689.7M164.7,692.9L166.8,692.9M164.7,696.3L166.7,696.9M165.3,699.7L165.5,701.0M165.5,704.1L165.1,702.8M165.0,707.2L166.3,707.5M165.3,710.5L165.7,711.8M165.8,714.7L164.6,714.1M165.7,718.4L164.8,717.5M165.5,722.1L165.1,720.8M165.0,725.2L166.3,725.6M165.8,797.5L164.6,796.9M165.8,800.7L164.6,801.4M165.8,804.4L164.5,804.7M165.1,807.8L166.0,808.7M165.5,811.3L165.3,812.6M165.3,814.9L165.6,816.2M165.8,819.0L164.5,818.7M165.8,822.6L164.5,822.4M168.3,678.7L170.3,678.1M168.3,682.0L170.4,682.4M168.3,685.7L170.4,685.6M168.3,689.4L170.4,689.1M168.3,693.1L170.4,692.5M168.3,696.5L170.4,696.5M169.4,700.0L168.1,700.3M169.2,703.3L168.7,704.5M169.4,707.6L168.3,706.7M168.9,710.5L169.2,711.8M169.2,714.9L168.5,713.7M169.2,718.5L168.6,717.3M168.9,721.3L169.2,722.6M169.1,724.9L168.7,726.2M168.9,804.9L169.3,803.6M168.7,807.7L169.5,808.8M168.6,811.8L169.9,811.5M168.9,814.9L169.3,816.2M168.7,819.2L169.6,818.3M169.1,822.9L168.7,821.6M171.9,678.7L173.9,678.1M172.0,682.4L173.9,681.5M171.9,686.0L173.9,685.2M171.9,689.4L174.0,689.1M172.0,692.6L173.8,693.6M171.9,696.5L174.0,696.5M172.5,699.7L172.8,701.0M173.0,703.8L171.7,703.5M172.2,707.1L173.4,707.8M172.8,711.3L172.2,710.1M173.0,717.8L171.9,718.6M172.2,721.4L173.3,722.2M173.0,725.4L171.7,725.2M172.2,808.3L173.4,807.8M172.8,811.3L172.1,812.5M173.0,815.6L171.9,814.7M172.9,822.2L172.0,823.2M175.5,678.4L177.6,678.7M175.6,681.8L177.5,682.7M175.6,685.4L177.4,686.4M175.5,692.7L177.5,693.4M175.8,700.1L177.1,700.1M175.9,704.0L176.8,703.0M176.5,711.2L175.5,710.3M176.6,714.3L175.4,714.9M176.0,717.7L176.7,718.9M176.6,811.4L175.5,812.2M175.9,815.0L176.8,815.9M176.6,818.8L175.3,819.1M179.2,681.8L181.0,682.8M179.1,685.7L181.2,685.7M179.1,689.3L181.2,689.2M179.1,692.7L181.1,693.3M179.1,696.7L181.1,696.0M179.5,699.8L180.4,700.7M179.4,703.6L180.7,703.8M179.4,707.4L180.7,707.2M180.2,711.1L179.0,710.5M180.2,811.5L179.0,812.1M179.4,815.6L180.5,814.8M180.1,819.3L179.3,818.2M182.8,682.4L184.7,681.6M182.7,685.6L184.8,685.9M182.8,689.0L184.6,690.0M182.7,693.0L184.8,692.7M182.7,696.3L184.7,696.9M183.7,699.8L182.8,700.8M183.7,703.3L182.9,704.4M183.7,711.3L182.9,710.2M183.8,811.5L182.6,812.0M186.3,685.5L188.4,686.0M186.3,692.9L188.4,692.9M186.4,696.2L188.2,697.2M187.3,700.4L186.4,699.4M186.9,703.3L187.2,704.6M186.8,706.9L187.5,708.1M186.8,711.3L187.4,710.1M187.3,812.0L186.3,811.1M186.7,815.0L187.6,816.0M189.9,685.6L192.0,686.0M189.9,696.7L191.9,696.1M191.0,699.8L189.9,700.6M190.2,703.7L191.5,703.8M190.8,706.9L190.3,708.1M191.0,710.8L189.7,711.1M190.5,807.7L190.7,809.0M190.9,812.0L190.0,811.0M190.9,815.7L190.0,814.6M193.5,689.5L195.5,688.8M193.6,693.2L195.4,692.2M194.6,703.7L193.3,703.7M193.8,707.4L195.1,707.2M194.5,711.2L193.5,710.3M193.8,714.6L195.1,714.3M194.6,804.7L193.4,804.1M194.6,808.2L193.3,807.9M198.2,700.3L197.0,699.7M197.7,703.3L197.9,704.6M197.4,707.1L198.6,707.8M198.2,710.7L197.0,711.2M198.0,714.9L197.3,713.8M198.0,717.7L197.3,718.9M198.1,722.1L197.3,721.0M198.0,796.9L197.4,798.1M197.8,800.5L197.9,801.8M201.8,707.0L200.7,707.8M201.7,714.1L200.9,715.2M201.8,718.3L200.6,717.8M201.4,721.3L201.3,722.6M201.6,724.9L200.9,726.1M201.6,789.7L201.0,790.9" stroke="#111" stroke-width="1.0" stroke-linecap="round" fill="none"/>
<path d="M154.0,766.0L155.7,762.8M154.0,769.5L155.8,766.4M154.0,773.1L155.8,770.0M153.9,776.6L156.1,773.8M153.9,780.3L155.9,777.3M154.0,783.9L155.9,780.9M157.5,746.9L159.7,746.8M157.6,751.5L159.4,748.4M157.6,755.1L159.4,752.0M157.5,758.7L159.6,755.8M157.6,762.3L159.5,759.3M157.5,765.9L159.5,762.9M157.4,769.4L159.7,766.6M157.6,773.2L159.3,770.0M157.6,776.7L159.4,773.6M157.4,780.2L159.8,777.5M157.5,783.9L159.5,780.9M157.4,787.4L159.7,784.6M161.1,729.0L163.3,728.7M161.1,732.4L163.3,732.7M161.1,736.2L163.3,736.0M161.1,739.7L163.3,739.7M161.1,743.3L163.3,743.3M161.1,747.0L163.3,746.7M161.1,751.5L163.2,748.5M161.2,755.2L162.9,752.0M161.2,758.7L163.0,755.6M161.0,762.2L163.4,759.5M161.0,765.8L163.3,763.1M161.1,769.5L163.2,766.5M161.1,773.0L163.3,770.2M161.0,776.6L163.4,773.9M161.2,780.3L163.0,777.2M161.1,783.9L163.2,780.9M161.2,787.5L163.0,784.4M161.2,791.2L163.0,788.0M164.7,728.8L166.9,729.0M164.7,732.4L166.9,732.6M164.7,736.0L166.9,736.2M164.7,739.7L166.9,739.7M164.7,743.4L166.9,743.1M164.7,747.0L166.9,746.8M164.8,751.6L166.6,748.4M164.7,755.1L166.9,752.2M164.7,758.7L166.8,755.8M164.8,762.3L166.6,759.2M164.6,765.8L167.0,763.1M164.6,769.4L167.0,766.7M164.6,773.0L167.0,770.3M164.7,776.7L166.8,773.7M164.8,780.3L166.7,777.3M164.8,783.9L166.6,780.8M164.6,787.4L166.9,784.7M164.7,791.0L166.9,788.2M164.8,794.7L166.7,791.7M168.3,729.0L170.5,728.7M168.3,732.4L170.5,732.7M168.3,736.2L170.5,736.0M168.3,739.7L170.5,739.6M168.3,743.3L170.5,743.2M168.3,747.0L170.5,746.8M168.3,751.4L170.5,748.6M168.4,755.1L170.3,752.1M168.3,758.7L170.3,755.7M168.3,762.3L170.3,759.3M168.2,765.8L170.6,763.1M168.4,769.6L170.1,766.4M168.3,773.1L170.4,770.2M168.4,776.7L170.2,773.6M168.4,780.3L170.2,777.2M168.3,783.9L170.4,781.0M168.3,787.5L170.3,784.5M168.4,791.2L170.1,788.0M168.3,794.7L170.4,791.8M168.2,798.2L170.6,795.5M168.3,801.9L170.5,799.0M171.9,728.8L174.1,729.0M171.9,732.5L174.1,732.5M171.9,736.1L174.1,736.2M171.9,739.7L174.1,739.8M171.9,743.4L174.1,743.2M171.9,747.0L174.1,746.7M171.9,751.5L174.0,748.5M172.0,755.1L173.8,752.0M172.0,758.7L173.8,755.6M172.0,762.3L173.9,759.3M171.9,765.9L174.0,762.9M171.9,769.5L174.0,766.6M171.9,773.1L174.1,770.2M171.8,776.6L174.2,773.9M172.0,780.4L173.8,777.2M171.9,783.9L174.0,781.0M172.0,787.6L173.7,784.4M171.9,791.0L174.1,788.2M171.9,794.7L173.9,791.7M172.0,798.3L173.8,795.2M172.0,801.9L173.9,798.9M171.9,805.5L174.1,802.6M175.5,725.3L177.7,725.3M175.5,728.8L177.7,729.1M175.5,732.4L177.7,732.6M175.5,736.1L177.7,736.2M175.5,739.7L177.7,739.6M175.5,743.2L177.7,743.5M175.5,747.0L177.7,746.7M175.6,751.5L177.4,748.4M175.4,755.0L177.7,752.3M175.4,758.6L177.8,755.9M175.5,762.3L177.5,759.3M175.4,765.8L177.8,763.1M175.6,769.6L177.4,766.4M175.5,773.1L177.6,770.2M175.6,776.8L177.3,773.6M175.6,780.3L177.4,777.2M175.6,783.9L177.4,780.8M175.7,787.6L177.3,784.4M175.5,791.1L177.5,788.1M175.5,794.7L177.6,791.7M175.6,798.3L177.5,795.3M175.5,801.9L177.7,799.0M175.6,805.6L177.3,802.4M175.5,809.1L177.6,806.1M179.1,714.6L181.3,714.4M179.1,718.1L181.3,718.1M179.1,721.7L181.3,721.7M179.1,725.3L181.3,725.3M179.1,728.9L181.3,728.8M179.1,732.6L181.3,732.4M179.1,736.0L181.3,736.2M179.1,739.6L181.3,739.9M179.1,743.2L181.3,743.4M179.1,746.9L181.3,747.0M179.2,751.6L180.9,748.4M179.2,755.1L181.1,752.1M179.0,758.6L181.4,755.9M179.0,762.2L181.4,759.5M179.1,765.9L181.2,763.0M179.1,769.5L181.2,766.6M179.1,773.0L181.3,770.2M179.2,776.7L181.0,773.6M179.1,780.2L181.3,777.4M179.1,783.9L181.1,780.9M179.0,787.4L181.4,784.7M179.1,791.1L181.2,788.1M179.1,794.7L181.3,791.8M179.1,798.3L181.2,795.4M179.1,801.9L181.2,798.9M179.1,805.5L181.2,802.5M179.0,809.0L181.4,806.3M182.7,714.5L184.9,714.5M182.7,718.1L184.9,718.1M182.7,721.6L184.9,721.9M182.7,725.2L184.9,725.4M182.7,728.9L184.9,728.9M182.7,732.4L184.9,732.7M182.7,736.1L184.9,736.1M182.7,739.7L184.9,739.7M182.7,743.3L184.9,743.4M182.7,746.8L184.9,747.0M182.6,751.4L185.0,748.7M182.7,755.0L184.9,752.2M182.7,758.6L184.9,755.8M182.7,762.3L184.7,759.3M182.8,766.0L184.5,762.8M182.7,769.5L184.8,766.5M182.8,773.2L184.6,770.0M182.6,776.6L185.0,773.9M182.7,780.3L184.7,777.3M182.7,783.9L184.8,781.0M182.6,787.4L184.9,784.6M182.8,791.1L184.6,788.0M182.6,794.6L185.0,791.9M182.8,798.3L184.7,795.3M182.8,802.0L184.5,798.8M182.7,805.5L184.8,802.6M182.7,809.1L184.7,806.1M186.3,714.5L188.5,714.5M186.3,718.1L188.5,718.2M186.3,721.7L188.5,721.7M186.3,725.3L188.5,725.2M186.3,728.9L188.5,728.9M186.3,732.5L188.5,732.5M186.3,736.2L188.5,736.0M186.3,739.6L188.5,739.8M186.3,743.2L188.5,743.5M186.3,747.0L188.5,746.8M186.4,751.5L188.2,748.4M186.2,755.0L188.5,752.3M186.3,758.6L188.5,755.8M186.4,762.3L188.2,759.2M186.3,765.9L188.4,763.0M186.4,769.5L188.2,766.4M186.2,773.0L188.6,770.3M186.3,776.7L188.4,773.8M186.3,780.3L188.4,777.3M186.4,783.9L188.2,780.8M186.3,787.5L188.3,784.5M186.3,791.1L188.4,788.1M186.4,794.7L188.3,791.7M186.4,798.3L188.2,795.2M186.4,801.9L188.2,798.8M186.3,805.4L188.5,802.6M186.2,809.0L188.6,806.3M189.9,714.6L192.1,714.3M189.9,718.0L192.1,718.3M189.9,721.8L192.1,721.6M189.9,725.2L192.1,725.4M189.9,728.8L192.1,729.1M189.9,732.5L192.1,732.5M189.9,736.0L192.1,736.3M189.9,739.8L192.1,739.5M189.9,743.4L192.1,743.2M189.9,746.9L192.1,746.9M190.0,751.6L191.7,748.4M189.8,755.0L192.1,752.3M189.9,758.7L192.0,755.7M189.8,762.2L192.1,759.5M190.0,765.9L191.9,762.9M190.0,769.6L191.7,766.4M189.8,773.0L192.2,770.3M190.0,776.7L191.8,773.6M189.9,780.3L191.9,777.3M190.0,783.9L191.8,780.8M189.9,787.5L192.0,784.6M189.9,791.1L192.0,788.1M190.0,794.7L191.8,791.6M190.0,798.4L191.7,795.2M190.0,801.9L191.9,798.9M189.8,805.4L192.1,802.6M193.5,718.1L195.7,718.2M193.5,721.8L195.7,721.6M193.5,725.3L195.7,725.3M193.5,729.0L195.7,728.7M193.5,732.6L195.7,732.3M193.5,736.1L195.7,736.2M193.5,739.7L195.7,739.8M193.5,743.2L195.7,743.5M193.5,746.8L195.7,747.0M193.6,751.5L195.4,748.4M193.4,755.0L195.7,752.2M193.4,758.6L195.8,755.9M193.5,762.2L195.7,759.4M193.5,765.9L195.6,762.9M193.6,769.5L195.5,766.5M193.6,773.2L195.3,770.0M193.5,776.7L195.6,773.8M193.4,780.2L195.8,777.5M193.6,784.0L195.4,780.8M193.4,787.4L195.7,784.7M193.4,791.0L195.8,788.3M193.6,794.7L195.5,791.7M193.4,798.2L195.8,795.5M193.6,801.9L195.4,798.8M197.1,725.3L199.3,725.2M197.1,729.0L199.3,728.8M197.1,732.4L199.3,732.7M197.1,736.1L199.3,736.2M197.1,739.8L199.3,739.5M197.1,743.3L199.3,743.4M197.1,746.9L199.3,746.8M197.1,751.5L199.1,748.5M197.0,755.0L199.3,752.2M197.2,758.7L199.0,755.6M197.2,762.3L199.0,759.2M197.1,765.9L199.2,762.9M197.0,769.4L199.4,766.7M197.2,773.2L198.9,770.0M197.0,776.6L199.4,773.9M197.1,780.2L199.3,777.4M197.2,783.9L199.0,780.8M197.1,787.5L199.3,784.6M197.1,791.1L199.2,788.2M197.1,794.6L199.3,791.8M200.7,729.0L202.9,728.8M200.7,732.6L202.9,732.3M200.7,736.0L202.9,736.3M200.7,739.6L202.9,739.9M200.7,743.2L202.9,743.4M200.7,747.0L202.9,746.8M200.8,751.5L202.6,748.4M200.8,755.2L202.6,752.0M200.8,758.7L202.7,755.7M200.7,762.3L202.7,759.3M200.9,766.0L202.5,762.8M200.7,769.5L202.7,766.5M200.7,773.0L202.9,770.2M200.6,776.6L203.0,773.9M200.8,780.3L202.6,777.2M200.9,784.0L202.5,780.8M200.6,787.4L202.9,784.7" stroke="#111" stroke-width="1.2" stroke-linecap="round" fill="none"/>
<path d="M181.3,784.2 L190.1,771.6 L192.3,773.1 L193.4,764.1 L185.3,768.2 L187.5,769.7 L178.7,782.4 Z" fill="#111" stroke="#f0a050" stroke-width="3.2" stroke-linejoin="round" paint-order="stroke"/>
<rect x="236.4" y="674" width="80.6" height="155.0" fill="#f9f9f9"/>
<clipPath id="emb3"><path d="M312.0,752.8 L311.9,762.3 L311.8,768.6 L311.5,774.1 L311.2,779.1 L310.7,783.7 L310.2,788.0 L309.5,792.0 L308.8,795.7 L307.9,799.2 L307.0,802.5 L305.9,805.6 L304.8,808.5 L303.5,811.1 L302.2,813.6 L300.7,815.8 L299.2,817.8 L297.5,819.6 L295.8,821.2 L293.9,822.6 L291.9,823.8 L289.7,824.8 L287.4,825.5 L284.8,826.1 L281.9,826.4 L277.4,826.5 L272.9,826.4 L270.0,826.1 L267.4,825.5 L265.1,824.8 L262.9,823.8 L260.9,822.6 L259.0,821.2 L257.3,819.6 L255.6,817.8 L254.1,815.8 L252.6,813.6 L251.3,811.1 L250.0,808.5 L248.9,805.6 L247.8,802.5 L246.9,799.2 L246.0,795.7 L245.3,792.0 L244.6,788.0 L244.1,783.7 L243.6,779.1 L243.3,774.1 L243.0,768.6 L242.9,762.3 L242.8,752.8 L242.9,743.3 L243.0,737.0 L243.3,731.5 L243.6,726.5 L244.1,721.9 L244.6,717.6 L245.3,713.6 L246.0,709.9 L246.9,706.4 L247.8,703.1 L248.9,700.0 L250.0,697.1 L251.3,694.5 L252.6,692.0 L254.1,689.8 L255.6,687.8 L257.3,686.0 L259.0,684.4 L260.9,683.0 L262.9,681.8 L265.1,680.8 L267.4,680.1 L270.0,679.5 L272.9,679.2 L277.4,679.1 L281.9,679.2 L284.8,679.5 L287.4,680.1 L289.7,680.8 L291.9,681.8 L293.9,683.0 L295.8,684.4 L297.5,686.0 L299.2,687.8 L300.7,689.8 L302.2,692.0 L303.5,694.5 L304.8,697.1 L305.9,700.0 L307.0,703.1 L307.9,706.4 L308.8,709.9 L309.5,713.6 L310.2,717.6 L310.7,721.9 L311.2,726.5 L311.5,731.5 L311.8,737.0 L311.9,743.3 Z"/></clipPath>
<path d="M312.0,752.8 L311.9,762.3 L311.8,768.6 L311.5,774.1 L311.2,779.1 L310.7,783.7 L310.2,788.0 L309.5,792.0 L308.8,795.7 L307.9,799.2 L307.0,802.5 L305.9,805.6 L304.8,808.5 L303.5,811.1 L302.2,813.6 L300.7,815.8 L299.2,817.8 L297.5,819.6 L295.8,821.2 L293.9,822.6 L291.9,823.8 L289.7,824.8 L287.4,825.5 L284.8,826.1 L281.9,826.4 L277.4,826.5 L272.9,826.4 L270.0,826.1 L267.4,825.5 L265.1,824.8 L262.9,823.8 L260.9,822.6 L259.0,821.2 L257.3,819.6 L255.6,817.8 L254.1,815.8 L252.6,813.6 L251.3,811.1 L250.0,808.5 L248.9,805.6 L247.8,802.5 L246.9,799.2 L246.0,795.7 L245.3,792.0 L244.6,788.0 L244.1,783.7 L243.6,779.1 L243.3,774.1 L243.0,768.6 L242.9,762.3 L242.8,752.8 L242.9,743.3 L243.0,737.0 L243.3,731.5 L243.6,726.5 L244.1,721.9 L244.6,717.6 L245.3,713.6 L246.0,709.9 L246.9,706.4 L247.8,703.1 L248.9,700.0 L250.0,697.1 L251.3,694.5 L252.6,692.0 L254.1,689.8 L255.6,687.8 L257.3,686.0 L259.0,684.4 L260.9,683.0 L262.9,681.8 L265.1,680.8 L267.4,680.1 L270.0,679.5 L272.9,679.2 L277.4,679.1 L281.9,679.2 L284.8,679.5 L287.4,680.1 L289.7,680.8 L291.9,681.8 L293.9,683.0 L295.8,684.4 L297.5,686.0 L299.2,687.8 L300.7,689.8 L302.2,692.0 L303.5,694.5 L304.8,697.1 L305.9,700.0 L307.0,703.1 L307.9,706.4 L308.8,709.9 L309.5,713.6 L310.2,717.6 L310.7,721.9 L311.2,726.5 L311.5,731.5 L311.8,737.0 L311.9,743.3 Z" fill="#f3f3f3"/>
<g clip-path="url(#emb3)">
<path d="M312.0,752.8 L311.9,762.3 L311.8,768.6 L311.5,774.1 L311.2,779.1 L310.7,783.7 L310.2,788.0 L309.5,792.0 L308.8,795.7 L307.9,799.2 L307.0,802.5 L305.9,805.6 L304.8,808.5 L303.5,811.1 L302.2,813.6 L300.7,815.8 L299.2,817.8 L297.5,819.6 L295.8,821.2 L293.9,822.6 L291.9,823.8 L289.7,824.8 L287.4,825.5 L284.8,826.1 L281.9,826.4 L277.4,826.5 L272.9,826.4 L270.0,826.1 L267.4,825.5 L265.1,824.8 L262.9,823.8 L260.9,822.6 L259.0,821.2 L257.3,819.6 L255.6,817.8 L254.1,815.8 L252.6,813.6 L251.3,811.1 L250.0,808.5 L248.9,805.6 L247.8,802.5 L246.9,799.2 L246.0,795.7 L245.3,792.0 L244.6,788.0 L244.1,783.7 L243.6,779.1 L243.3,774.1 L243.0,768.6 L242.9,762.3 L242.8,752.8 L242.9,743.3 L243.0,737.0 L243.3,731.5 L243.6,726.5 L244.1,721.9 L244.6,717.6 L245.3,713.6 L246.0,709.9 L246.9,706.4 L247.8,703.1 L248.9,700.0 L250.0,697.1 L251.3,694.5 L252.6,692.0 L254.1,689.8 L255.6,687.8 L257.3,686.0 L259.0,684.4 L260.9,683.0 L262.9,681.8 L265.1,680.8 L267.4,680.1 L270.0,679.5 L272.9,679.2 L277.4,679.1 L281.9,679.2 L284.8,679.5 L287.4,680.1 L289.7,680.8 L291.9,681.8 L293.9,683.0 L295.8,684.4 L297.5,686.0 L299.2,687.8 L300.7,689.8 L302.2,692.0 L303.5,694.5 L304.8,697.1 L305.9,700.0 L307.0,703.1 L307.9,706.4 L308.8,709.9 L309.5,713.6 L310.2,717.6 L310.7,721.9 L311.2,726.5 L311.5,731.5 L311.8,737.0 L311.9,743.3 Z" fill="none" stroke="#555" stroke-opacity="0.22" stroke-width="9" filter="url(#bl3)"/>
<ellipse cx="262.9" cy="758.3" rx="4.5" ry="6.6" fill="#555" fill-opacity="0.19" filter="url(#bl2)"/>
<ellipse cx="253.3" cy="691.8" rx="6.3" ry="4.6" fill="#555" fill-opacity="0.14" filter="url(#bl2)"/>
<ellipse cx="304.8" cy="749.1" rx="6.3" ry="5.9" fill="#555" fill-opacity="0.20" filter="url(#bl2)"/>
<ellipse cx="258.1" cy="769.7" rx="6.5" ry="6.1" fill="#555" fill-opacity="0.21" filter="url(#bl2)"/>
<ellipse cx="286.9" cy="698.2" rx="6.0" ry="6.5" fill="#555" fill-opacity="0.15" filter="url(#bl2)"/>
<ellipse cx="251.4" cy="798.6" rx="4.9" ry="7.3" fill="#555" fill-opacity="0.23" filter="url(#bl2)"/>
<ellipse cx="289.3" cy="805.6" rx="4.6" ry="7.8" fill="#555" fill-opacity="0.17" filter="url(#bl2)"/>
<ellipse cx="301.5" cy="800.3" rx="3.4" ry="3.8" fill="#555" fill-opacity="0.13" filter="url(#bl2)"/>
<ellipse cx="303.2" cy="744.8" rx="5.5" ry="4.8" fill="#555" fill-opacity="0.18" filter="url(#bl2)"/>
<ellipse cx="271.1" cy="734.1" rx="5.3" ry="6.5" fill="#555" fill-opacity="0.24" filter="url(#bl2)"/>
<ellipse cx="287.5" cy="806.5" rx="6.4" ry="8.9" fill="#555" fill-opacity="0.20" filter="url(#bl2)"/>
<ellipse cx="258.7" cy="798.0" rx="6.9" ry="8.4" fill="#555" fill-opacity="0.19" filter="url(#bl2)"/>
<ellipse cx="289.2" cy="716.6" rx="6.3" ry="6.4" fill="#555" fill-opacity="0.14" filter="url(#bl2)"/>
<ellipse cx="253.2" cy="797.1" rx="7.0" ry="3.5" fill="#555" fill-opacity="0.22" filter="url(#bl2)"/>
<ellipse cx="272.4" cy="709.0" rx="4.2" ry="7.6" fill="#555" fill-opacity="0.23" filter="url(#bl2)"/>
<ellipse cx="252.2" cy="767.1" rx="3.2" ry="7.3" fill="#555" fill-opacity="0.15" filter="url(#bl2)"/>
<ellipse cx="298.5" cy="813.0" rx="5.0" ry="9.0" fill="#555" fill-opacity="0.15" filter="url(#bl2)"/>
<ellipse cx="254.0" cy="765.3" rx="3.1" ry="4.2" fill="#555" fill-opacity="0.16" filter="url(#bl2)"/>
<ellipse cx="283.5" cy="709.7" rx="3.2" ry="8.2" fill="#555" fill-opacity="0.15" filter="url(#bl2)"/>
<ellipse cx="302.8" cy="802.5" rx="4.5" ry="5.8" fill="#555" fill-opacity="0.18" filter="url(#bl2)"/>
<ellipse cx="285.4" cy="764.8" rx="5.2" ry="6.7" fill="#555" fill-opacity="0.24" filter="url(#bl2)"/>
<ellipse cx="277.8" cy="744.2" rx="5.9" ry="4.4" fill="#555" fill-opacity="0.15" filter="url(#bl2)"/>
<ellipse cx="271" cy="695" rx="10" ry="6" fill="#000" fill-opacity="0.85" filter="url(#bl2)"/>
<ellipse cx="259" cy="704" rx="8" ry="3" fill="#000" fill-opacity="0.6" filter="url(#bl2)"/>
<ellipse cx="277" cy="824" rx="8" ry="3" fill="#000" fill-opacity="0.9" filter="url(#bl2)"/>
</g>
<path d="M264.3,760.3 L278.4,757.7 L281.0,766.7 L297.7,768.0 L300.2,775.7 L301.5,804.0 L304.1,805.2 L304.1,811.7 L293.8,811.7 L287.4,807.8 L281.0,805.2 L274.5,802.7 L270.7,798.8 L269.4,786.0 L261.7,783.4 L261.7,769.3 L264.3,768.0 Z" fill="#d39cad" fill-opacity="0.9"/>
<path d="M258.6,793.7 L263.0,793.7 L263.0,804.0 L258.6,804.0 Z" fill="#d39cad" fill-opacity="0.9"/>
<path d="M244.1,727.8L245.6,727.6M245.1,731.4L243.6,731.2M245.1,735.0L243.6,734.6M244.1,738.5L245.6,738.6M245.0,741.8L243.7,742.6M245.0,745.9L243.7,745.2M244.1,749.2L245.6,749.4M245.0,753.2L243.9,752.2M244.9,756.9L243.9,755.8M244.1,759.9L245.5,760.5M244.9,764.1L243.9,763.0M245.1,767.2L243.6,767.5M244.8,771.4L244.2,770.0M244.9,774.1L244.0,775.3M244.7,778.6L244.3,777.1M248.2,706.6L248.1,705.1M247.7,709.6L249.2,709.8M247.7,713.1L249.1,713.7M248.4,717.3L247.8,716.0M247.7,720.6L249.2,720.3M248.2,723.6L248.2,725.1M248.7,727.6L247.2,728.0M248.6,731.6L247.4,730.8M248.4,734.4L247.8,735.8M248.5,738.1L247.5,739.3M248.4,741.6L247.8,743.0M248.5,745.3L247.5,746.4M248.6,749.6L247.4,748.7M248.4,752.4L247.9,753.9M248.6,756.2L247.5,757.2M248.1,760.6L248.3,759.1M247.7,763.6L249.2,763.9M248.7,767.5L247.3,766.9M248.2,771.4L248.1,769.9M248.4,774.0L247.8,775.4M248.1,777.6L248.4,779.1M248.0,782.2L248.5,780.8M248.2,784.8L248.3,786.3M248.0,788.4L248.6,789.8M248.7,792.3L247.3,792.9M248.4,796.6L247.9,795.2M247.8,799.4L249.0,800.3M252.3,698.7L250.8,699.2M251.7,702.0L252.0,703.5M251.4,705.8L252.5,706.8M252.3,709.8L250.8,709.5M251.6,712.8L252.2,714.2M251.6,717.4L252.1,716.0M251.5,720.9L252.3,719.7M251.6,723.6L252.2,725.0M251.9,727.2L251.6,728.7M251.6,731.8L252.2,730.4M252.1,735.3L251.2,734.1M251.6,739.0L252.1,737.6M252.1,741.7L251.2,742.9M251.5,745.3L252.5,746.4M251.9,748.8L251.5,750.3M251.7,753.4L252.1,751.9M251.9,756.0L251.7,757.5M252.1,759.7L251.2,760.9M252.2,763.5L250.9,764.2M252.2,767.1L250.9,767.8M252.2,770.6L251.0,771.4M251.4,774.7L252.7,774.0M251.5,777.7L252.4,778.9M251.3,781.7L252.8,781.7M251.3,785.5L252.7,785.0M251.4,789.2L252.5,788.2M251.3,792.5L252.8,792.4M252.3,795.9L250.9,796.5M251.3,799.9L252.8,799.4M251.4,803.5L252.7,802.9M251.7,806.4L252.0,807.9M255.9,691.8L254.4,691.6M255.5,694.8L255.2,696.3M255.7,698.5L254.9,699.7M255.3,702.0L255.5,703.5M254.9,705.9L256.3,706.5M255.8,710.0L254.6,709.2M255.5,712.8L255.2,714.3M255.2,717.4L255.8,716.0M254.9,720.4L256.4,720.8M255.0,724.4L256.2,723.5M255.6,728.2L255.1,726.8M255.0,731.5L256.3,730.8M255.0,735.2L256.2,734.3M255.0,738.8L256.2,737.9M255.8,742.3L254.5,741.6M254.9,745.7L256.4,745.8M255.4,749.8L255.4,748.3M255.2,752.5L255.9,753.8M255.6,756.0L255.1,757.5M255.7,760.5L254.9,759.2M255.9,763.8L254.4,763.5M255.8,767.0L254.5,767.8M254.9,771.1L256.3,770.5M255.8,774.8L254.6,773.9M255.7,777.7L254.9,778.9M255.4,781.2L255.4,782.7M255.1,785.7L256.0,784.5M255.9,788.8L254.4,789.0M255.3,793.0L255.6,791.5M255.7,795.7L254.8,796.9M255.2,799.2L255.7,800.6M255.9,803.4L254.4,803.1M255.2,807.4L255.8,806.0M255.2,810.1L255.9,811.4M255.3,814.6L255.7,813.1M258.5,691.7L260.0,691.7M259.3,695.7L258.3,694.6M258.7,699.3L259.6,698.1M258.5,702.3L260.0,702.8M259.1,705.6L258.9,707.1M259.1,709.2L258.9,710.7M259.5,713.4L258.0,713.1M259.4,716.7L258.1,717.4M259.5,720.4L258.0,720.7M258.9,724.6L259.2,723.1M258.5,727.7L260.0,727.7M258.5,731.1L259.9,731.6M258.7,734.5L259.7,735.6M258.6,738.1L259.7,739.2M258.5,741.9L259.9,742.5M258.5,745.8L260.0,745.5M258.7,749.7L259.6,748.5M258.6,752.6L259.9,753.4M259.5,756.5L258.0,756.5M259.2,759.6L258.6,761.0M259.2,763.2L258.6,764.6M259.3,766.9L258.4,768.1M259.3,771.3L258.4,770.1M259.4,774.8L258.1,774.0M259.3,777.7L258.4,778.9M258.8,781.2L259.4,782.6M259.2,784.9L258.5,786.2M258.6,788.5L259.7,789.6M259.5,792.7L258.1,792.2M259.1,796.6L258.8,795.1M259.4,799.4L258.3,800.4M258.6,803.1L259.9,803.8M258.8,806.4L259.4,807.8M259.3,810.1L258.3,811.2M259.4,814.4L258.2,813.5M258.9,818.2L259.2,816.7M262.8,760.5L262.1,759.2M262.7,764.2L262.5,762.7M263.1,767.5L261.7,766.9M262.5,785.8L262.8,784.3M262.1,788.8L263.6,789.2M262.2,792.2L263.4,793.0M262.2,795.8L263.4,796.7M262.2,800.0L263.3,799.0M262.4,802.8L263.0,804.2M262.1,806.8L263.6,807.0M262.3,810.9L263.1,809.7M262.2,813.8L263.3,814.8M262.3,818.1L263.2,816.9M262.8,821.7L262.1,820.4M266.2,785.8L266.2,784.3M265.9,788.5L266.7,789.7M266.4,793.0L265.8,791.6M266.2,796.6L266.2,795.1M266.4,800.1L265.7,798.8M266.7,803.4L265.2,803.2M266.7,806.8L265.2,807.0M266.5,810.9L265.6,809.7M265.8,814.4L267.0,813.5M265.9,817.3L266.8,818.5M265.8,821.0L267.0,821.9M270.3,792.4L268.8,792.7M269.5,796.5L270.3,795.2M269.6,800.2L270.2,798.8M270.3,803.5L268.9,802.9M270.3,806.8L268.8,807.0M269.9,811.0L269.6,809.5M269.5,814.5L270.4,813.3M270.2,817.4L269.0,818.3M269.9,821.8L269.7,820.3M269.3,825.0L270.8,824.7M273.5,741.6L273.1,743.1M273.8,802.9L272.7,804.0M273.3,807.4L273.5,805.9M273.4,811.0L273.4,809.5M273.5,813.6L273.1,815.1M273.6,818.1L273.0,816.8M273.7,821.7L272.8,820.5M273.2,825.4L273.7,824.0M277.5,753.0L276.0,752.6M277.3,756.1L276.4,757.3M276.7,807.3L277.6,806.1M276.6,810.2L277.8,811.1M277.1,813.6L276.9,815.1M276.6,817.4L277.8,818.3M276.6,821.0L277.8,822.0M276.9,825.4L277.2,823.9M280.1,717.1L281.5,716.6M280.8,728.2L280.2,726.8M280.1,738.5L281.6,738.5M280.9,742.5L280.1,741.2M280.2,764.0L281.4,763.1M280.8,807.4L280.3,806.0M280.3,810.1L281.3,811.2M280.3,814.5L281.2,813.3M281.0,818.0L279.8,817.1M280.2,821.5L281.5,820.9M280.7,825.4L280.4,823.9M284.4,705.6L283.9,707.0M284.3,717.4L284.0,715.9M284.3,807.4L284.1,805.9M284.3,810.0L284.0,811.5M284.1,814.6L284.4,813.1M284.7,817.6L283.2,817.9M283.7,821.5L285.1,820.9M284.4,824.4L283.9,825.8M287.4,702.8L288.6,701.9M287.3,713.5L288.7,712.9M287.3,720.7L288.7,720.2M287.4,727.4L288.6,728.4M287.3,735.1L288.7,734.5M287.5,742.5L288.3,741.2M287.4,810.8L288.5,809.8M287.5,814.5L288.5,813.4M288.3,817.5L286.8,818.0M287.4,821.6L288.6,820.7M291.4,698.4L291.5,699.9M291.8,706.4L290.5,705.6M291.3,712.8L291.6,714.3M291.8,720.8L290.6,719.9M291.9,724.2L290.4,723.9M291.2,738.0L291.7,739.4M291.0,741.8L292.3,742.6M291.8,749.6L290.7,748.6M291.7,756.1L290.8,757.3M291.7,810.9L290.8,809.7M291.8,814.4L290.6,813.5M291.3,817.2L291.6,818.7M291.7,820.9L290.8,822.1M295.4,692.0L294.2,691.1M295.5,695.4L294.0,695.1M294.5,702.7L296.0,702.2M295.1,712.8L294.7,714.3M294.8,716.4L295.4,717.8M294.5,727.6L296.0,728.0M295.1,730.8L294.8,732.3M295.0,739.0L295.0,737.5M295.2,753.4L294.7,751.9M294.5,756.6L296.0,756.4M295.3,759.7L294.3,760.8M295.5,814.2L294.0,813.9M295.5,817.8L294.0,817.5M298.1,691.8L299.6,691.6M299.0,713.1L297.7,713.8M298.2,724.4L299.5,723.6M298.6,727.2L298.6,728.7M299.1,734.9L297.6,734.8M299.1,738.7L297.7,738.2M298.2,749.6L299.4,748.7M298.4,757.0L299.0,755.6M298.3,814.5L299.2,813.3M301.8,705.8L303.0,706.7M302.5,709.3L301.5,710.4M302.5,717.3L301.6,716.1M302.4,727.2L301.8,728.6M302.4,734.4L301.8,735.8M301.8,745.5L303.1,746.2M301.9,756.9L302.7,755.6M301.7,767.1L303.1,767.7M301.9,781.3L302.8,782.5M301.8,785.6L303.0,784.7M302.0,788.5L302.6,789.8M301.7,792.5L303.2,792.5M302.4,796.5L301.7,795.2M302.5,800.1L301.6,798.9M301.9,802.9L302.8,804.1M305.4,710.1L306.5,709.0M305.9,723.6L305.6,725.1M305.4,734.7L306.7,735.4M305.3,742.2L306.8,742.0M306.3,749.3L304.8,749.4M306.0,752.4L305.4,753.8M305.7,760.6L306.0,759.1M305.5,778.5L306.4,777.3M305.5,785.7L306.3,784.5M305.6,788.5L306.3,789.8M305.8,792.0L305.7,793.5M305.7,795.6L306.1,797.1M305.3,799.5L306.7,800.0M309.8,720.2L308.6,721.0M309.0,723.8L310.2,724.8M308.9,731.3L310.4,731.2M309.9,735.0L308.4,734.7M309.0,738.2L310.2,739.0M308.9,760.3L310.3,759.7M309.1,764.1L309.9,762.8M309.9,785.2L308.4,785.6" stroke="#111" stroke-width="1.0" stroke-linecap="round" fill="none"/>
<path d="M248.5,681.7L258.4,679.3M247.6,689.1L260.1,686.2M259.5,679.5L268.7,683.6M259.3,684.5L269.3,684.5M269.8,685.9L280.6,681.7M273.4,679.6L284.2,683.6M280.9,688.1L269.1,688.2M277.0,686.2L287.8,681.1M280.4,682.7L291.9,688.0M281.7,687.1L289.3,690.0M284.2,682.1L294.9,678.5M284.1,686.9L295.3,679.7M294.6,683.9L284.9,685.7M297.9,684.2L289.2,685.1M291.5,685.7L302.0,692.9M301.9,678.5L292.1,685.6" stroke="#111" stroke-width="0.7" stroke-linecap="round" fill="none"/>
<path d="M262.7,691.1L262.4,693.0M262.7,694.7L262.5,696.6M262.7,698.3L262.4,700.2M262.8,701.9L262.3,703.8M262.6,705.5L262.6,707.4M262.7,709.1L262.4,711.0M262.7,712.7L262.4,714.6M262.8,716.3L262.2,718.1M262.8,719.9L262.2,721.7M262.7,723.5L262.4,725.4M262.8,727.1L262.2,728.9M262.8,730.7L262.2,732.6M262.7,734.3L262.5,736.2M262.7,737.9L262.4,739.8M262.6,741.5L262.5,743.4M262.8,745.1L262.2,746.9M262.7,748.7L262.3,750.6M262.8,752.3L262.2,754.1M262.8,755.9L262.2,757.8M262.5,768.7L262.8,775.4M262.7,772.3L262.4,779.0M262.5,775.9L262.8,782.6M262.5,779.5L262.7,786.2M266.4,691.1L265.8,692.9M266.2,694.7L266.2,696.6M266.4,698.3L265.9,700.2M266.3,701.9L266.0,703.8M266.4,705.5L265.9,707.4M266.2,709.1L266.2,711.0M266.4,712.7L265.9,714.6M266.4,716.3L265.8,718.1M266.2,719.9L266.2,721.8M266.3,723.5L266.1,725.4M266.3,727.1L265.9,729.0M266.4,730.7L265.8,732.5M266.3,734.3L266.1,736.2M266.2,737.9L266.1,739.8M266.3,741.5L266.1,743.4M266.3,745.1L265.9,747.0M266.4,748.7L265.9,750.6M266.3,752.3L266.0,754.2M266.3,755.9L266.0,757.8M266.2,757.9L266.1,764.6M266.2,761.5L266.2,768.2M266.2,765.1L266.1,771.8M266.1,768.7L266.4,775.4M266.3,772.3L266.0,779.0M266.5,775.9L265.7,782.6M266.2,779.5L266.1,786.2M269.9,691.1L269.6,693.0M270.0,694.7L269.5,696.6M269.8,698.3L269.7,700.2M269.9,701.9L269.7,703.8M269.8,705.5L269.7,707.4M269.9,709.1L269.5,711.0M269.9,712.7L269.7,714.6M269.9,716.3L269.7,718.2M270.0,719.9L269.5,721.8M270.0,723.5L269.4,725.3M269.9,727.1L269.7,729.0M270.0,730.7L269.5,732.6M269.9,734.3L269.6,736.2M270.0,737.9L269.4,739.7M269.9,741.5L269.5,743.4M269.9,745.1L269.7,747.0M269.8,748.7L269.7,750.6M269.8,752.3L269.8,754.2M269.9,755.9L269.6,757.8M269.8,757.9L269.7,764.6M269.7,761.5L269.9,768.2M269.8,765.1L269.8,771.8M269.8,768.7L269.8,775.4M270.0,772.3L269.4,779.0M269.7,775.9L269.9,782.6M270.1,779.5L269.3,786.2M269.9,783.1L269.7,789.8M269.9,786.7L269.6,793.4M273.6,691.1L273.0,692.9M273.5,694.7L273.3,696.6M273.4,698.3L273.3,700.2M273.5,701.9L273.3,703.8M273.4,705.5L273.3,707.4M273.6,709.1L273.1,711.0M273.6,712.7L273.0,714.5M273.6,716.3L273.0,718.1M273.5,719.9L273.3,721.8M273.6,723.5L273.0,725.3M273.5,727.1L273.3,729.0M273.5,730.7L273.2,732.6M273.6,734.3L273.1,736.2M273.5,757.9L273.2,764.6M273.7,761.5L272.9,768.2M273.4,765.1L273.3,771.8M273.5,768.7L273.2,775.4M273.3,772.3L273.5,779.0M273.4,775.9L273.4,782.6M273.5,779.5L273.1,786.2M273.3,783.1L273.5,789.8M273.6,786.7L272.9,793.4M273.6,790.3L272.9,797.0M273.3,793.9L273.6,800.6M273.7,797.5L272.9,804.2M277.2,691.1L276.7,693.0M277.1,694.7L276.7,696.6M277.0,698.3L276.9,700.2M277.1,701.9L276.7,703.8M277.1,705.5L276.7,707.4M277.0,709.1L276.9,711.0M277.2,712.7L276.6,714.5M277.1,716.3L276.7,718.2M277.0,719.9L276.9,721.8M277.2,723.5L276.6,725.3M277.0,727.1L276.9,729.0M277.1,730.7L276.8,732.6M277.2,734.3L276.7,736.2M277.0,757.9L277.0,764.6M277.0,761.5L276.9,768.2M277.2,765.1L276.6,771.8M276.9,768.7L277.2,775.4M277.1,772.3L276.8,779.0M277.0,775.9L277.0,782.6M277.2,779.5L276.6,786.2M277.0,783.1L277.0,789.8M277.0,786.7L277.0,793.4M277.0,790.3L276.9,797.0M277.1,793.9L276.8,800.6M277.2,797.5L276.6,804.2M277.0,801.1L277.0,807.8M280.8,691.1L280.3,693.0M280.7,694.7L280.3,696.6M280.5,765.1L280.7,771.8M280.8,768.7L280.2,775.4M280.7,772.3L280.3,779.0M280.5,775.9L280.8,782.6M280.6,779.5L280.6,786.2M280.6,783.1L280.7,789.8M280.5,786.7L280.8,793.4M280.7,790.3L280.4,797.0M280.8,793.9L280.1,800.6M280.6,797.5L280.6,804.2M280.8,801.1L280.2,807.8M284.2,765.1L284.1,771.8M284.1,768.7L284.4,775.4M284.5,772.3L283.7,779.0M284.2,775.9L284.3,782.6M284.1,779.5L284.4,786.2M284.3,783.1L284.1,789.8M284.1,786.7L284.3,793.4M284.3,790.3L283.9,797.0M284.2,793.9L284.2,800.6M284.1,797.5L284.3,804.2M284.1,801.1L284.4,807.8M287.8,765.1L287.7,771.8M287.9,768.7L287.7,775.4M287.7,772.3L287.9,779.0M288.0,775.9L287.5,782.6M287.7,779.5L288.0,786.2M287.9,783.1L287.7,789.8M288.0,786.7L287.4,793.4M287.9,790.3L287.5,797.0M287.7,793.9L288.0,800.6M287.8,797.5L287.8,804.2M288.0,801.1L287.4,807.8M287.9,804.7L287.5,811.4M291.4,768.7L291.5,775.4M291.5,772.3L291.2,779.0M291.5,775.9L291.3,782.6M291.6,779.5L291.1,786.2M291.3,783.1L291.6,789.8M291.4,786.7L291.4,793.4M291.5,790.3L291.3,797.0M291.3,793.9L291.6,800.6M291.5,797.5L291.2,804.2M291.6,801.1L291.1,807.8M291.4,804.7L291.3,811.4M295.1,768.7L294.8,775.4M295.0,772.3L295.0,779.0M295.2,775.9L294.6,782.6M295.0,779.5L295.0,786.2M295.1,783.1L294.9,789.8M295.2,786.7L294.5,793.4M295.2,790.3L294.6,797.0M295.0,793.9L295.0,800.6M295.0,797.5L295.0,804.2M295.2,801.1L294.6,807.8M294.9,804.7L295.2,811.4M294.9,808.3L295.1,815.0M298.9,768.7L298.1,775.4M298.7,772.3L298.4,779.0M298.6,775.9L298.5,782.6M298.6,779.5L298.6,786.2M298.7,783.1L298.5,789.8M298.8,786.7L298.2,793.4M298.7,790.3L298.5,797.0M298.9,793.9L298.1,800.6M298.5,797.5L298.7,804.2M298.6,801.1L298.6,807.8M298.7,804.7L298.4,811.4M298.6,808.3L298.5,815.0M302.1,804.7L302.4,811.4M302.4,808.3L301.8,815.0" stroke="#111" stroke-width="0.9" stroke-linecap="round" fill="none"/>
<path d="M273.1,733.5L273.9,748.5M273.7,740.7L272.9,755.7M273.1,744.3L274.1,759.3M273.5,747.9L273.2,762.9M273.3,751.5L273.7,766.5M277.2,733.5L276.5,748.5M277.1,737.1L276.7,752.1M276.8,740.7L277.3,755.7M277.4,744.3L276.2,759.3M283.6,694.3L274.6,708.1M283.8,698.0L274.2,711.4M283.3,701.3L275.3,715.7M284.2,705.5L273.4,718.0M284.2,709.2L273.4,721.6M283.8,716.1L274.1,729.4M284.0,719.7L273.9,732.8M284.3,727.2L273.2,739.4M283.9,730.5L274.0,743.7M280.8,740.7L280.2,755.7M280.5,744.3L280.9,759.3M280.3,747.9L281.2,762.9M280.9,751.5L279.9,766.5M280.8,755.1L280.1,770.1M286.7,686.8L279.3,701.5M286.8,690.5L279.0,705.0M287.7,694.6L277.3,707.5M287.2,697.9L278.1,711.7M287.7,705.5L277.1,718.1M286.8,708.5L278.9,723.0M287.1,715.9L278.3,729.8M287.5,719.7L277.6,732.9M286.5,722.7L279.5,737.7M287.8,727.1L277.0,739.6M287.3,730.4L278.0,744.0M284.1,733.5L284.5,748.5M284.3,737.1L284.1,752.1M283.9,740.7L284.8,755.7M284.0,744.3L284.5,759.3M283.9,747.9L284.8,762.9M284.3,751.5L284.0,766.5M284.6,755.1L283.4,770.1M284.3,758.7L284.1,773.7M290.2,686.7L283.0,701.6M290.4,690.5L282.6,705.0M290.2,694.0L283.0,708.8M291.7,702.2L280.1,713.9M291.4,705.6L280.6,718.0M290.6,712.2L282.1,726.3M290.6,719.4L282.2,733.5M290.7,726.6L282.0,740.7M288.2,733.5L286.9,748.5M288.4,740.7L286.6,755.6M287.9,744.3L287.6,759.3M288.3,747.9L286.9,762.9M287.7,751.5L287.9,766.5M288.2,755.1L287.0,770.1M288.2,758.7L287.0,773.7M294.7,687.3L284.9,700.6M293.9,690.4L286.5,705.1M294.0,697.6L286.2,712.2M294.1,704.9L286.0,719.3M294.4,712.3L285.3,726.1M294.0,722.9L286.1,737.4M295.0,727.2L284.1,739.5M293.8,729.9L286.7,744.8M291.3,740.7L291.6,755.7M291.8,747.9L290.5,762.9M291.5,755.1L291.2,770.1M291.9,758.7L290.4,773.6M291.9,762.3L290.4,777.2M298.8,694.9L287.4,706.8M298.6,701.9L287.9,714.5M298.9,705.8L287.2,717.5M298.5,716.3L288.0,729.0M298.2,719.6L288.6,733.1M297.9,730.2L289.2,744.2M294.8,737.1L295.5,752.1M295.1,740.7L294.8,755.7M294.8,744.3L295.4,759.3M295.0,758.7L295.0,773.7M295.2,762.3L294.6,777.3M301.2,690.5L293.3,704.9M301.6,694.3L292.5,708.1M301.0,697.6L293.8,712.4M301.1,701.2L293.6,715.9M301.3,704.9L293.1,719.2M301.0,712.0L293.8,726.8M302.0,716.1L291.9,729.2M302.1,727.1L291.5,739.7M298.4,737.1L298.9,752.1M298.9,740.7L298.0,755.7M298.9,747.9L297.9,762.9M298.7,755.1L298.4,770.1M298.4,758.7L298.9,773.7M299.0,762.3L297.9,777.3M305.5,690.9L295.7,704.1M305.3,694.4L295.9,707.9M305.7,698.2L295.2,711.0M305.9,709.3L294.7,721.4M306.0,716.5L294.6,728.5M305.2,719.5L296.3,733.4M306.0,727.3L294.6,739.2M302.1,733.5L302.3,748.5M302.1,737.1L302.4,752.1M302.1,744.3L302.5,759.3M302.4,747.9L301.8,762.9M302.7,755.1L301.2,770.0M302.1,758.7L302.3,773.7M302.4,765.9L301.9,780.9M302.4,769.5L301.8,784.5M302.1,773.1L302.4,788.1M308.4,701.3L300.5,715.7M309.6,709.4L298.1,721.2M308.8,712.3L299.9,726.2M308.8,715.9L299.8,729.7M308.4,722.8L300.7,737.4M308.7,726.6L300.0,740.6M306.4,733.5L304.5,748.4M305.8,740.7L305.8,755.7M305.8,751.5L305.8,766.5M305.9,758.7L305.5,773.7M305.9,762.3L305.6,777.3M306.3,765.9L304.8,780.8M306.1,769.5L305.3,784.5M306.5,776.7L304.5,791.6M313.1,723.6L302.0,735.8M309.5,737.1L309.2,752.1M309.7,740.7L308.8,755.7M309.6,744.3L309.0,759.3M309.4,747.9L309.4,762.9M309.7,751.5L308.8,766.5M310.1,762.3L308.1,777.2M309.2,765.9L309.8,780.9M309.8,769.5L308.6,784.5M309.7,773.1L308.7,788.1M310.1,776.7L308.1,791.6" stroke="#111" stroke-width="0.6" stroke-linecap="round" fill="none"/>
<path d="M285.8,785.7 L281.9,809.9 L279.3,809.5 L282.2,818.1 L287.7,810.9 L285.1,810.5 L289.0,786.3 Z" fill="#111" stroke="#f0a050" stroke-width="3.2" stroke-linejoin="round" paint-order="stroke"/>
<rect x="331.3" y="674" width="80.6" height="152.3" fill="#f9f9f9"/>
<clipPath id="emb4"><path d="M406.8,750.2 L406.7,759.8 L406.6,766.3 L406.3,771.9 L406.0,776.9 L405.5,781.6 L405.0,785.9 L404.3,790.0 L403.5,793.8 L402.7,797.4 L401.7,800.7 L400.6,803.9 L399.5,806.8 L398.2,809.5 L396.8,811.9 L395.3,814.2 L393.8,816.3 L392.1,818.1 L390.3,819.8 L388.4,821.2 L386.3,822.4 L384.2,823.3 L381.8,824.1 L379.2,824.7 L376.1,825.0 L371.6,825.1 L367.1,825.0 L364.0,824.7 L361.4,824.1 L359.0,823.3 L356.9,822.4 L354.8,821.2 L352.9,819.8 L351.1,818.1 L349.4,816.3 L347.9,814.2 L346.4,811.9 L345.0,809.5 L343.7,806.8 L342.6,803.9 L341.5,800.7 L340.5,797.4 L339.7,793.8 L338.9,790.0 L338.2,785.9 L337.7,781.6 L337.2,776.9 L336.9,771.9 L336.6,766.3 L336.5,759.8 L336.4,750.2 L336.5,740.6 L336.6,734.1 L336.9,728.5 L337.2,723.5 L337.7,718.8 L338.2,714.5 L338.9,710.4 L339.7,706.6 L340.5,703.0 L341.5,699.7 L342.6,696.5 L343.7,693.6 L345.0,690.9 L346.4,688.5 L347.9,686.2 L349.4,684.1 L351.1,682.3 L352.9,680.6 L354.8,679.2 L356.9,678.0 L359.0,677.1 L361.4,676.3 L364.0,675.7 L367.1,675.4 L371.6,675.3 L376.1,675.4 L379.2,675.7 L381.8,676.3 L384.2,677.1 L386.3,678.0 L388.4,679.2 L390.3,680.6 L392.1,682.3 L393.8,684.1 L395.3,686.2 L396.8,688.5 L398.2,690.9 L399.5,693.6 L400.6,696.5 L401.7,699.7 L402.7,703.0 L403.5,706.6 L404.3,710.4 L405.0,714.5 L405.5,718.8 L406.0,723.5 L406.3,728.5 L406.6,734.1 L406.7,740.6 Z"/></clipPath>
<path d="M406.8,750.2 L406.7,759.8 L406.6,766.3 L406.3,771.9 L406.0,776.9 L405.5,781.6 L405.0,785.9 L404.3,790.0 L403.5,793.8 L402.7,797.4 L401.7,800.7 L400.6,803.9 L399.5,806.8 L398.2,809.5 L396.8,811.9 L395.3,814.2 L393.8,816.3 L392.1,818.1 L390.3,819.8 L388.4,821.2 L386.3,822.4 L384.2,823.3 L381.8,824.1 L379.2,824.7 L376.1,825.0 L371.6,825.1 L367.1,825.0 L364.0,824.7 L361.4,824.1 L359.0,823.3 L356.9,822.4 L354.8,821.2 L352.9,819.8 L351.1,818.1 L349.4,816.3 L347.9,814.2 L346.4,811.9 L345.0,809.5 L343.7,806.8 L342.6,803.9 L341.5,800.7 L340.5,797.4 L339.7,793.8 L338.9,790.0 L338.2,785.9 L337.7,781.6 L337.2,776.9 L336.9,771.9 L336.6,766.3 L336.5,759.8 L336.4,750.2 L336.5,740.6 L336.6,734.1 L336.9,728.5 L337.2,723.5 L337.7,718.8 L338.2,714.5 L338.9,710.4 L339.7,706.6 L340.5,703.0 L341.5,699.7 L342.6,696.5 L343.7,693.6 L345.0,690.9 L346.4,688.5 L347.9,686.2 L349.4,684.1 L351.1,682.3 L352.9,680.6 L354.8,679.2 L356.9,678.0 L359.0,677.1 L361.4,676.3 L364.0,675.7 L367.1,675.4 L371.6,675.3 L376.1,675.4 L379.2,675.7 L381.8,676.3 L384.2,677.1 L386.3,678.0 L388.4,679.2 L390.3,680.6 L392.1,682.3 L393.8,684.1 L395.3,686.2 L396.8,688.5 L398.2,690.9 L399.5,693.6 L400.6,696.5 L401.7,699.7 L402.7,703.0 L403.5,706.6 L404.3,710.4 L405.0,714.5 L405.5,718.8 L406.0,723.5 L406.3,728.5 L406.6,734.1 L406.7,740.6 Z" fill="#f3f3f3"/>
<g clip-path="url(#emb4)">
<path d="M406.8,750.2 L406.7,759.8 L406.6,766.3 L406.3,771.9 L406.0,776.9 L405.5,781.6 L405.0,785.9 L404.3,790.0 L403.5,793.8 L402.7,797.4 L401.7,800.7 L400.6,803.9 L399.5,806.8 L398.2,809.5 L396.8,811.9 L395.3,814.2 L393.8,816.3 L392.1,818.1 L390.3,819.8 L388.4,821.2 L386.3,822.4 L384.2,823.3 L381.8,824.1 L379.2,824.7 L376.1,825.0 L371.6,825.1 L367.1,825.0 L364.0,824.7 L361.4,824.1 L359.0,823.3 L356.9,822.4 L354.8,821.2 L352.9,819.8 L351.1,818.1 L349.4,816.3 L347.9,814.2 L346.4,811.9 L345.0,809.5 L343.7,806.8 L342.6,803.9 L341.5,800.7 L340.5,797.4 L339.7,793.8 L338.9,790.0 L338.2,785.9 L337.7,781.6 L337.2,776.9 L336.9,771.9 L336.6,766.3 L336.5,759.8 L336.4,750.2 L336.5,740.6 L336.6,734.1 L336.9,728.5 L337.2,723.5 L337.7,718.8 L338.2,714.5 L338.9,710.4 L339.7,706.6 L340.5,703.0 L341.5,699.7 L342.6,696.5 L343.7,693.6 L345.0,690.9 L346.4,688.5 L347.9,686.2 L349.4,684.1 L351.1,682.3 L352.9,680.6 L354.8,679.2 L356.9,678.0 L359.0,677.1 L361.4,676.3 L364.0,675.7 L367.1,675.4 L371.6,675.3 L376.1,675.4 L379.2,675.7 L381.8,676.3 L384.2,677.1 L386.3,678.0 L388.4,679.2 L390.3,680.6 L392.1,682.3 L393.8,684.1 L395.3,686.2 L396.8,688.5 L398.2,690.9 L399.5,693.6 L400.6,696.5 L401.7,699.7 L402.7,703.0 L403.5,706.6 L404.3,710.4 L405.0,714.5 L405.5,718.8 L406.0,723.5 L406.3,728.5 L406.6,734.1 L406.7,740.6 Z" fill="none" stroke="#555" stroke-opacity="0.22" stroke-width="9" filter="url(#bl3)"/>
<ellipse cx="356.7" cy="699.7" rx="4.6" ry="3.9" fill="#555" fill-opacity="0.11" filter="url(#bl2)"/>
<ellipse cx="366.1" cy="803.4" rx="6.2" ry="7.6" fill="#555" fill-opacity="0.13" filter="url(#bl2)"/>
<ellipse cx="373.7" cy="721.8" rx="3.7" ry="3.6" fill="#555" fill-opacity="0.13" filter="url(#bl2)"/>
<ellipse cx="395.7" cy="792.1" rx="6.2" ry="7.8" fill="#555" fill-opacity="0.13" filter="url(#bl2)"/>
<ellipse cx="360.9" cy="766.4" rx="5.9" ry="8.1" fill="#555" fill-opacity="0.23" filter="url(#bl2)"/>
<ellipse cx="348.3" cy="763.7" rx="5.7" ry="6.0" fill="#555" fill-opacity="0.13" filter="url(#bl2)"/>
<ellipse cx="370.1" cy="697.9" rx="6.7" ry="8.2" fill="#555" fill-opacity="0.18" filter="url(#bl2)"/>
<ellipse cx="360.3" cy="802.3" rx="5.3" ry="8.3" fill="#555" fill-opacity="0.23" filter="url(#bl2)"/>
<ellipse cx="372.1" cy="739.2" rx="5.4" ry="5.6" fill="#555" fill-opacity="0.12" filter="url(#bl2)"/>
<ellipse cx="360.6" cy="790.0" rx="3.2" ry="3.3" fill="#555" fill-opacity="0.19" filter="url(#bl2)"/>
<ellipse cx="359.2" cy="754.6" rx="4.9" ry="5.1" fill="#555" fill-opacity="0.25" filter="url(#bl2)"/>
<ellipse cx="354.5" cy="739.1" rx="3.8" ry="6.8" fill="#555" fill-opacity="0.14" filter="url(#bl2)"/>
<ellipse cx="363.5" cy="781.6" rx="4.3" ry="6.4" fill="#555" fill-opacity="0.24" filter="url(#bl2)"/>
<ellipse cx="349.1" cy="694.4" rx="3.9" ry="7.6" fill="#555" fill-opacity="0.19" filter="url(#bl2)"/>
<ellipse cx="356.8" cy="728.7" rx="3.7" ry="5.8" fill="#555" fill-opacity="0.11" filter="url(#bl2)"/>
<ellipse cx="382.7" cy="800.6" rx="6.8" ry="7.4" fill="#555" fill-opacity="0.24" filter="url(#bl2)"/>
<ellipse cx="344.5" cy="723.3" rx="6.9" ry="7.7" fill="#555" fill-opacity="0.16" filter="url(#bl2)"/>
<ellipse cx="396.6" cy="765.5" rx="6.3" ry="4.8" fill="#555" fill-opacity="0.13" filter="url(#bl2)"/>
<ellipse cx="368.5" cy="703.9" rx="4.5" ry="8.8" fill="#555" fill-opacity="0.15" filter="url(#bl2)"/>
<ellipse cx="344.0" cy="692.2" rx="3.7" ry="7.7" fill="#555" fill-opacity="0.15" filter="url(#bl2)"/>
<ellipse cx="359.8" cy="698.9" rx="6.9" ry="5.5" fill="#555" fill-opacity="0.13" filter="url(#bl2)"/>
<ellipse cx="346.8" cy="693.6" rx="3.7" ry="7.1" fill="#555" fill-opacity="0.12" filter="url(#bl2)"/>
<ellipse cx="364.7" cy="692.3" rx="10" ry="6" fill="#000" fill-opacity="0.85" filter="url(#bl2)"/>
<ellipse cx="355" cy="700" rx="7" ry="4" fill="#000" fill-opacity="0.6" filter="url(#bl2)"/>
<ellipse cx="371" cy="822" rx="8" ry="3" fill="#000" fill-opacity="0.9" filter="url(#bl2)"/>
</g>
<path d="M374.7,750.0 L395.3,750.0 L400.4,765.4 L399.2,811.7 L379.9,811.7 L369.6,801.4 L352.9,801.4 L351.6,793.7 L369.6,791.1 L376.0,780.8 L374.7,762.8 Z" fill="#a9aad8" fill-opacity="0.55"/>
<path d="M342.5,722.7L329.5,726.3M342.7,727.5L329.2,727.5M342.6,730.0L329.5,733.3M342.5,740.5L329.6,744.6M338.1,741.0L338.3,754.5M338.5,744.6L337.6,758.1M338.0,751.8L338.6,765.3M338.0,755.4L338.7,768.9M338.5,759.0L337.6,772.5M337.8,762.6L338.9,776.1M345.4,705.4L334.6,717.8M346.3,738.2L332.8,738.4M342.1,741.0L341.2,754.5M342.2,744.6L341.1,758.1M341.9,751.8L341.6,765.3M342.1,762.6L341.1,776.1M342.1,766.2L341.2,779.7M342.0,769.8L341.3,783.3M341.9,780.6L341.5,794.1M342.1,784.2L341.2,797.7M349.6,677.8L337.1,675.7M342.0,685.1L352.3,682.6M343.2,686.4L349.8,690.9M340.1,696.5L356.1,692.4M350.1,695.8L336.1,704.5M340.1,704.5L356.0,708.7M340.0,710.3L356.3,708.0M349.9,719.9L336.4,721.1M349.9,723.4L336.5,724.8M349.9,727.2L336.4,728.1M349.5,729.2L337.3,735.0M349.6,733.2L336.9,737.8M345.4,741.0L345.3,754.5M345.7,751.8L344.9,765.3M345.6,755.4L345.0,768.9M345.7,766.2L344.8,779.7M345.7,773.4L344.8,786.9M345.1,780.6L346.0,794.1M345.1,791.4L346.0,804.9M346.2,681.2L354.6,679.7M351.4,687.0L344.2,689.6M343.5,702.4L360.0,702.2M353.2,733.1L340.6,737.8M349.2,741.0L348.5,754.5M348.9,744.6L349.1,758.1M348.8,748.2L349.5,761.7M348.7,762.6L349.7,776.1M348.7,773.4L349.6,786.9M348.8,777.0L349.4,790.5M348.8,787.8L349.3,801.3M349.0,802.2L349.0,815.7M348.7,805.8L349.6,819.3M348.9,809.4L349.3,822.9M350.4,679.2L357.0,672.8M347.5,696.5L362.7,703.0M358.1,702.3L341.6,702.2M348.4,713.0L361.0,702.5M356.9,711.7L344.1,715.9M356.9,718.9L344.1,723.1M356.5,721.7L344.7,728.3M357.1,734.3L343.6,735.4M350.4,766.2L356.9,779.7M350.4,773.4L357.0,786.9M351.0,776.8L355.9,790.9M353.6,686.6L361.4,679.6M361.0,688.7L346.7,697.0M351.6,692.0L365.3,701.2M353.4,710.7L361.7,696.4M360.7,712.5L347.3,714.4M360.5,715.5L347.5,719.1M360.4,718.8L347.7,723.3M360.6,730.2L347.4,732.9M360.5,733.3L347.6,737.4M352.7,749.1L363.2,759.8M354.3,755.3L360.0,769.2M353.2,773.9L362.1,786.0M361.8,679.4L355.9,672.6M362.3,687.0L354.9,679.0M362.9,701.4L353.6,715.0M356.9,704.8L365.6,718.8M364.3,713.1L350.8,713.1M363.9,714.9L351.5,720.3M364.3,727.3L350.8,728.0M363.8,736.3L351.7,742.2M364.2,740.8L351.1,744.0M356.7,752.4L366.0,764.1M357.5,755.5L364.5,768.7M357.6,759.0L364.2,772.5M357.0,763.0L365.4,775.4M357.0,770.2L365.5,782.5M356.6,777.6L366.1,789.2M360.7,680.0L368.8,671.3M366.2,678.4L357.7,685.2M361.5,685.8L367.3,692.1M368.3,697.6L353.6,690.1M367.8,701.9L354.5,692.2M367.7,698.9L354.7,709.1M358.3,708.0L373.6,701.7M358.2,711.2L373.8,706.0M357.5,715.9L375.1,707.4M358.0,724.0L374.1,713.0M358.3,727.9L373.7,716.0M358.6,735.5L373.0,722.3M361.7,740.8L366.9,754.9M360.0,756.3L370.3,767.2M360.8,762.8L368.5,775.7M361.3,766.1L367.5,779.8M360.7,773.7L368.8,786.3M361.0,777.1L368.3,790.2M360.8,784.5L368.7,797.2M369.3,681.6L362.4,689.7M364.1,690.4L372.8,682.9M372.1,697.2L356.9,690.8M371.0,694.9L359.1,706.3M362.1,708.4L376.8,700.9M372.3,711.1L356.5,706.3M361.9,724.4L377.1,712.1M361.4,727.1L378.3,717.4M361.6,731.2L377.7,720.2M361.5,734.6L378.0,724.1M361.7,738.5L377.6,727.2M365.6,740.7L369.8,755.1M364.1,752.2L372.9,764.4M364.1,755.9L372.9,768.0M363.9,759.6L373.3,771.3M365.4,769.6L370.3,783.7M365.7,780.3L369.6,794.8M363.5,785.2L374.1,795.8M373.1,678.2L365.7,675.0M373.8,681.2L364.2,690.6M366.5,686.1L378.7,691.5M365.4,693.2L381.1,688.1M365.3,696.6L381.2,692.0M365.1,698.8L381.6,698.5M375.5,704.9L360.9,697.2M375.9,704.6L359.9,708.5M375.6,707.1L360.7,714.3M365.0,716.4L381.8,706.6M365.1,723.7L381.7,713.5M367.1,749.1L377.5,759.9M368.1,759.2L375.7,772.1M367.3,784.9L377.1,796.3M370.1,684.2L382.3,684.4M379.5,696.5L363.6,692.3M371.0,697.8L380.6,711.3M371.0,710.4L380.6,696.9M369.5,724.8L383.6,711.3M368.6,727.2L385.4,717.3M369.3,742.6L384.0,729.7M371.7,741.2L379.3,754.1M371.9,744.7L378.9,757.9M370.8,759.8L380.9,770.9M371.7,773.6L379.2,786.5M374.4,674.6L384.6,682.1M381.6,681.1L370.3,679.8M380.2,681.6L373.1,689.8M374.4,687.2L384.7,700.1M373.2,692.1L387.0,701.2M372.3,701.8L388.8,703.3M372.7,717.2L387.9,704.9M372.5,720.5L388.3,709.1M372.4,724.0L388.5,713.0M372.1,727.0L389.2,717.7M372.0,737.6L389.4,728.8M372.6,742.2L388.2,730.5M375.8,744.5L381.8,758.3M376.4,747.9L380.5,762.3M374.7,759.6L384.0,771.3M375.0,770.2L383.4,782.6M377.8,681.5L388.6,679.1M384.7,687.9L374.9,687.8M376.3,693.5L391.6,687.4M385.6,691.6L373.0,702.1M375.9,703.0L392.3,700.8M386.5,707.8L371.1,702.0M376.4,720.9L391.4,708.4M376.7,728.4L390.8,714.9M376.3,735.1L391.6,723.1M376.0,738.3L392.2,727.5M376.6,742.7L391.0,729.5M375.5,744.7L393.2,736.4M383.3,675.2L388.4,680.9M381.0,681.4L393.1,679.4M390.2,704.1L374.6,709.5M381.7,713.9L391.6,700.7M380.0,717.3L395.0,704.8M379.6,720.3L395.8,709.5M379.2,723.3L396.5,714.2M379.2,726.9L396.6,718.0M379.8,731.4L395.4,719.6M379.2,737.7L396.5,728.7M379.3,741.3L396.5,732.2M380.0,746.0L395.1,733.7M383.1,692.1L399.5,690.3M394.0,696.1L377.8,693.1M383.3,716.8L399.2,705.6M383.6,720.9L398.6,708.4M383.5,727.9L398.9,716.0M383.3,734.9L399.2,723.5M383.5,738.7L398.8,726.7M383.5,742.3L398.9,730.3M389.7,678.8L397.1,673.8M388.5,683.2L399.7,686.5M397.7,695.2L381.2,694.9M387.3,696.2L402.0,703.8M396.4,698.8L383.7,709.3M396.2,705.7L384.2,717.1M386.6,723.7L403.3,713.5M386.7,727.4L403.2,717.0M387.4,731.9L401.9,718.8M387.6,746.5L401.4,732.7M392.8,685.5L401.8,682.0M398.7,696.2L390.1,682.1M390.5,696.6L406.4,692.1M400.6,705.0L386.2,696.9M392.0,709.9L403.4,698.0M390.5,716.9L406.4,705.6M390.4,720.3L406.6,709.5M390.8,724.5L405.7,711.9M390.2,734.3L407.1,724.6M390.8,738.8L405.9,726.5M403.9,680.6L390.5,680.9M403.1,686.5L392.0,679.9M396.5,689.9L405.2,683.8M404.7,700.1L388.8,695.9M404.4,708.3L389.5,701.1M394.5,721.0L409.1,708.0M394.1,724.1L410.0,712.7M393.8,738.0L410.6,728.1M397.5,720.2L414.0,709.8M397.1,723.1L414.7,714.7M397.1,726.7L414.7,718.2M397.8,738.5L413.5,727.0" stroke="#111" stroke-width="0.6" stroke-linecap="round" fill="none"/>
<path d="M338.7,734.4L337.2,735.3M338.8,738.2L337.0,738.5M338.8,752.7L337.0,752.7M338.8,770.9L337.1,770.2M338.7,774.0L337.2,775.0M342.1,702.8L341.1,701.3M341.8,706.5L341.8,704.7M341.3,713.5L342.8,712.4M342.1,716.2L341.2,717.7M341.6,720.9L342.2,719.2M341.6,724.5L342.3,722.8M342.1,728.0L341.1,726.5M341.9,730.5L341.7,732.3M341.2,734.9L343.0,734.4M342.1,742.4L341.2,740.9M341.2,752.5L342.9,753.1M341.8,760.5L341.8,758.7M341.7,762.9L342.0,764.7M341.4,778.3L342.7,777.1M341.4,781.9L342.7,780.7M342.4,792.2L340.6,792.5M341.2,795.8L343.0,796.1M344.9,702.0L346.4,703.0M344.9,712.9L346.5,713.6M345.2,716.1L345.8,717.8M344.9,738.6L346.4,737.6M344.8,741.9L346.6,741.9M345.5,749.7L345.1,747.9M344.9,752.4L346.5,753.2M345.8,763.9L344.6,762.6M345.9,767.5L344.5,766.3M344.9,774.6L346.4,773.7M345.9,781.9L344.5,780.7M345.8,788.2L344.6,789.6M345.0,791.9L346.2,793.2M345.1,799.0L345.9,800.6M345.8,802.7L344.6,804.0M345.8,806.2L344.7,807.7M348.7,692.0L349.6,690.4M348.8,695.7L349.4,694.0M348.7,698.2L349.7,699.7M349.0,706.5L349.1,704.7M348.6,709.1L349.9,710.3M349.3,713.6L348.5,712.0M349.4,717.1L348.1,715.9M349.2,719.7L348.6,721.4M349.5,723.6L348.0,724.6M348.5,727.9L350.0,726.8M349.2,730.5L348.6,732.2M348.4,738.3L350.2,738.3M349.5,741.5L348.0,742.6M349.2,756.9L348.6,755.2M349.4,759.4L348.2,760.8M349.4,763.9L348.1,762.7M348.4,770.7L350.2,770.6M349.5,774.7L348.0,773.6M348.5,785.5L349.9,784.4M348.6,788.2L349.7,789.7M348.7,795.4L349.6,796.9M349.3,800.0L348.5,798.4M348.4,803.3L350.2,802.8M352.0,691.7L353.7,691.1M352.7,695.7L352.4,693.9M353.2,705.8L351.4,706.0M352.2,717.2L353.4,715.8M352.0,727.4L353.8,727.6M352.3,730.6L353.3,732.1M352.5,737.7L352.7,739.5M353.2,741.8L351.4,742.1M352.4,744.9L353.1,746.6M352.0,749.1L353.8,749.1M352.1,753.0L353.7,752.1M353.0,755.9L351.7,757.1M352.3,760.4L353.2,758.9M352.1,763.1L353.5,764.2M352.1,767.4L353.6,766.5M353.1,774.7L351.6,773.6M352.8,784.5L352.2,786.2M353.0,789.1L351.8,787.9M352.9,791.8L352.0,793.3M352.3,796.4L353.2,794.9M352.1,799.9L353.5,798.7M352.1,803.5L353.5,802.4M352.2,807.1L353.5,805.9M352.9,810.8L351.9,809.3M352.8,814.5L352.2,812.8M353.1,817.9L351.7,816.8M355.8,698.3L357.1,699.5M355.9,702.8L356.8,701.2M356.6,709.9L355.3,708.7M356.2,724.5L356.2,722.7M356.4,726.9L355.8,728.6M356.2,738.9L356.2,737.1M356.4,741.3L355.8,743.0M356.1,746.1L356.5,744.3M356.8,748.9L355.1,749.6M355.7,756.5L357.3,755.8M356.6,763.9L355.4,762.6M356.5,766.6L355.7,768.2M356.2,770.1L356.2,771.9M355.6,774.2L357.4,774.5M355.8,781.1L357.0,782.4M355.7,784.8L357.2,785.7M355.9,788.2L356.8,789.7M355.7,792.0L357.2,793.0M356.1,795.3L356.5,797.1M355.7,799.7L357.3,799.0M356.5,803.6L355.6,802.1M355.7,807.1L357.1,805.9M356.8,810.3L355.0,810.3M355.7,813.5L357.1,814.7M356.5,817.0L355.6,818.5M359.3,691.2L360.9,692.0M359.5,694.6L360.3,696.2M359.2,698.6L361.0,698.9M359.5,701.8L360.3,703.4M359.2,720.5L360.9,719.9M359.2,724.0L361.0,723.7M360.1,731.6L359.2,730.1M359.3,734.3L360.8,735.4M360.2,745.0L359.0,746.4M359.5,749.6L360.4,748.1M359.2,752.6L361.0,753.0M359.2,770.9L360.9,770.3M359.7,777.3L360.1,779.1M359.9,785.7L359.7,783.9M360.4,788.7L358.6,788.7M359.2,792.1L361.0,792.6M360.0,795.3L359.4,797.0M359.9,800.1L359.6,798.3M360.3,802.7L358.9,803.8M359.4,806.2L360.6,807.6M360.2,809.9L358.9,811.1M360.4,813.8L358.6,814.2M360.2,817.0L359.1,818.4M360.4,820.9L358.7,821.5M363.9,691.9L362.4,690.8M363.4,716.1L363.3,717.9M363.2,726.9L363.8,728.6M363.9,735.0L362.4,734.0M363.0,737.8L364.1,739.2M363.9,742.2L362.4,741.2M362.9,748.8L364.4,749.7M363.3,753.3L363.7,751.5M364.0,756.5L362.2,756.0M363.0,763.9L364.2,762.6M362.9,774.7L364.3,773.5M363.1,785.6L364.1,784.1M362.9,792.0L364.5,792.9M363.9,795.6L362.3,796.4M362.9,799.8L364.4,798.9M363.5,802.5L363.1,804.3M363.1,807.2L364.1,805.7M362.8,810.5L364.6,810.0M363.2,814.4L363.9,812.8M363.2,816.9L363.8,818.6M362.9,821.4L364.4,820.5M367.6,691.5L365.8,691.4M367.3,701.8L366.5,703.4M366.7,712.6L367.7,714.1M367.6,716.9L365.8,716.4M367.6,738.5L365.8,738.0M367.5,742.2L365.9,741.4M367.1,749.7L366.8,747.9M367.6,752.5L365.9,753.1M367.2,766.5L366.7,768.3M367.3,771.2L366.4,769.7M367.3,777.4L366.4,779.0M366.7,781.0L367.5,782.6M366.6,792.7L367.8,791.4M366.4,795.9L368.2,795.9M367.3,800.0L366.3,798.5M367.6,803.3L365.9,802.7M366.9,806.1L367.2,807.9M367.0,809.7L367.0,811.5M366.4,814.0L368.2,813.7M367.5,817.1L366.1,818.2M367.0,820.5L367.1,822.3M370.2,717.1L371.5,715.9M371.1,723.5L369.6,724.6M370.1,727.1L371.6,728.2M370.2,731.5L371.5,730.3M370.3,735.2L371.2,733.7M371.2,738.1L369.5,738.8M370.2,742.3L371.5,741.1M371.0,745.9L369.7,744.7M370.7,748.5L370.3,750.3M371.0,756.7L369.8,755.4M370.6,759.3L370.7,761.1M371.0,766.6L369.9,768.0M371.1,770.4L369.6,771.3M370.2,773.9L371.5,775.1M370.0,777.9L371.8,778.0M370.5,782.1L370.7,780.3M370.6,785.7L370.5,783.9M371.0,791.8L369.8,793.2M370.7,795.3L370.5,797.1M370.7,800.1L370.4,798.3M371.2,803.3L369.5,802.6M370.9,807.2L370.0,805.7M370.0,810.4L371.8,810.1M370.5,814.5L370.8,812.7M370.4,818.1L370.9,816.3M370.0,821.2L371.8,820.9M374.5,692.0L373.6,690.5M373.9,698.2L374.7,699.8M373.9,709.0L374.9,710.5M373.9,713.6L374.8,712.1M374.3,716.1L374.0,717.9M374.1,726.9L374.4,728.7M373.6,730.9L375.3,731.6M373.9,734.2L374.8,735.8M374.1,741.3L374.4,743.1M374.4,753.3L373.9,751.5M374.5,755.8L373.6,757.3M373.8,759.5L375.1,760.7M374.5,766.6L373.6,768.1M373.8,771.1L375.1,769.9M374.0,773.7L374.5,775.5M373.7,781.2L375.3,782.0M374.6,785.6L373.4,784.2M373.9,789.2L374.9,787.7M374.3,792.9L374.0,791.1M373.9,796.4L374.7,794.8M374.4,800.1L373.9,798.4M374.7,802.8L373.1,803.6M373.9,807.2L374.7,805.6M373.7,810.6L375.2,809.7M373.7,813.5L375.1,814.7M373.8,817.0L374.9,818.4M373.9,820.6L374.8,822.2M378.0,699.3L377.4,697.6M377.6,705.3L378.2,707.0M378.4,709.7L376.6,709.2M377.6,726.9L378.3,728.6M378.3,731.4L376.8,730.5M377.5,741.4L378.4,742.9M377.4,745.9L378.7,744.7M377.5,755.8L378.4,757.3M378.1,759.4L377.2,760.9M378.4,767.0L376.6,767.4M377.4,770.3L378.6,771.6M377.5,778.4L378.3,776.8M378.1,781.0L377.2,782.6M378.0,785.7L377.4,784.0M377.6,789.3L378.2,787.6M378.4,792.2L376.6,792.4M377.8,795.3L377.7,797.1M377.3,799.1L378.7,800.3M378.1,803.6L377.1,802.1M377.8,807.3L377.8,805.5M377.3,810.6L378.8,809.6M377.3,814.2L378.8,813.3M378.4,817.5L376.6,817.5M378.4,821.1L376.6,821.2M381.6,698.1L381.0,699.8M381.2,708.9L381.8,710.6M380.8,713.0L382.6,713.4M381.3,720.9L381.6,719.1M381.9,727.2L380.4,728.1M381.1,796.4L382.0,794.8M380.8,799.4L382.6,799.8M381.6,803.6L380.9,802.0M381.5,806.1L381.2,807.9M381.4,810.9L381.4,809.1M380.8,814.0L382.6,813.7M380.8,817.5L382.6,817.5M381.9,820.8L380.4,821.8M384.6,691.9L385.9,690.7M385.0,694.5L384.9,696.3M385.1,699.3L384.7,697.5M384.7,701.8L385.6,703.4M385.6,731.2L383.8,730.9M385.0,796.5L385.0,794.7M385.3,799.0L384.4,800.5M385.3,802.6L384.4,804.2M385.4,807.1L384.1,805.9M385.4,809.9L384.2,811.2M384.7,814.4L385.7,812.9M385.3,817.0L384.3,818.5M384.9,820.5L385.2,822.3M388.1,699.1L389.5,697.9M388.6,702.9L388.6,701.1M388.6,705.3L388.6,707.1M388.4,708.9L389.0,710.6M388.2,719.8L389.3,721.3M388.1,727.2L389.7,728.1M389.2,742.1L387.5,741.5M389.1,796.2L387.5,795.4M388.1,799.8L389.7,799.0M388.5,802.5L388.8,804.3M388.0,806.7L389.8,806.7M389.2,810.1L387.5,810.7M389.0,814.3L387.8,813.0M388.2,817.1L389.4,818.4M391.8,692.0L393.0,690.6M391.9,706.4L392.7,704.8M391.7,712.8L393.3,713.6M391.8,717.1L393.1,715.9M392.8,731.1L391.0,731.1M392.7,735.0L391.2,734.0M392.5,738.8L391.5,737.3M392.8,795.9L391.0,795.9M392.8,799.7L391.1,799.1M391.9,803.6L392.9,802.1M392.8,806.7L391.0,806.8M392.7,810.5L391.1,809.8M392.8,814.0L391.0,813.8M395.8,698.1L395.7,699.9M395.6,710.1L396.2,708.4M395.5,723.4L396.4,724.9M395.5,727.0L396.4,728.5M396.4,738.5L394.7,737.8M395.4,742.3L396.6,741.0M396.0,795.3L395.5,797.0M396.2,799.0L395.1,800.4M395.6,802.5L396.2,804.2M395.6,806.1L396.2,807.8M396.4,810.2L394.6,810.4M399.9,701.9L398.4,703.0M399.1,710.0L399.9,708.4M398.8,712.9L400.5,713.6M399.0,723.5L400.2,724.8M399.1,728.0L400.1,726.5M399.4,731.7L399.5,729.9M399.5,737.7L399.2,739.5M399.7,741.4L398.8,742.9M398.9,795.7L400.5,796.4M399.4,798.9L399.3,800.7M399.4,803.7L399.4,801.9M403.5,709.9L402.0,708.8M402.4,713.0L404.2,713.3M403.3,728.0L402.5,726.4M403.5,730.9L401.9,731.6M402.7,738.8L403.5,737.2M402.8,742.5L403.3,740.7" stroke="#111" stroke-width="1.0" stroke-linecap="round" fill="none"/>
<path d="M379.1,744.6L386.1,747.2M379.0,748.3L386.1,750.8M379.1,751.7L386.0,754.7M379.0,755.7L386.3,757.5M379.0,759.4L386.3,761.0M379.1,762.6L386.1,765.3M378.9,766.8L386.4,767.7M379.1,769.8L386.1,772.4M378.9,774.0L386.4,775.0M379.0,777.1L386.2,779.4M379.0,780.8L386.2,782.8M379.1,784.2L386.1,786.8M378.9,788.4L386.4,789.2M379.0,791.5L386.1,793.9M382.6,745.0L389.9,746.5M382.5,748.6L389.9,750.0M382.6,751.9L389.8,754.2M382.6,755.7L389.9,757.5M382.6,759.2L389.8,761.2M382.6,762.7L389.8,765.0M382.7,766.2L389.6,769.0M382.6,769.9L389.7,772.3M382.5,773.8L389.9,775.2M382.6,777.1L389.7,779.5M382.6,780.7L389.7,783.1M382.7,784.1L389.6,787.1M382.6,788.1L389.9,789.8M382.6,791.6L389.8,793.6M386.2,744.9L393.4,746.7M386.2,748.5L393.5,750.3M386.2,752.0L393.4,754.2M386.2,755.7L393.4,757.6M386.1,759.6L393.6,760.6M386.2,762.7L393.4,765.1M386.2,766.5L393.5,768.2M386.3,769.8L393.2,772.6M386.1,774.0L393.6,775.0M386.2,777.2L393.4,779.3M386.1,781.0L393.5,782.5M386.2,784.3L393.4,786.6M386.3,787.8L393.3,790.5M386.2,791.5L393.4,793.8M389.9,744.4L396.7,747.6M389.8,748.3L396.9,750.7M389.9,751.8L396.9,754.5M389.9,755.4L396.8,758.2M389.8,759.4L397.1,761.0M389.8,762.7L396.9,765.1M389.8,766.3L397.0,768.6M389.7,770.4L397.2,771.2M389.8,773.6L397.0,775.7M389.9,776.9L396.8,779.9M389.8,780.8L397.0,782.9M389.9,784.2L396.9,786.9M389.7,788.4L397.2,789.3M389.8,791.7L397.1,793.5M393.5,744.5L400.4,747.6M393.3,748.8L400.8,749.7M393.4,752.1L400.7,753.8M393.4,755.7L400.6,757.5M393.3,759.4L400.7,760.8M393.5,762.5L400.4,765.4M393.4,766.5L400.7,768.2M393.5,769.7L400.4,772.7M393.3,774.0L400.8,774.9M393.4,777.3L400.7,779.1M393.4,780.7L400.6,783.0M393.5,784.2L400.5,786.9M393.4,788.1L400.6,790.0M393.5,791.3L400.4,794.3M397.1,744.6L404.0,747.4M397.1,748.1L404.0,751.0M397.0,752.1L404.3,753.8M396.9,756.0L404.4,757.0M397.1,759.0L404.1,761.7M396.9,763.1L404.3,764.2M396.9,766.8L404.4,767.7M397.1,769.7L404.0,772.6M396.9,773.9L404.3,775.1M396.9,777.5L404.3,778.8M397.0,780.9L404.3,782.6M397.0,784.3L404.1,786.8M396.9,788.3L404.3,789.5M396.9,791.8L404.3,793.3M400.6,744.7L407.7,747.1M400.7,748.2L407.7,750.9M400.5,752.4L408.0,753.4M400.7,755.4L407.6,758.1M400.6,759.2L407.8,761.3M400.6,763.0L407.9,764.5M400.5,766.8L408.0,767.8M400.6,770.0L407.8,772.2M400.5,773.9L407.9,775.1M400.6,777.4L407.9,779.0M400.6,780.8L407.8,782.9M400.5,784.7L407.9,785.9M400.5,788.3L407.9,789.5" stroke="#111" stroke-width="0.7" stroke-linecap="round" fill="none"/>
<path d="M382.1,784.9 L402.6,790.5 L401.9,793.1 L410.7,791.1 L404.1,784.9 L403.4,787.4 L382.9,781.9 Z" fill="#111" stroke="#f0a050" stroke-width="3.2" stroke-linejoin="round" paint-order="stroke"/>
<circle cx="121.1" cy="661.9" r="19.9" fill="#fff"/>
<path d="M121.1,661.9 L126.8,642.8 A19.9,19.9 0 0 1 140.4,656.9 Z" fill="#9a9bd0" />
<path d="M121.1,661.9 L114.3,680.6 A19.9,19.9 0 0 1 106.8,675.7 Z" fill="#cf7b92" />
<circle cx="121.1" cy="661.9" r="19.9" fill="none" stroke="#222" stroke-width="1.1"/>
<circle cx="321.7" cy="662.1" r="19.9" fill="#fff"/>
<path d="M321.7,662.1 L341.6,662.7 A19.9,19.9 0 0 1 331.0,679.7 Z" fill="#9a9bd0" />
<path d="M321.7,662.1 L320.0,681.9 A19.9,19.9 0 0 1 311.7,679.3 Z" fill="#cf7b92" />
<circle cx="321.7" cy="662.1" r="19.9" fill="none" stroke="#222" stroke-width="1.1"/>
<text transform="translate(473.4,686) rotate(-90)" font-size="10.71" text-anchor="middle" fill="#222" font-family='"Liberation Sans", sans-serif' textLength="42.4" lengthAdjust="spacingAndGlyphs">Anterior</text>
<line x1="471.0" y1="713.3" x2="471.0" y2="756.0" stroke="#111" stroke-width="1" />
<path d="M471.0,756.0 L469.0,751.5 L473.0,751.5 Z" fill="#111"/>
<path d="M471.0,713.3 L469.0,717.8 L473.0,717.8 Z" fill="#111"/>
<text transform="translate(473.4,785) rotate(-90)" font-size="10.71" text-anchor="middle" fill="#222" font-family='"Liberation Sans", sans-serif' textLength="46.4" lengthAdjust="spacingAndGlyphs">Posterior</text>
<filter id="gbl" x="-20%" y="-20%" width="140%" height="140%"><feGaussianBlur stdDeviation="1.1"/></filter>
<g filter="url(#gbl)">
<rect x="529.3" y="739" width="8.2" height="48.0" fill="#e9b3c1" fill-opacity="0.35"/>
<rect x="537.5" y="739" width="12.9" height="48.0" fill="#c9cbeb" fill-opacity="0.4"/>
<rect x="560.2" y="702.8" width="8.8" height="83.0" fill="#e9b3c1" fill-opacity="0.4"/>
<rect x="569" y="702.8" width="12.9" height="83.0" fill="#c9cbeb" fill-opacity="0.45"/>
<rect x="581.9" y="720.4" width="8.1" height="66.6" fill="#e9b3c1" fill-opacity="0.35"/>
<rect x="590" y="713" width="15.3" height="75.0" fill="#c9cbeb" fill-opacity="0.45"/>
<rect x="604" y="694.7" width="8.3" height="99.3" fill="#e9b3c1" fill-opacity="0.4"/>
<rect x="612.3" y="694.7" width="9.3" height="99.3" fill="#c9cbeb" fill-opacity="0.45"/>
<rect x="621.6" y="713" width="5.8" height="77.0" fill="#e9b3c1" fill-opacity="0.35"/>
<rect x="627.4" y="713" width="7.1" height="77.0" fill="#c9cbeb" fill-opacity="0.45"/>
<rect x="633.3" y="708" width="10.5" height="82.0" fill="#e9b3c1" fill-opacity="0.35"/>
<rect x="643.8" y="704" width="16.2" height="84.0" fill="#c9cbeb" fill-opacity="0.45"/>
<rect x="529.8" y="760" width="6.7" height="20.0" fill="#e9b3c1" fill-opacity="0.55"/>
<rect x="538" y="760" width="12.0" height="22.0" fill="#c9cbeb" fill-opacity="0.35"/>
<rect x="560.8" y="716" width="6.2" height="69.0" fill="#e9b3c1" fill-opacity="0.6"/>
<rect x="570" y="716" width="10.0" height="68.0" fill="#c9cbeb" fill-opacity="0.3"/>
<rect x="582.5" y="735" width="6.5" height="50.0" fill="#e9b3c1" fill-opacity="0.6"/>
<rect x="591" y="730" width="13.0" height="56.0" fill="#c9cbeb" fill-opacity="0.25"/>
<rect x="604.5" y="700" width="6.5" height="90.0" fill="#e9b3c1" fill-opacity="0.6"/>
<rect x="613" y="705" width="7.5" height="87.0" fill="#c9cbeb" fill-opacity="0.3"/>
<rect x="622" y="725" width="5.0" height="63.0" fill="#e9b3c1" fill-opacity="0.4"/>
<rect x="635" y="735" width="6.0" height="55.0" fill="#e9b3c1" fill-opacity="0.6"/>
<rect x="645" y="720" width="12.0" height="60.0" fill="#c9cbeb" fill-opacity="0.25"/>
</g>
<rect x="483.5" y="669.4" width="191.5" height="134.4" fill="none" stroke="#111" stroke-width="1.2"/>
<line x1="638.3" y1="669.4" x2="638.3" y2="803.8" stroke="#222" stroke-width="1.1" />
<text x="638.2" y="664.8" font-size="10.71" text-anchor="middle" fill="#222" font-family='"Liberation Sans", sans-serif' textLength="58.07" lengthAdjust="spacingAndGlyphs" >EE Rupture</text>
<line x1="503.7" y1="803.8" x2="503.7" y2="807.3" stroke="#111" stroke-width="1" />
<text x="503.7" y="818.6" font-size="10.61" text-anchor="middle" fill="#222" font-family='"Liberation Sans", sans-serif' textLength="13.23" lengthAdjust="spacingAndGlyphs" >10</text>
<line x1="542.1" y1="803.8" x2="542.1" y2="807.3" stroke="#111" stroke-width="1" />
<text x="542.1" y="818.6" font-size="10.61" text-anchor="middle" fill="#222" font-family='"Liberation Sans", sans-serif' textLength="13.23" lengthAdjust="spacingAndGlyphs" >30</text>
<line x1="580.5" y1="803.8" x2="580.5" y2="807.3" stroke="#111" stroke-width="1" />
<text x="580.5" y="818.6" font-size="10.61" text-anchor="middle" fill="#222" font-family='"Liberation Sans", sans-serif' textLength="13.23" lengthAdjust="spacingAndGlyphs" >50</text>
<line x1="618.8" y1="803.8" x2="618.8" y2="807.3" stroke="#111" stroke-width="1" />
<text x="618.8" y="818.6" font-size="10.61" text-anchor="middle" fill="#222" font-family='"Liberation Sans", sans-serif' textLength="13.23" lengthAdjust="spacingAndGlyphs" >70</text>
<line x1="657.2" y1="803.8" x2="657.2" y2="807.3" stroke="#111" stroke-width="1" />
<text x="657.2" y="818.6" font-size="10.61" text-anchor="middle" fill="#222" font-family='"Liberation Sans", sans-serif' textLength="13.23" lengthAdjust="spacingAndGlyphs" >90</text>
<text x="582.6" y="832.8" font-size="10.81" text-anchor="middle" fill="#222" font-family='"Liberation Sans", sans-serif' textLength="33.03" lengthAdjust="spacingAndGlyphs" >Frame</text>
</svg>
</body></html>
